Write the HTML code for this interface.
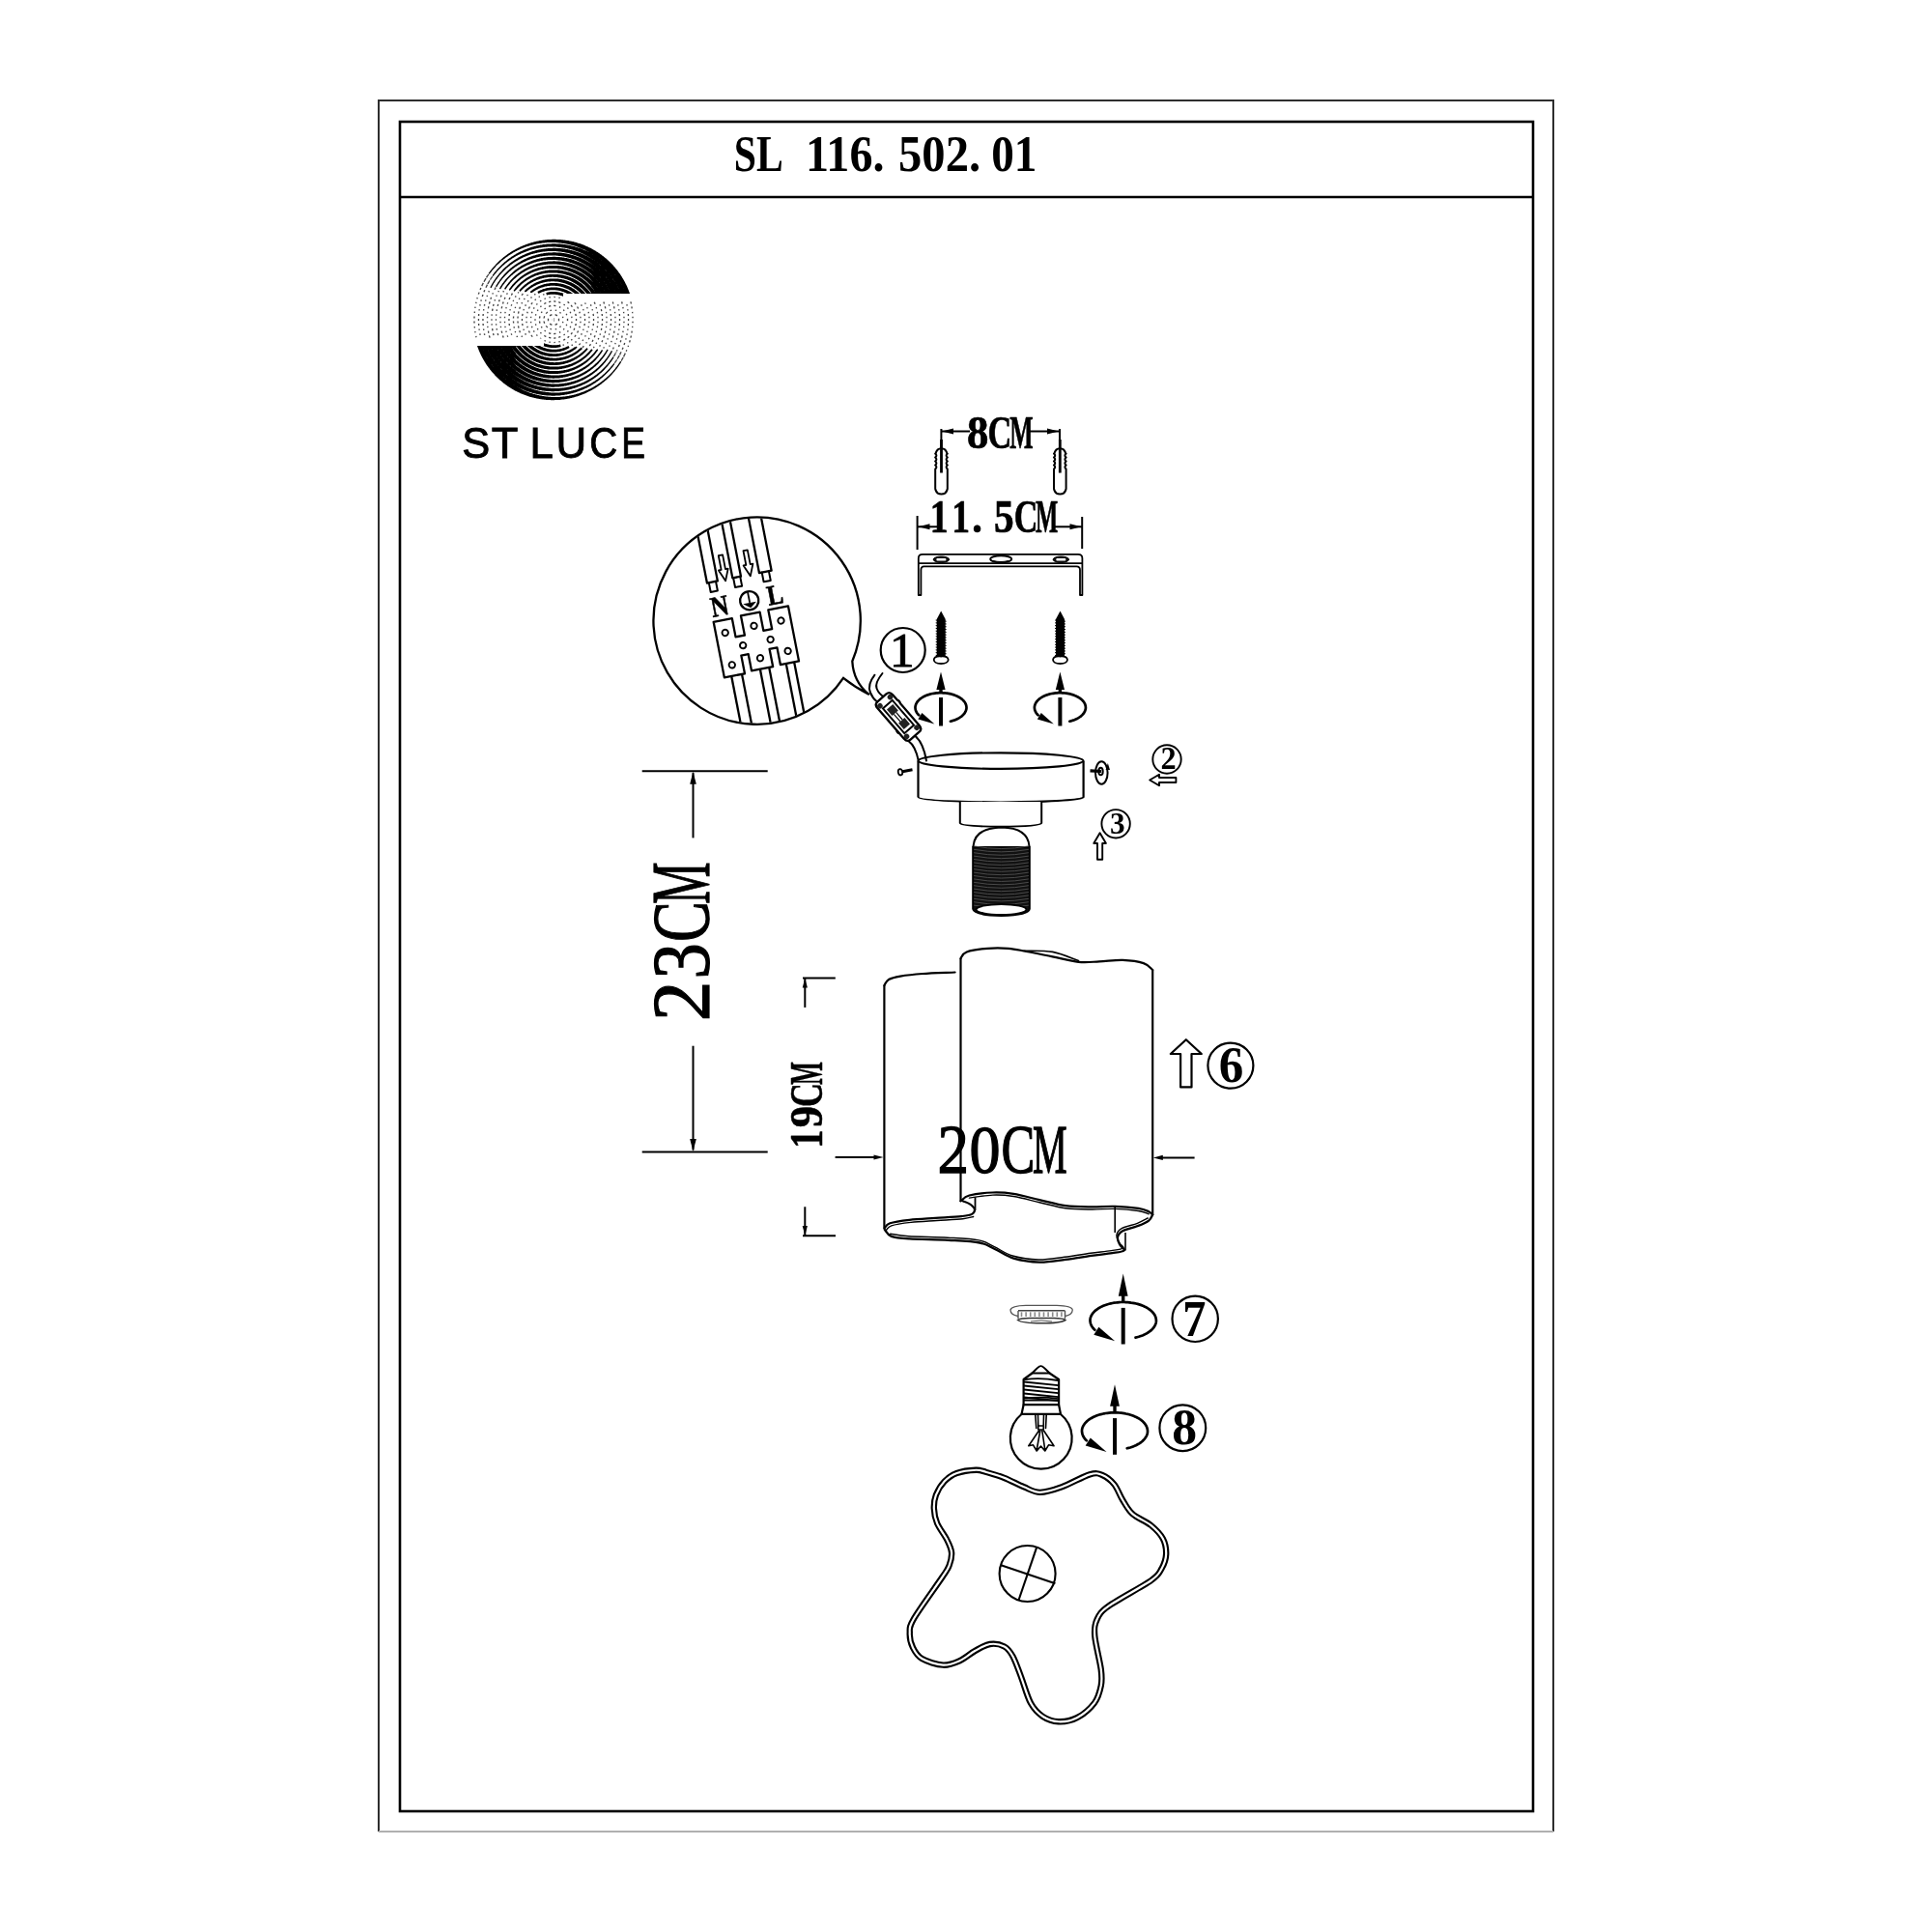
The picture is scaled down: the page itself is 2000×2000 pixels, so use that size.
<!DOCTYPE html>
<html><head><meta charset="utf-8"><title>SL 116.502.01</title><style>
html,body{margin:0;padding:0;background:#fff;}
body{width:2000px;height:2000px;overflow:hidden;position:relative}
svg{position:absolute;left:0;top:0;display:block;will-change:transform}
</style></head><body>
<svg width="2000" height="2000" viewBox="0 0 2000 2000">
<rect width="2000" height="2000" fill="#fff"/>
<path d="M392,1896 L392,104 L1608,104 L1608,1896" fill="none" stroke="#2e2e2e" stroke-width="2"/>
<line x1="392" y1="1896" x2="1608" y2="1896" stroke="#b0b0b0" stroke-width="1.8"/>
<rect x="414" y="126" width="1173" height="1749" fill="none" stroke="#000" stroke-width="2.6"/>
<line x1="414" y1="204" x2="1587" y2="204" stroke="#000" stroke-width="2.6"/>
<path fill="#000" d="M643.3,374.6L643.1,375.0L642.7,375.6L642.3,376.2L641.9,376.7L641.5,377.3L641.1,377.9L640.7,378.5L640.3,379.1L639.9,379.7L639.5,380.2L639.0,380.8L638.6,381.4L638.2,382.0L637.7,382.5L637.3,383.1L636.8,383.6L636.4,384.2L635.9,384.7L635.4,385.3L635.0,385.8L634.5,386.3L634.0,386.9L633.5,387.4L633.1,387.9L632.6,388.4L632.1,388.9L631.6,389.4L631.1,390.0L630.6,390.5L630.1,391.0L629.5,391.4L629.0,391.9L628.5,392.4L628.0,392.9L627.4,393.4L626.9,393.8L626.4,394.3L625.8,394.8L625.3,395.2L624.7,395.7L624.1,396.1L623.6,396.6L623.0,397.0L622.5,397.4L621.9,397.9L621.3,398.3L620.7,398.7L620.1,399.1L619.6,399.5L619.0,399.9L618.4,400.3L617.8,400.7L617.2,401.1L616.6,401.5L616.0,401.9L615.4,402.2L614.7,402.6L614.1,403.0L613.5,403.3L612.9,403.7L612.3,404.0L611.6,404.3L611.0,404.7L610.4,405.0L609.7,405.3L609.1,405.6L608.4,406.0L607.8,406.3L607.2,406.6L606.5,406.9L605.8,407.2L605.2,407.4L604.5,407.7L603.9,408.0L603.2,408.3L602.5,408.5L601.9,408.8L601.2,409.0L600.5,409.3L599.9,409.5L599.2,409.7L598.5,410.0L597.8,410.2L597.1,410.4L596.5,410.6L595.8,410.8L595.1,411.0L594.4,411.2L593.7,411.4L593.0,411.6L592.3,411.8L591.6,411.9L590.9,412.1L590.2,412.2L589.5,412.4L588.8,412.5L588.1,412.7L587.4,412.8L586.7,412.9L586.0,413.1L585.3,413.2L584.6,413.3L583.9,413.4L583.2,413.5L582.5,413.6L581.8,413.6L581.0,413.7L580.3,413.8L579.6,413.9L578.9,413.9L578.2,414.0L577.5,414.0L576.8,414.1L576.0,414.1L575.3,414.1L574.6,414.1L573.9,414.2L573.2,414.2L572.5,414.2L571.7,414.2L571.0,414.2L570.3,414.2L569.6,414.1L568.9,414.1L568.2,414.1L567.4,414.0L566.7,414.0L566.0,413.9L565.3,413.9L564.6,413.8L563.9,413.7L563.2,413.7L562.4,413.6L561.7,413.5L561.0,413.4L560.3,413.3L559.6,413.2L558.9,413.1L558.2,413.0L557.5,412.8L556.8,412.7L556.1,412.6L555.4,412.4L554.7,412.3L554.0,412.1L553.3,412.0L552.6,411.8L551.9,411.6L551.2,411.4L550.5,411.2L549.8,411.1L549.1,410.9L548.4,410.7L547.7,410.4L547.0,410.2L546.3,410.0L545.7,409.8L545.0,409.5L544.3,409.3L543.6,409.1L543.0,408.8L542.3,408.6L541.6,408.3L541.0,408.0L540.3,407.7L539.6,407.5L539.0,407.2L538.3,406.9L537.7,406.6L537.0,406.3L536.3,406.0L535.7,405.7L535.1,405.3L534.4,405.0L533.8,404.7L533.1,404.4L532.5,404.0L531.9,403.7L531.3,403.3L530.6,403.0L530.0,402.6L529.4,402.2L528.8,401.8L528.2,401.4L527.6,401.1L527.0,400.7L526.4,400.3L525.8,399.9L525.2,399.5L524.6,399.0L524.0,398.6L523.4,398.2L522.8,397.8L522.3,397.3L521.7,396.9L521.1,396.4L520.6,396.0L520.0,395.5L519.5,395.1L518.9,394.6L518.4,394.1L517.8,393.7L517.3,393.2L516.8,392.7L516.2,392.2L515.7,391.7L515.2,391.2L514.7,390.7L514.1,390.2L513.6,389.7L513.1,389.2L512.6,388.7L512.1,388.2L511.7,387.6L511.2,387.1L510.7,386.6L510.2,386.0L509.7,385.5L509.3,384.9L508.8,384.4L508.3,383.8L507.9,383.3L507.4,382.7L507.0,382.2L506.6,381.6L506.1,381.0L505.7,380.4L505.3,379.8L504.9,379.3L504.4,378.7L504.0,378.1L503.6,377.5L503.2,376.9L502.8,376.3L502.5,375.7L502.1,375.1L501.7,374.5L501.3,373.8L501.0,373.2L500.6,372.6L500.2,372.0L499.9,371.3L499.5,370.7L499.2,370.1L498.9,369.4L498.5,368.8L498.2,368.2L497.9,367.5L497.6,366.9L497.3,366.2L497.0,365.6L496.7,364.9L496.4,364.2L496.1,363.6L495.8,362.9L495.6,362.2L495.3,361.6L495.0,360.9L494.8,360.2L494.5,359.6L494.3,358.9L494.1,358.2L493.8,357.5L493.6,356.8L493.5,356.5L497.8,355.1L497.9,355.4L498.1,356.1L498.3,356.7L498.5,357.4L498.8,358.0L499.0,358.7L499.2,359.3L499.5,359.9L499.7,360.6L500.0,361.2L500.3,361.8L500.5,362.4L500.8,363.1L501.1,363.7L501.4,364.3L501.7,364.9L502.0,365.5L502.3,366.2L502.6,366.8L502.9,367.4L503.2,368.0L503.5,368.6L503.8,369.2L504.2,369.8L504.5,370.4L504.8,370.9L505.2,371.5L505.5,372.1L505.9,372.7L506.3,373.3L506.6,373.8L507.0,374.4L507.4,375.0L507.8,375.5L508.1,376.1L508.5,376.7L508.9,377.2L509.3,377.8L509.7,378.3L510.1,378.9L510.6,379.4L511.0,379.9L511.4,380.5L511.8,381.0L512.3,381.5L512.7,382.0L513.1,382.6L513.6,383.1L514.0,383.6L514.5,384.1L515.0,384.6L515.4,385.1L515.9,385.6L516.4,386.1L516.8,386.6L517.3,387.0L517.8,387.5L518.3,388.0L518.8,388.5L519.3,388.9L519.8,389.4L520.3,389.8L520.8,390.3L521.3,390.7L521.8,391.2L522.4,391.6L522.9,392.1L523.4,392.5L523.9,392.9L524.5,393.3L525.0,393.8L525.6,394.2L526.1,394.6L526.6,395.0L527.2,395.4L527.8,395.8L528.3,396.1L528.9,396.5L529.4,396.9L530.0,397.3L530.6,397.7L531.2,398.0L531.7,398.4L532.3,398.7L532.9,399.1L533.5,399.4L534.1,399.8L534.7,400.1L535.3,400.5L535.9,400.8L536.4,401.1L537.0,401.5L537.6,401.8L538.3,402.1L538.9,402.4L539.5,402.7L540.1,403.0L540.7,403.3L541.3,403.6L541.9,403.9L542.6,404.2L543.2,404.4L543.8,404.7L544.4,405.0L545.1,405.2L545.7,405.5L546.3,405.7L547.0,406.0L547.6,406.2L548.3,406.4L548.9,406.7L549.6,406.9L550.2,407.1L550.9,407.3L551.5,407.5L552.2,407.7L552.8,407.9L553.5,408.1L554.2,408.3L554.8,408.4L555.5,408.6L556.2,408.8L556.8,408.9L557.5,409.1L558.2,409.2L558.8,409.4L559.5,409.5L560.2,409.6L560.9,409.8L561.5,409.9L562.2,410.0L562.9,410.1L563.6,410.2L564.3,410.3L564.9,410.4L565.6,410.5L566.3,410.5L567.0,410.6L567.7,410.7L568.4,410.7L569.0,410.8L569.7,410.8L570.4,410.9L571.1,410.9L571.8,410.9L572.5,411.0L573.2,411.0L573.9,411.0L574.6,411.0L575.2,411.0L575.9,411.0L576.6,411.0L577.3,411.0L578.0,410.9L578.7,410.9L579.4,410.9L580.1,410.8L580.8,410.8L581.4,410.7L582.1,410.7L582.8,410.6L583.5,410.5L584.2,410.5L584.9,410.4L585.6,410.3L586.3,410.2L586.9,410.1L587.6,410.0L588.3,409.9L589.0,409.7L589.7,409.6L590.4,409.5L591.0,409.3L591.7,409.2L592.4,409.0L593.1,408.9L593.7,408.7L594.4,408.6L595.1,408.4L595.8,408.2L596.4,408.0L597.1,407.8L597.8,407.6L598.4,407.4L599.1,407.2L599.7,407.0L600.4,406.8L601.1,406.6L601.7,406.3L602.4,406.1L603.0,405.9L603.7,405.6L604.3,405.4L605.0,405.1L605.6,404.8L606.2,404.6L606.9,404.3L607.5,404.0L608.2,403.7L608.8,403.4L609.4,403.1L610.0,402.8L610.7,402.5L611.3,402.2L611.9,401.9L612.5,401.5L613.1,401.2L613.7,400.9L614.4,400.5L615.0,400.2L615.6,399.8L616.2,399.5L616.7,399.1L617.3,398.7L617.9,398.4L618.5,398.0L619.1,397.6L619.7,397.2L620.3,396.8L620.8,396.4L621.4,396.0L622.0,395.6L622.5,395.2L623.1,394.8L623.6,394.3L624.2,393.9L624.7,393.5L625.3,393.0L625.8,392.6L626.4,392.1L626.9,391.7L627.4,391.2L628.0,390.8L628.5,390.3L629.0,389.8L629.5,389.4L630.0,388.9L630.5,388.4L631.0,387.9L631.5,387.4L632.0,386.9L632.5,386.4L633.0,385.9L633.5,385.4L633.9,384.9L634.4,384.4L634.9,383.8L635.3,383.3L635.8,382.8L636.2,382.2L636.7,381.7L637.1,381.1L637.5,380.6L637.9,380.0L638.4,379.4L638.8,378.9L639.2,378.3L639.6,377.7L640.0,377.2L640.4,376.6L640.8,376.0L641.2,375.4L641.5,374.8L641.9,374.2L642.1,373.9ZM505.7,282.9L505.9,282.6L506.3,282.0L506.8,281.5L507.2,280.9L507.6,280.3L508.1,279.8L508.5,279.2L509.0,278.7L509.4,278.1L509.9,277.6L510.3,277.0L510.8,276.5L511.3,275.9L511.7,275.4L512.2,274.9L512.7,274.4L513.2,273.8L513.7,273.3L514.2,272.8L514.7,272.3L515.2,271.8L515.7,271.3L516.2,270.8L516.7,270.3L517.2,269.8L517.8,269.3L518.3,268.9L518.8,268.4L519.4,267.9L519.9,267.5L520.5,267.0L521.0,266.6L521.6,266.1L522.1,265.7L522.7,265.2L523.3,264.8L523.8,264.4L524.4,263.9L525.0,263.5L525.6,263.1L526.1,262.7L526.7,262.3L527.3,261.9L527.9,261.5L528.5,261.1L529.1,260.7L529.7,260.3L530.3,260.0L530.9,259.6L531.6,259.2L532.2,258.9L532.8,258.5L533.4,258.2L534.1,257.8L534.7,257.5L535.3,257.2L536.0,256.8L536.6,256.5L537.2,256.2L537.9,255.9L538.5,255.6L539.2,255.3L539.8,255.0L540.5,254.7L541.1,254.4L541.8,254.1L542.5,253.9L543.1,253.6L543.8,253.4L544.5,253.1L545.1,252.9L545.8,252.6L546.5,252.4L547.2,252.1L547.8,251.9L548.5,251.7L549.2,251.5L549.9,251.3L550.6,251.1L551.3,250.9L551.9,250.7L552.6,250.5L553.3,250.3L554.0,250.2L554.7,250.0L555.4,249.8L556.1,249.7L556.8,249.5L557.5,249.4L558.2,249.3L558.9,249.1L559.6,249.0L560.3,248.9L561.0,248.8L561.8,248.7L562.5,248.6L563.2,248.5L563.9,248.4L564.6,248.3L565.3,248.2L566.0,248.2L566.7,248.1L567.5,248.1L568.2,248.0L568.9,248.0L569.6,247.9L570.3,247.9L571.0,247.9L571.7,247.8L572.5,247.8L573.2,247.8L573.9,247.8L574.6,247.8L575.3,247.8L576.0,247.9L576.8,247.9L577.5,247.9L578.2,247.9L578.9,248.0L579.6,248.0L580.3,248.1L581.1,248.2L581.8,248.2L582.5,248.3L583.2,248.4L583.9,248.5L584.6,248.6L585.3,248.7L586.0,248.8L586.8,248.9L587.5,249.0L588.2,249.1L588.9,249.2L589.6,249.4L590.3,249.5L591.0,249.7L591.7,249.8L592.4,250.0L593.1,250.1L593.8,250.3L594.5,250.5L595.2,250.7L595.9,250.8L596.6,251.0L597.3,251.2L597.9,251.5L598.6,251.7L599.3,251.9L600.0,252.1L600.7,252.3L601.4,252.6L602.0,252.8L602.7,253.1L603.4,253.3L604.0,253.6L604.7,253.8L605.4,254.1L606.0,254.4L606.7,254.7L607.4,255.0L608.0,255.3L608.7,255.6L609.3,255.9L610.0,256.2L610.6,256.5L611.3,256.8L611.9,257.1L612.5,257.5L613.2,257.8L613.8,258.2L614.4,258.5L615.1,258.9L615.7,259.2L616.3,259.6L616.9,260.0L617.5,260.4L618.1,260.7L618.7,261.1L619.3,261.5L619.9,261.9L620.5,262.3L621.1,262.8L621.7,263.2L622.3,263.6L622.9,264.0L623.4,264.5L624.0,264.9L624.6,265.3L625.1,265.8L625.7,266.2L626.3,266.7L626.8,267.2L627.4,267.6L627.9,268.1L628.4,268.6L629.0,269.0L629.5,269.5L630.0,270.0L630.6,270.5L631.1,271.0L631.6,271.5L632.1,272.0L632.6,272.5L633.1,273.0L633.6,273.6L634.1,274.1L634.6,274.6L635.1,275.2L635.6,275.7L636.0,276.2L636.5,276.8L637.0,277.3L637.4,277.9L637.9,278.4L638.3,279.0L638.8,279.6L639.2,280.1L639.7,280.7L640.1,281.3L640.5,281.9L640.9,282.4L641.3,283.0L641.8,283.6L642.2,284.2L642.6,284.8L643.0,285.4L643.4,286.0L643.7,286.6L644.1,287.2L644.5,287.9L644.9,288.5L645.2,289.1L645.6,289.7L645.9,290.3L646.3,291.0L646.6,291.6L647.0,292.2L647.3,292.9L647.6,293.5L647.9,294.2L648.3,294.8L648.6,295.5L648.9,296.1L649.2,296.8L649.5,297.4L649.7,298.1L650.0,298.8L650.3,299.4L650.6,300.1L650.8,300.8L651.1,301.4L651.3,302.1L651.6,302.8L651.8,303.5L652.1,304.1L652.3,304.8L652.4,305.2L648.1,306.6L648.0,306.2L647.8,305.6L647.6,304.9L647.4,304.3L647.1,303.7L646.9,303.0L646.6,302.4L646.4,301.8L646.1,301.1L645.9,300.5L645.6,299.9L645.3,299.2L645.1,298.6L644.8,298.0L644.5,297.4L644.2,296.8L643.9,296.2L643.6,295.5L643.3,294.9L643.0,294.3L642.7,293.7L642.3,293.1L642.0,292.5L641.7,291.9L641.3,291.4L641.0,290.8L640.6,290.2L640.3,289.6L639.9,289.0L639.6,288.4L639.2,287.9L638.8,287.3L638.4,286.7L638.1,286.2L637.7,285.6L637.3,285.1L636.9,284.5L636.5,284.0L636.1,283.4L635.6,282.9L635.2,282.3L634.8,281.8L634.4,281.3L634.0,280.7L633.5,280.2L633.1,279.7L632.6,279.2L632.2,278.7L631.7,278.2L631.3,277.7L630.8,277.2L630.3,276.7L629.9,276.2L629.4,275.7L628.9,275.2L628.4,274.7L628.0,274.2L627.5,273.8L627.0,273.3L626.5,272.8L626.0,272.4L625.5,271.9L624.9,271.5L624.4,271.0L623.9,270.6L623.4,270.2L622.9,269.7L622.3,269.3L621.8,268.9L621.3,268.5L620.7,268.0L620.2,267.6L619.6,267.2L619.1,266.8L618.5,266.4L618.0,266.0L617.4,265.7L616.8,265.3L616.3,264.9L615.7,264.5L615.1,264.2L614.5,263.8L614.0,263.5L613.4,263.1L612.8,262.8L612.2,262.4L611.6,262.1L611.0,261.7L610.4,261.4L609.9,261.0L609.3,260.7L608.7,260.4L608.1,260.1L607.4,259.8L606.8,259.4L606.2,259.1L605.6,258.8L605.0,258.6L604.4,258.3L603.8,258.0L603.1,257.7L602.5,257.4L601.9,257.2L601.2,256.9L600.6,256.7L600.0,256.4L599.3,256.2L598.7,255.9L598.0,255.7L597.4,255.5L596.8,255.2L596.1,255.0L595.5,254.8L594.8,254.6L594.1,254.4L593.5,254.2L592.8,254.0L592.2,253.8L591.5,253.7L590.8,253.5L590.2,253.3L589.5,253.2L588.8,253.0L588.2,252.8L587.5,252.7L586.8,252.6L586.2,252.4L585.5,252.3L584.8,252.2L584.1,252.1L583.4,252.0L582.8,251.9L582.1,251.8L581.4,251.7L580.7,251.6L580.0,251.5L579.4,251.4L578.7,251.4L578.0,251.3L577.3,251.2L576.6,251.2L575.9,251.1L575.2,251.1L574.6,251.1L573.9,251.0L573.2,251.0L572.5,251.0L571.8,251.0L571.1,251.0L570.4,251.0L569.7,251.0L569.0,251.0L568.3,251.1L567.7,251.1L567.0,251.1L566.3,251.1L565.6,251.2L564.9,251.2L564.2,251.3L563.5,251.4L562.8,251.4L562.1,251.5L561.5,251.6L560.8,251.7L560.1,251.8L559.4,251.9L558.7,252.0L558.0,252.1L557.3,252.2L556.7,252.3L556.0,252.5L555.3,252.6L554.6,252.7L553.9,252.9L553.3,253.0L552.6,253.2L551.9,253.4L551.3,253.5L550.6,253.7L549.9,253.9L549.2,254.1L548.6,254.3L547.9,254.5L547.2,254.7L546.6,254.9L545.9,255.1L545.3,255.3L544.6,255.5L544.0,255.8L543.3,256.0L542.7,256.3L542.0,256.5L541.4,256.8L540.7,257.0L540.1,257.3L539.4,257.6L538.8,257.9L538.2,258.1L537.5,258.4L536.9,258.7L536.3,259.0L535.6,259.3L535.0,259.7L534.4,260.0L533.8,260.3L533.2,260.6L532.6,261.0L532.0,261.3L531.3,261.6L530.7,262.0L530.1,262.4L529.5,262.7L529.0,263.1L528.4,263.5L527.8,263.8L527.2,264.2L526.6,264.6L526.0,265.0L525.5,265.4L524.9,265.8L524.3,266.2L523.8,266.6L523.2,267.0L522.6,267.4L522.1,267.9L521.5,268.3L521.0,268.7L520.4,269.2L519.9,269.6L519.4,270.1L518.8,270.5L518.3,271.0L517.8,271.5L517.3,271.9L516.8,272.4L516.2,272.9L515.7,273.4L515.2,273.8L514.7,274.3L514.2,274.8L513.7,275.3L513.3,275.8L512.8,276.4L512.3,276.9L511.8,277.4L511.4,277.9L510.9,278.4L510.4,279.0L510.0,279.5L509.6,280.1L509.1,280.6L508.7,281.2L508.3,281.7L507.8,282.3L507.4,282.8L507.0,283.4L506.8,283.7ZM636.4,376.8L636.2,377.1L635.8,377.7L635.3,378.2L634.9,378.8L634.5,379.4L634.0,379.9L633.6,380.5L633.1,381.0L632.7,381.6L632.2,382.1L631.7,382.7L631.3,383.2L630.8,383.7L630.3,384.3L629.8,384.8L629.3,385.3L628.8,385.8L628.3,386.3L627.8,386.8L627.3,387.3L626.8,387.8L626.3,388.3L625.8,388.8L625.2,389.3L624.7,389.8L624.2,390.3L623.6,390.7L623.1,391.2L622.5,391.6L622.0,392.1L621.4,392.5L620.9,393.0L620.3,393.4L619.7,393.9L619.2,394.3L618.6,394.7L618.0,395.1L617.4,395.5L616.8,396.0L616.2,396.4L615.6,396.7L615.0,397.1L614.4,397.5L613.8,397.9L613.2,398.3L612.6,398.6L612.0,399.0L611.4,399.4L610.7,399.7L610.1,400.1L609.5,400.4L608.9,400.7L608.2,401.1L607.6,401.4L606.9,401.7L606.3,402.0L605.6,402.3L605.0,402.6L604.3,402.9L603.7,403.2L603.0,403.5L602.4,403.8L601.7,404.0L601.0,404.3L600.4,404.5L599.7,404.8L599.0,405.0L598.3,405.3L597.7,405.5L597.0,405.7L596.3,406.0L595.6,406.2L594.9,406.4L594.2,406.6L593.6,406.8L592.9,407.0L592.2,407.2L591.5,407.3L590.8,407.5L590.1,407.7L589.4,407.8L588.7,408.0L588.0,408.1L587.3,408.3L586.6,408.4L585.9,408.5L585.2,408.6L584.4,408.8L583.7,408.9L583.0,409.0L582.3,409.1L581.6,409.1L580.9,409.2L580.2,409.3L579.5,409.4L578.7,409.4L578.0,409.5L577.3,409.5L576.6,409.6L575.9,409.6L575.2,409.6L574.4,409.7L573.7,409.7L573.0,409.7L572.3,409.7L571.6,409.7L570.8,409.7L570.1,409.6L569.4,409.6L568.7,409.6L568.0,409.6L567.3,409.5L566.5,409.5L565.8,409.4L565.1,409.3L564.4,409.3L563.7,409.2L563.0,409.1L562.2,409.0L561.5,408.9L560.8,408.8L560.1,408.7L559.4,408.6L558.7,408.5L558.0,408.3L557.3,408.2L556.6,408.1L555.9,407.9L555.2,407.8L554.5,407.6L553.8,407.4L553.1,407.3L552.4,407.1L551.7,406.9L551.0,406.7L550.3,406.5L549.6,406.3L548.9,406.1L548.2,405.9L547.5,405.6L546.9,405.4L546.2,405.2L545.5,404.9L544.8,404.7L544.1,404.4L543.5,404.2L542.8,403.9L542.1,403.6L541.5,403.3L540.8,403.1L540.2,402.8L539.5,402.5L538.8,402.2L538.2,401.9L537.5,401.5L536.9,401.2L536.3,400.9L535.6,400.6L535.0,400.2L534.3,399.9L533.7,399.5L533.1,399.2L532.5,398.8L531.8,398.4L531.2,398.1L530.6,397.7L530.0,397.3L529.4,396.9L528.8,396.5L528.2,396.1L527.6,395.7L527.0,395.2L526.4,394.8L525.9,394.4L525.3,394.0L524.7,393.5L524.1,393.1L523.6,392.6L523.0,392.2L522.5,391.7L521.9,391.3L521.4,390.8L520.8,390.3L520.3,389.8L519.7,389.4L519.2,388.9L518.7,388.4L518.2,387.9L517.7,387.4L517.1,386.9L516.6,386.3L516.1,385.8L515.6,385.3L515.1,384.8L514.6,384.3L514.2,383.7L513.7,383.2L513.2,382.6L512.7,382.1L512.3,381.5L511.8,381.0L511.4,380.4L510.9,379.9L510.5,379.3L510.0,378.7L509.6,378.1L509.2,377.6L508.8,377.0L508.3,376.4L507.9,375.8L507.5,375.2L507.1,374.6L506.7,374.0L506.3,373.4L505.9,372.8L505.6,372.2L505.2,371.5L504.8,370.9L504.5,370.3L504.1,369.7L503.8,369.0L503.4,368.4L503.1,367.8L502.7,367.1L502.4,366.5L502.1,365.8L501.8,365.2L501.5,364.5L501.2,363.9L500.9,363.2L500.6,362.6L500.3,361.9L500.0,361.2L499.7,360.6L499.5,359.9L499.2,359.2L499.0,358.5L498.7,357.9L498.5,357.2L498.2,356.5L498.1,356.2L502.4,354.7L502.5,355.1L502.7,355.7L502.9,356.3L503.2,357.0L503.4,357.6L503.7,358.2L503.9,358.9L504.2,359.5L504.4,360.1L504.7,360.8L505.0,361.4L505.3,362.0L505.5,362.6L505.8,363.2L506.1,363.8L506.4,364.5L506.7,365.1L507.1,365.7L507.4,366.3L507.7,366.9L508.0,367.5L508.4,368.1L508.7,368.6L509.1,369.2L509.4,369.8L509.8,370.4L510.1,371.0L510.5,371.5L510.9,372.1L511.2,372.7L511.6,373.2L512.0,373.8L512.4,374.3L512.8,374.9L513.2,375.4L513.6,376.0L514.0,376.5L514.5,377.1L514.9,377.6L515.3,378.1L515.7,378.7L516.2,379.2L516.6,379.7L517.1,380.2L517.5,380.7L518.0,381.2L518.4,381.7L518.9,382.2L519.4,382.7L519.8,383.2L520.3,383.7L520.8,384.2L521.3,384.6L521.8,385.1L522.3,385.6L522.8,386.0L523.3,386.5L523.8,386.9L524.3,387.4L524.8,387.8L525.3,388.3L525.9,388.7L526.4,389.1L526.9,389.5L527.5,390.0L528.0,390.4L528.6,390.8L529.1,391.2L529.7,391.6L530.2,392.0L530.8,392.4L531.3,392.8L531.9,393.1L532.5,393.5L533.0,393.9L533.6,394.2L534.2,394.6L534.8,395.0L535.3,395.3L535.9,395.7L536.5,396.0L537.1,396.4L537.7,396.7L538.3,397.1L538.9,397.4L539.5,397.7L540.1,398.0L540.7,398.3L541.3,398.6L541.9,398.9L542.5,399.2L543.1,399.5L543.8,399.8L544.4,400.1L545.0,400.4L545.6,400.6L546.3,400.9L546.9,401.1L547.5,401.4L548.2,401.6L548.8,401.9L549.5,402.1L550.1,402.3L550.8,402.6L551.4,402.8L552.1,403.0L552.7,403.2L553.4,403.4L554.0,403.6L554.7,403.8L555.3,403.9L556.0,404.1L556.7,404.3L557.3,404.4L558.0,404.6L558.7,404.8L559.4,404.9L560.0,405.0L560.7,405.2L561.4,405.3L562.0,405.4L562.7,405.5L563.4,405.6L564.1,405.7L564.8,405.8L565.4,405.9L566.1,406.0L566.8,406.1L567.5,406.1L568.2,406.2L568.9,406.3L569.6,406.3L570.2,406.4L570.9,406.4L571.6,406.4L572.3,406.5L573.0,406.5L573.7,406.5L574.4,406.5L575.1,406.5L575.8,406.5L576.4,406.5L577.1,406.5L577.8,406.4L578.5,406.4L579.2,406.4L579.9,406.3L580.6,406.3L581.3,406.2L582.0,406.2L582.7,406.1L583.3,406.0L584.0,405.9L584.7,405.8L585.4,405.7L586.1,405.6L586.8,405.5L587.5,405.4L588.1,405.3L588.8,405.2L589.5,405.0L590.2,404.9L590.9,404.8L591.5,404.6L592.2,404.4L592.9,404.3L593.5,404.1L594.2,403.9L594.9,403.8L595.6,403.6L596.2,403.4L596.9,403.2L597.6,403.0L598.2,402.8L598.9,402.5L599.5,402.3L600.2,402.1L600.8,401.8L601.5,401.6L602.1,401.3L602.8,401.1L603.4,400.8L604.1,400.6L604.7,400.3L605.3,400.0L606.0,399.7L606.6,399.4L607.2,399.1L607.9,398.8L608.5,398.5L609.1,398.2L609.7,397.9L610.3,397.5L611.0,397.2L611.6,396.9L612.2,396.5L612.8,396.2L613.4,395.8L614.0,395.5L614.6,395.1L615.2,394.7L615.8,394.4L616.3,394.0L616.9,393.6L617.5,393.2L618.1,392.8L618.6,392.4L619.2,392.0L619.8,391.6L620.3,391.2L620.9,390.7L621.4,390.3L622.0,389.9L622.5,389.4L623.1,389.0L623.6,388.5L624.1,388.1L624.7,387.6L625.2,387.2L625.7,386.7L626.2,386.2L626.7,385.7L627.2,385.2L627.7,384.8L628.2,384.3L628.7,383.8L629.2,383.3L629.7,382.7L630.2,382.2L630.7,381.7L631.1,381.2L631.6,380.7L632.0,380.1L632.5,379.6L633.0,379.1L633.4,378.5L633.8,378.0L634.3,377.4L634.7,376.9L635.1,376.3L635.3,376.0ZM509.6,285.2L509.8,284.9L510.2,284.3L510.7,283.8L511.1,283.2L511.5,282.6L512.0,282.1L512.4,281.5L512.9,281.0L513.3,280.4L513.8,279.9L514.3,279.3L514.7,278.8L515.2,278.3L515.7,277.7L516.2,277.2L516.7,276.7L517.2,276.2L517.7,275.7L518.2,275.2L518.7,274.7L519.2,274.2L519.7,273.7L520.2,273.2L520.8,272.7L521.3,272.2L521.8,271.7L522.4,271.3L522.9,270.8L523.5,270.4L524.0,269.9L524.6,269.5L525.1,269.0L525.7,268.6L526.3,268.1L526.8,267.7L527.4,267.3L528.0,266.9L528.6,266.5L529.2,266.0L529.8,265.6L530.4,265.3L531.0,264.9L531.6,264.5L532.2,264.1L532.8,263.7L533.4,263.4L534.0,263.0L534.6,262.6L535.3,262.3L535.9,261.9L536.5,261.6L537.1,261.3L537.8,260.9L538.4,260.6L539.1,260.3L539.7,260.0L540.4,259.7L541.0,259.4L541.7,259.1L542.3,258.8L543.0,258.5L543.6,258.2L544.3,258.0L545.0,257.7L545.6,257.5L546.3,257.2L547.0,257.0L547.7,256.7L548.3,256.5L549.0,256.3L549.7,256.0L550.4,255.8L551.1,255.6L551.8,255.4L552.4,255.2L553.1,255.0L553.8,254.8L554.5,254.7L555.2,254.5L555.9,254.3L556.6,254.2L557.3,254.0L558.0,253.9L558.7,253.7L559.4,253.6L560.1,253.5L560.8,253.4L561.6,253.2L562.3,253.1L563.0,253.0L563.7,252.9L564.4,252.9L565.1,252.8L565.8,252.7L566.5,252.6L567.3,252.6L568.0,252.5L568.7,252.5L569.4,252.4L570.1,252.4L570.8,252.4L571.6,252.3L572.3,252.3L573.0,252.3L573.7,252.3L574.4,252.3L575.2,252.3L575.9,252.4L576.6,252.4L577.3,252.4L578.0,252.4L578.7,252.5L579.5,252.5L580.2,252.6L580.9,252.7L581.6,252.7L582.3,252.8L583.0,252.9L583.8,253.0L584.5,253.1L585.2,253.2L585.9,253.3L586.6,253.4L587.3,253.5L588.0,253.7L588.7,253.8L589.4,253.9L590.1,254.1L590.8,254.2L591.5,254.4L592.2,254.6L592.9,254.7L593.6,254.9L594.3,255.1L595.0,255.3L595.7,255.5L596.4,255.7L597.1,255.9L597.8,256.1L598.5,256.4L599.1,256.6L599.8,256.8L600.5,257.1L601.2,257.3L601.9,257.6L602.5,257.8L603.2,258.1L603.9,258.4L604.5,258.7L605.2,258.9L605.8,259.2L606.5,259.5L607.2,259.8L607.8,260.1L608.5,260.5L609.1,260.8L609.7,261.1L610.4,261.4L611.0,261.8L611.7,262.1L612.3,262.5L612.9,262.8L613.5,263.2L614.2,263.6L614.8,263.9L615.4,264.3L616.0,264.7L616.6,265.1L617.2,265.5L617.8,265.9L618.4,266.3L619.0,266.8L619.6,267.2L620.1,267.6L620.7,268.0L621.3,268.5L621.9,268.9L622.4,269.4L623.0,269.8L623.5,270.3L624.1,270.7L624.6,271.2L625.2,271.7L625.7,272.2L626.3,272.6L626.8,273.1L627.3,273.6L627.8,274.1L628.3,274.6L628.9,275.1L629.4,275.7L629.9,276.2L630.4,276.7L630.9,277.2L631.4,277.7L631.8,278.3L632.3,278.8L632.8,279.4L633.3,279.9L633.7,280.5L634.2,281.0L634.6,281.6L635.1,282.1L635.5,282.7L636.0,283.3L636.4,283.9L636.8,284.4L637.2,285.0L637.7,285.6L638.1,286.2L638.5,286.8L638.9,287.4L639.3,288.0L639.7,288.6L640.1,289.2L640.4,289.8L640.8,290.5L641.2,291.1L641.5,291.7L641.9,292.3L642.2,293.0L642.6,293.6L642.9,294.2L643.3,294.9L643.6,295.5L643.9,296.2L644.2,296.8L644.5,297.5L644.8,298.1L645.1,298.8L645.4,299.4L645.7,300.1L646.0,300.8L646.3,301.4L646.5,302.1L646.8,302.8L647.0,303.5L647.3,304.1L647.5,304.8L647.8,305.5L647.9,305.8L643.6,307.3L643.5,306.9L643.3,306.3L643.1,305.7L642.8,305.0L642.6,304.4L642.3,303.8L642.1,303.1L641.8,302.5L641.6,301.9L641.3,301.2L641.0,300.6L640.7,300.0L640.5,299.4L640.2,298.8L639.9,298.2L639.6,297.5L639.3,296.9L638.9,296.3L638.6,295.7L638.3,295.1L638.0,294.5L637.6,293.9L637.3,293.4L636.9,292.8L636.6,292.2L636.2,291.6L635.9,291.0L635.5,290.5L635.1,289.9L634.8,289.3L634.4,288.8L634.0,288.2L633.6,287.7L633.2,287.1L632.8,286.6L632.4,286.0L632.0,285.5L631.5,284.9L631.1,284.4L630.7,283.9L630.3,283.3L629.8,282.8L629.4,282.3L628.9,281.8L628.5,281.3L628.0,280.8L627.6,280.3L627.1,279.8L626.6,279.3L626.2,278.8L625.7,278.3L625.2,277.8L624.7,277.4L624.2,276.9L623.7,276.4L623.2,276.0L622.7,275.5L622.2,275.1L621.7,274.6L621.2,274.2L620.7,273.7L620.1,273.3L619.6,272.9L619.1,272.5L618.5,272.0L618.0,271.6L617.4,271.2L616.9,270.8L616.3,270.4L615.8,270.0L615.2,269.6L614.7,269.2L614.1,268.9L613.5,268.5L613.0,268.1L612.4,267.8L611.8,267.4L611.2,267.0L610.7,266.7L610.1,266.3L609.5,266.0L608.9,265.6L608.3,265.3L607.7,264.9L607.1,264.6L606.5,264.3L605.9,264.0L605.3,263.7L604.7,263.4L604.1,263.1L603.5,262.8L602.9,262.5L602.2,262.2L601.6,261.9L601.0,261.6L600.4,261.4L599.7,261.1L599.1,260.9L598.5,260.6L597.8,260.4L597.2,260.1L596.5,259.9L595.9,259.7L595.2,259.4L594.6,259.2L593.9,259.0L593.3,258.8L592.6,258.6L592.0,258.4L591.3,258.2L590.7,258.1L590.0,257.9L589.3,257.7L588.7,257.6L588.0,257.4L587.3,257.2L586.6,257.1L586.0,257.0L585.3,256.8L584.6,256.7L584.0,256.6L583.3,256.5L582.6,256.4L581.9,256.3L581.2,256.2L580.6,256.1L579.9,256.0L579.2,255.9L578.5,255.9L577.8,255.8L577.1,255.7L576.4,255.7L575.8,255.6L575.1,255.6L574.4,255.6L573.7,255.5L573.0,255.5L572.3,255.5L571.6,255.5L570.9,255.5L570.2,255.5L569.6,255.5L568.9,255.5L568.2,255.6L567.5,255.6L566.8,255.6L566.1,255.7L565.4,255.7L564.7,255.8L564.0,255.8L563.3,255.9L562.7,256.0L562.0,256.1L561.3,256.2L560.6,256.3L559.9,256.4L559.2,256.5L558.5,256.6L557.9,256.7L557.2,256.8L556.5,257.0L555.8,257.1L555.1,257.2L554.5,257.4L553.8,257.6L553.1,257.7L552.5,257.9L551.8,258.1L551.1,258.2L550.4,258.4L549.8,258.6L549.1,258.8L548.4,259.0L547.8,259.2L547.1,259.5L546.5,259.7L545.8,259.9L545.2,260.2L544.5,260.4L543.9,260.7L543.2,260.9L542.6,261.2L541.9,261.4L541.3,261.7L540.7,262.0L540.0,262.3L539.4,262.6L538.8,262.9L538.1,263.2L537.5,263.5L536.9,263.8L536.3,264.1L535.7,264.5L535.0,264.8L534.4,265.1L533.8,265.5L533.2,265.8L532.6,266.2L532.0,266.5L531.4,266.9L530.8,267.3L530.2,267.6L529.7,268.0L529.1,268.4L528.5,268.8L527.9,269.2L527.4,269.6L526.8,270.0L526.2,270.4L525.7,270.8L525.1,271.3L524.6,271.7L524.0,272.1L523.5,272.6L522.9,273.0L522.4,273.5L521.9,273.9L521.3,274.4L520.8,274.8L520.3,275.3L519.8,275.8L519.3,276.3L518.8,276.8L518.3,277.2L517.8,277.7L517.3,278.2L516.8,278.7L516.3,279.3L515.8,279.8L515.3,280.3L514.9,280.8L514.4,281.3L514.0,281.9L513.5,282.4L513.0,282.9L512.6,283.5L512.2,284.0L511.7,284.6L511.3,285.1L510.9,285.7L510.7,286.0ZM635.5,370.0L635.4,370.3L635.0,370.9L634.6,371.5L634.2,372.1L633.8,372.7L633.4,373.3L633.0,373.9L632.6,374.4L632.1,375.0L631.7,375.6L631.3,376.2L630.8,376.7L630.4,377.3L629.9,377.8L629.5,378.4L629.0,378.9L628.6,379.5L628.1,380.0L627.6,380.6L627.1,381.1L626.7,381.6L626.2,382.1L625.7,382.7L625.2,383.2L624.7,383.7L624.2,384.2L623.6,384.7L623.1,385.2L622.6,385.7L622.1,386.1L621.5,386.6L621.0,387.1L620.4,387.5L619.9,388.0L619.3,388.5L618.8,388.9L618.2,389.4L617.7,389.8L617.1,390.2L616.5,390.7L615.9,391.1L615.4,391.5L614.8,391.9L614.2,392.3L613.6,392.7L613.0,393.1L612.4,393.5L611.8,393.9L611.2,394.3L610.6,394.6L610.0,395.0L609.3,395.4L608.7,395.7L608.1,396.1L607.5,396.4L606.8,396.7L606.2,397.1L605.5,397.4L604.9,397.7L604.3,398.0L603.6,398.3L602.9,398.6L602.3,398.9L601.6,399.2L601.0,399.5L600.3,399.7L599.6,400.0L599.0,400.3L598.3,400.5L597.6,400.8L597.0,401.0L596.3,401.2L595.6,401.5L594.9,401.7L594.2,401.9L593.5,402.1L592.9,402.3L592.2,402.5L591.5,402.7L590.8,402.9L590.1,403.1L589.4,403.2L588.7,403.4L588.0,403.5L587.3,403.7L586.6,403.8L585.9,404.0L585.2,404.1L584.4,404.2L583.7,404.3L583.0,404.4L582.3,404.5L581.6,404.6L580.9,404.7L580.2,404.8L579.5,404.8L578.7,404.9L578.0,405.0L577.3,405.0L576.6,405.1L575.9,405.1L575.2,405.1L574.4,405.1L573.7,405.2L573.0,405.2L572.3,405.2L571.6,405.2L570.8,405.2L570.1,405.1L569.4,405.1L568.7,405.1L568.0,405.0L567.2,405.0L566.5,404.9L565.8,404.9L565.1,404.8L564.4,404.7L563.7,404.7L563.0,404.6L562.2,404.5L561.5,404.4L560.8,404.3L560.1,404.1L559.4,404.0L558.7,403.9L558.0,403.8L557.3,403.6L556.6,403.5L555.9,403.3L555.2,403.1L554.5,403.0L553.8,402.8L553.1,402.6L552.4,402.4L551.7,402.2L551.0,402.0L550.3,401.8L549.6,401.6L548.9,401.4L548.2,401.1L547.6,400.9L546.9,400.6L546.2,400.4L545.5,400.1L544.9,399.9L544.2,399.6L543.5,399.3L542.9,399.0L542.2,398.7L541.6,398.4L540.9,398.1L540.2,397.8L539.6,397.5L539.0,397.2L538.3,396.9L537.7,396.5L537.0,396.2L536.4,395.8L535.8,395.5L535.1,395.1L534.5,394.7L533.9,394.4L533.3,394.0L532.7,393.6L532.1,393.2L531.5,392.8L530.9,392.4L530.3,392.0L529.7,391.6L529.1,391.2L528.5,390.8L527.9,390.3L527.4,389.9L526.8,389.4L526.2,389.0L525.7,388.5L525.1,388.1L524.6,387.6L524.0,387.1L523.5,386.7L522.9,386.2L522.4,385.7L521.9,385.2L521.4,384.7L520.8,384.2L520.3,383.7L519.8,383.2L519.3,382.6L518.8,382.1L518.3,381.6L517.8,381.1L517.3,380.5L516.9,380.0L516.4,379.4L515.9,378.9L515.5,378.3L515.0,377.8L514.6,377.2L514.1,376.6L513.7,376.1L513.2,375.5L512.8,374.9L512.4,374.3L512.0,373.7L511.6,373.1L511.2,372.5L510.8,371.9L510.4,371.3L510.0,370.7L509.6,370.1L509.2,369.5L508.8,368.9L508.5,368.2L508.1,367.6L507.8,367.0L507.4,366.4L507.1,365.7L506.8,365.1L506.4,364.4L506.1,363.8L505.8,363.1L505.5,362.5L505.2,361.8L504.9,361.2L504.6,360.5L504.3,359.8L504.0,359.2L503.8,358.5L503.5,357.8L503.2,357.2L503.1,356.8L507.3,355.3L507.5,355.6L507.7,356.2L507.9,356.8L508.2,357.5L508.5,358.1L508.7,358.7L509.0,359.3L509.3,360.0L509.6,360.6L509.8,361.2L510.1,361.8L510.4,362.4L510.8,363.0L511.1,363.6L511.4,364.2L511.7,364.8L512.0,365.4L512.4,366.0L512.7,366.6L513.1,367.2L513.4,367.7L513.8,368.3L514.1,368.9L514.5,369.5L514.9,370.0L515.3,370.6L515.7,371.2L516.1,371.7L516.4,372.3L516.9,372.8L517.3,373.3L517.7,373.9L518.1,374.4L518.5,374.9L518.9,375.5L519.4,376.0L519.8,376.5L520.3,377.0L520.7,377.5L521.2,378.0L521.6,378.5L522.1,379.0L522.6,379.5L523.0,380.0L523.5,380.5L524.0,381.0L524.5,381.4L525.0,381.9L525.5,382.4L526.0,382.8L526.5,383.3L527.0,383.7L527.5,384.2L528.0,384.6L528.5,385.1L529.1,385.5L529.6,385.9L530.1,386.3L530.7,386.7L531.2,387.1L531.7,387.6L532.3,387.9L532.8,388.3L533.4,388.7L533.9,389.2L534.5,389.6L535.1,389.9L535.6,390.3L536.2,390.7L536.8,391.0L537.3,391.4L537.9,391.7L538.5,392.1L539.1,392.4L539.7,392.8L540.3,393.1L540.9,393.4L541.5,393.7L542.1,394.1L542.7,394.4L543.3,394.7L543.9,395.0L544.5,395.3L545.2,395.5L545.8,395.8L546.4,396.1L547.0,396.4L547.7,396.6L548.3,396.9L548.9,397.1L549.6,397.4L550.2,397.6L550.8,397.9L551.5,398.1L552.1,398.3L552.8,398.5L553.4,398.7L554.1,398.9L554.7,399.1L555.4,399.3L556.1,399.5L556.7,399.7L557.4,399.9L558.1,400.0L558.7,400.2L559.4,400.3L560.1,400.5L560.7,400.6L561.4,400.7L562.1,400.9L562.7,401.0L563.4,401.1L564.1,401.2L564.8,401.3L565.5,401.4L566.1,401.5L566.8,401.6L567.5,401.6L568.2,401.7L568.9,401.8L569.6,401.8L570.3,401.9L570.9,401.9L571.6,401.9L572.3,402.0L573.0,402.0L573.7,402.0L574.4,402.0L575.1,402.0L575.8,402.0L576.4,402.0L577.1,402.0L577.8,401.9L578.5,401.9L579.2,401.9L579.9,401.8L580.6,401.7L581.3,401.7L581.9,401.6L582.6,401.5L583.3,401.5L584.0,401.4L584.7,401.3L585.4,401.2L586.1,401.1L586.7,401.0L587.4,400.8L588.1,400.7L588.8,400.6L589.5,400.4L590.1,400.3L590.8,400.1L591.5,400.0L592.2,399.8L592.8,399.6L593.5,399.4L594.2,399.3L594.8,399.1L595.5,398.9L596.1,398.7L596.8,398.4L597.5,398.2L598.1,398.0L598.8,397.8L599.4,397.5L600.1,397.3L600.7,397.0L601.4,396.8L602.0,396.5L602.6,396.2L603.3,395.9L603.9,395.7L604.6,395.4L605.2,395.1L605.8,394.8L606.4,394.5L607.1,394.2L607.7,393.8L608.3,393.5L608.9,393.2L609.5,392.8L610.1,392.5L610.7,392.1L611.3,391.8L611.9,391.4L612.5,391.1L613.1,390.7L613.7,390.3L614.3,389.9L614.8,389.5L615.4,389.1L616.0,388.7L616.5,388.3L617.1,387.9L617.7,387.5L618.2,387.1L618.8,386.6L619.3,386.2L619.9,385.8L620.4,385.3L620.9,384.9L621.5,384.4L622.0,383.9L622.5,383.5L623.0,383.0L623.5,382.5L624.0,382.0L624.5,381.5L625.0,381.0L625.5,380.5L626.0,380.0L626.5,379.5L627.0,379.0L627.4,378.5L627.9,378.0L628.4,377.5L628.8,376.9L629.3,376.4L629.7,375.8L630.2,375.3L630.6,374.7L631.0,374.2L631.4,373.6L631.9,373.1L632.3,372.5L632.7,371.9L633.1,371.3L633.5,370.8L633.8,370.2L634.2,369.6L634.4,369.3ZM507.3,297.6L507.5,297.3L507.8,296.6L508.1,296.0L508.5,295.4L508.8,294.8L509.2,294.1L509.5,293.5L509.9,292.9L510.3,292.3L510.6,291.7L511.0,291.1L511.4,290.5L511.8,289.9L512.2,289.3L512.6,288.7L513.0,288.1L513.4,287.6L513.9,287.0L514.3,286.4L514.7,285.8L515.2,285.3L515.6,284.7L516.1,284.2L516.5,283.6L517.0,283.1L517.4,282.5L517.9,282.0L518.4,281.4L518.9,280.9L519.3,280.4L519.8,279.9L520.3,279.3L520.8,278.8L521.3,278.3L521.8,277.8L522.4,277.3L522.9,276.8L523.4,276.3L523.9,275.9L524.5,275.4L525.0,274.9L525.6,274.5L526.1,274.0L526.7,273.5L527.2,273.1L527.8,272.6L528.3,272.2L528.9,271.8L529.5,271.3L530.1,270.9L530.6,270.5L531.2,270.1L531.8,269.7L532.4,269.3L533.0,268.9L533.6,268.5L534.2,268.1L534.8,267.7L535.4,267.4L536.0,267.0L536.7,266.6L537.3,266.3L537.9,265.9L538.5,265.6L539.2,265.3L539.8,264.9L540.5,264.6L541.1,264.3L541.7,264.0L542.4,263.7L543.1,263.4L543.7,263.1L544.4,262.8L545.0,262.5L545.7,262.3L546.4,262.0L547.0,261.7L547.7,261.5L548.4,261.2L549.0,261.0L549.7,260.8L550.4,260.5L551.1,260.3L551.8,260.1L552.5,259.9L553.1,259.7L553.8,259.5L554.5,259.3L555.2,259.1L555.9,258.9L556.6,258.8L557.3,258.6L558.0,258.5L558.7,258.3L559.4,258.2L560.1,258.0L560.8,257.9L561.6,257.8L562.3,257.7L563.0,257.6L563.7,257.5L564.4,257.4L565.1,257.3L565.8,257.2L566.5,257.2L567.3,257.1L568.0,257.0L568.7,257.0L569.4,256.9L570.1,256.9L570.8,256.9L571.6,256.9L572.3,256.8L573.0,256.8L573.7,256.8L574.4,256.8L575.2,256.8L575.9,256.9L576.6,256.9L577.3,256.9L578.0,257.0L578.8,257.0L579.5,257.1L580.2,257.1L580.9,257.2L581.6,257.3L582.3,257.3L583.0,257.4L583.8,257.5L584.5,257.6L585.2,257.7L585.9,257.9L586.6,258.0L587.3,258.1L588.0,258.2L588.7,258.4L589.4,258.5L590.1,258.7L590.8,258.9L591.5,259.0L592.2,259.2L592.9,259.4L593.6,259.6L594.3,259.8L595.0,260.0L595.7,260.2L596.4,260.4L597.1,260.6L597.8,260.9L598.4,261.1L599.1,261.4L599.8,261.6L600.5,261.9L601.1,262.1L601.8,262.4L602.5,262.7L603.1,263.0L603.8,263.3L604.4,263.6L605.1,263.9L605.8,264.2L606.4,264.5L607.0,264.8L607.7,265.1L608.3,265.5L609.0,265.8L609.6,266.2L610.2,266.5L610.9,266.9L611.5,267.3L612.1,267.6L612.7,268.0L613.3,268.4L613.9,268.8L614.5,269.2L615.1,269.6L615.7,270.0L616.3,270.4L616.9,270.8L617.5,271.2L618.1,271.7L618.6,272.1L619.2,272.6L619.8,273.0L620.3,273.5L620.9,273.9L621.4,274.4L622.0,274.9L622.5,275.3L623.1,275.8L623.6,276.3L624.1,276.8L624.6,277.3L625.2,277.8L625.7,278.3L626.2,278.8L626.7,279.4L627.2,279.9L627.7,280.4L628.2,280.9L628.7,281.5L629.1,282.0L629.6,282.6L630.1,283.1L630.5,283.7L631.0,284.2L631.4,284.8L631.9,285.4L632.3,285.9L632.8,286.5L633.2,287.1L633.6,287.7L634.0,288.3L634.4,288.9L634.8,289.5L635.2,290.1L635.6,290.7L636.0,291.3L636.4,291.9L636.8,292.5L637.2,293.1L637.5,293.7L637.9,294.4L638.2,295.0L638.6,295.6L638.9,296.3L639.2,296.9L639.6,297.6L639.9,298.2L640.2,298.9L640.5,299.5L640.8,300.2L641.1,300.8L641.4,301.5L641.7,302.2L642.0,302.8L642.2,303.5L642.5,304.2L642.8,304.8L642.9,305.2L638.7,306.7L638.5,306.4L638.3,305.8L638.1,305.2L637.8,304.5L637.5,303.9L637.3,303.3L637.0,302.7L636.7,302.0L636.4,301.4L636.2,300.8L635.9,300.2L635.6,299.6L635.2,299.0L634.9,298.4L634.6,297.8L634.3,297.2L634.0,296.6L633.6,296.0L633.3,295.4L632.9,294.8L632.6,294.3L632.2,293.7L631.9,293.1L631.5,292.5L631.1,292.0L630.7,291.4L630.3,290.8L629.9,290.3L629.6,289.7L629.1,289.2L628.7,288.7L628.3,288.1L627.9,287.6L627.5,287.1L627.1,286.5L626.6,286.0L626.2,285.5L625.7,285.0L625.3,284.5L624.8,284.0L624.4,283.5L623.9,283.0L623.4,282.5L623.0,282.0L622.5,281.5L622.0,281.0L621.5,280.6L621.0,280.1L620.5,279.6L620.0,279.2L619.5,278.7L619.0,278.3L618.5,277.8L618.0,277.4L617.5,276.9L616.9,276.5L616.4,276.1L615.9,275.7L615.3,275.3L614.8,274.9L614.3,274.4L613.7,274.1L613.2,273.7L612.6,273.3L612.1,272.8L611.5,272.4L610.9,272.1L610.4,271.7L609.8,271.3L609.2,271.0L608.7,270.6L608.1,270.3L607.5,269.9L606.9,269.6L606.3,269.2L605.7,268.9L605.1,268.6L604.5,268.3L603.9,267.9L603.3,267.6L602.7,267.3L602.1,267.0L601.5,266.7L600.8,266.5L600.2,266.2L599.6,265.9L599.0,265.6L598.3,265.4L597.7,265.1L597.1,264.9L596.4,264.6L595.8,264.4L595.2,264.1L594.5,263.9L593.9,263.7L593.2,263.5L592.6,263.3L591.9,263.1L591.3,262.9L590.6,262.7L589.9,262.5L589.3,262.3L588.6,262.1L587.9,262.0L587.3,261.8L586.6,261.7L585.9,261.5L585.3,261.4L584.6,261.3L583.9,261.1L583.3,261.0L582.6,260.9L581.9,260.8L581.2,260.7L580.5,260.6L579.9,260.5L579.2,260.4L578.5,260.4L577.8,260.3L577.1,260.2L576.4,260.2L575.7,260.1L575.1,260.1L574.4,260.1L573.7,260.0L573.0,260.0L572.3,260.0L571.6,260.0L570.9,260.0L570.2,260.0L569.6,260.0L568.9,260.0L568.2,260.1L567.5,260.1L566.8,260.1L566.1,260.2L565.4,260.3L564.7,260.3L564.1,260.4L563.4,260.5L562.7,260.5L562.0,260.6L561.3,260.7L560.6,260.8L559.9,260.9L559.3,261.0L558.6,261.2L557.9,261.3L557.2,261.4L556.5,261.6L555.9,261.7L555.2,261.9L554.5,262.0L553.8,262.2L553.2,262.4L552.5,262.6L551.8,262.7L551.2,262.9L550.5,263.1L549.9,263.3L549.2,263.6L548.5,263.8L547.9,264.0L547.2,264.2L546.6,264.5L545.9,264.7L545.3,265.0L544.6,265.2L544.0,265.5L543.4,265.8L542.7,266.1L542.1,266.3L541.4,266.6L540.8,266.9L540.2,267.2L539.6,267.5L538.9,267.8L538.3,268.2L537.7,268.5L537.1,268.8L536.5,269.2L535.9,269.5L535.3,269.9L534.7,270.2L534.1,270.6L533.5,270.9L532.9,271.3L532.3,271.7L531.7,272.1L531.2,272.5L530.6,272.9L530.0,273.3L529.5,273.7L528.9,274.1L528.3,274.5L527.8,274.9L527.2,275.4L526.7,275.8L526.1,276.2L525.6,276.7L525.1,277.1L524.5,277.6L524.0,278.1L523.5,278.5L523.0,279.0L522.5,279.5L522.0,280.0L521.5,280.5L521.0,281.0L520.5,281.5L520.0,282.0L519.5,282.5L519.0,283.0L518.6,283.5L518.1,284.0L517.6,284.5L517.2,285.1L516.7,285.6L516.3,286.2L515.8,286.7L515.4,287.3L515.0,287.8L514.6,288.4L514.1,288.9L513.7,289.5L513.3,290.1L512.9,290.7L512.5,291.2L512.2,291.8L511.8,292.4L511.4,293.0L511.0,293.6L510.7,294.2L510.3,294.8L510.0,295.4L509.6,296.0L509.3,296.7L509.0,297.3L508.7,297.9L508.5,298.2ZM634.0,363.6L633.9,363.9L633.5,364.6L633.2,365.2L632.8,365.8L632.5,366.4L632.1,367.0L631.7,367.7L631.3,368.3L630.9,368.9L630.6,369.5L630.2,370.1L629.8,370.6L629.3,371.2L628.9,371.8L628.5,372.4L628.1,373.0L627.6,373.5L627.2,374.1L626.8,374.7L626.3,375.2L625.9,375.8L625.4,376.3L624.9,376.9L624.4,377.4L624.0,377.9L623.5,378.4L623.0,379.0L622.5,379.5L622.0,380.0L621.5,380.5L621.0,381.0L620.5,381.5L619.9,382.0L619.4,382.5L618.9,383.0L618.3,383.4L617.8,383.9L617.3,384.4L616.7,384.8L616.2,385.3L615.6,385.7L615.0,386.2L614.5,386.6L613.9,387.0L613.3,387.5L612.7,387.9L612.1,388.3L611.5,388.7L610.9,389.1L610.3,389.5L609.7,389.9L609.1,390.2L608.5,390.6L607.9,391.0L607.3,391.3L606.7,391.7L606.0,392.1L605.4,392.4L604.8,392.7L604.1,393.1L603.5,393.4L602.9,393.7L602.2,394.0L601.6,394.3L600.9,394.6L600.2,394.9L599.6,395.2L598.9,395.5L598.3,395.7L597.6,396.0L596.9,396.2L596.2,396.5L595.6,396.7L594.9,397.0L594.2,397.2L593.5,397.4L592.8,397.6L592.2,397.8L591.5,398.0L590.8,398.2L590.1,398.4L589.4,398.6L588.7,398.8L588.0,398.9L587.3,399.1L586.6,399.2L585.9,399.4L585.2,399.5L584.5,399.6L583.7,399.8L583.0,399.9L582.3,400.0L581.6,400.1L580.9,400.2L580.2,400.2L579.5,400.3L578.8,400.4L578.0,400.5L577.3,400.5L576.6,400.6L575.9,400.6L575.2,400.6L574.4,400.6L573.7,400.7L573.0,400.7L572.3,400.7L571.6,400.7L570.8,400.7L570.1,400.6L569.4,400.6L568.7,400.6L568.0,400.5L567.2,400.5L566.5,400.4L565.8,400.4L565.1,400.3L564.4,400.2L563.7,400.1L562.9,400.0L562.2,399.9L561.5,399.8L560.8,399.7L560.1,399.6L559.4,399.4L558.7,399.3L558.0,399.2L557.3,399.0L556.6,398.8L555.9,398.7L555.2,398.5L554.5,398.3L553.8,398.1L553.1,397.9L552.4,397.7L551.7,397.5L551.0,397.3L550.3,397.1L549.6,396.8L549.0,396.6L548.3,396.3L547.6,396.1L546.9,395.8L546.3,395.6L545.6,395.3L544.9,395.0L544.3,394.7L543.6,394.4L543.0,394.1L542.3,393.8L541.7,393.5L541.0,393.2L540.4,392.8L539.7,392.5L539.1,392.1L538.5,391.8L537.8,391.4L537.2,391.1L536.6,390.7L536.0,390.3L535.4,389.9L534.7,389.5L534.1,389.2L533.5,388.7L532.9,388.3L532.4,387.9L531.8,387.5L531.2,387.1L530.6,386.7L530.0,386.2L529.4,385.8L528.9,385.3L528.3,384.9L527.8,384.4L527.2,383.9L526.7,383.5L526.1,383.0L525.6,382.5L525.1,382.0L524.5,381.5L524.0,381.0L523.5,380.5L523.0,380.0L522.5,379.5L522.0,378.9L521.5,378.4L521.0,377.9L520.5,377.3L520.1,376.8L519.6,376.2L519.1,375.7L518.7,375.1L518.2,374.6L517.8,374.0L517.3,373.4L516.9,372.8L516.5,372.3L516.0,371.7L515.6,371.1L515.2,370.5L514.8,369.9L514.4,369.3L514.0,368.7L513.6,368.1L513.2,367.5L512.9,366.8L512.5,366.2L512.1,365.6L511.8,365.0L511.4,364.3L511.1,363.7L510.8,363.0L510.4,362.4L510.1,361.7L509.8,361.1L509.5,360.4L509.2,359.8L508.9,359.1L508.6,358.5L508.3,357.8L508.1,357.1L507.9,356.8L512.1,355.1L512.2,355.4L512.5,356.1L512.7,356.7L513.0,357.3L513.3,357.9L513.6,358.5L513.9,359.2L514.2,359.8L514.5,360.4L514.8,361.0L515.1,361.6L515.4,362.2L515.7,362.8L516.1,363.4L516.4,363.9L516.7,364.5L517.1,365.1L517.4,365.7L517.8,366.3L518.2,366.8L518.5,367.4L518.9,368.0L519.3,368.5L519.7,369.1L520.1,369.6L520.5,370.2L520.9,370.7L521.3,371.2L521.7,371.8L522.2,372.3L522.6,372.8L523.0,373.3L523.5,373.8L523.9,374.4L524.4,374.9L524.8,375.4L525.3,375.9L525.7,376.3L526.2,376.8L526.7,377.3L527.2,377.8L527.7,378.3L528.1,378.7L528.6,379.2L529.1,379.6L529.6,380.1L530.2,380.5L530.7,381.0L531.2,381.4L531.7,381.8L532.2,382.3L532.8,382.7L533.3,383.1L533.8,383.6L534.3,384.0L534.8,384.4L535.4,384.8L536.0,385.2L536.5,385.6L537.1,386.0L537.6,386.4L538.2,386.7L538.8,387.1L539.4,387.5L539.9,387.8L540.5,388.2L541.1,388.5L541.7,388.8L542.3,389.2L542.9,389.5L543.5,389.8L544.1,390.1L544.7,390.4L545.3,390.7L545.9,391.0L546.5,391.3L547.2,391.6L547.8,391.9L548.4,392.1L549.0,392.4L549.7,392.7L550.3,392.9L550.9,393.2L551.6,393.4L552.2,393.6L552.9,393.8L553.5,394.1L554.2,394.3L554.8,394.5L555.5,394.7L556.1,394.9L556.8,395.1L557.4,395.2L558.1,395.4L558.8,395.6L559.4,395.7L560.1,395.9L560.8,396.0L561.4,396.2L562.1,396.3L562.8,396.4L563.4,396.6L564.1,396.7L564.8,396.8L565.5,396.9L566.2,397.0L566.8,397.0L567.5,397.1L568.2,397.2L568.9,397.3L569.6,397.3L570.3,397.4L570.9,397.4L571.6,397.4L572.3,397.5L573.0,397.5L573.7,397.5L574.4,397.5L575.1,397.5L575.7,397.5L576.4,397.5L577.1,397.4L577.8,397.4L578.5,397.4L579.2,397.3L579.9,397.3L580.6,397.2L581.2,397.2L581.9,397.1L582.6,397.0L583.3,396.9L584.0,396.8L584.7,396.7L585.3,396.6L586.0,396.5L586.7,396.4L587.4,396.2L588.1,396.1L588.7,396.0L589.4,395.8L590.1,395.7L590.8,395.5L591.4,395.3L592.1,395.1L592.8,395.0L593.4,394.8L594.1,394.6L594.7,394.4L595.4,394.1L596.1,393.9L596.7,393.7L597.4,393.5L598.0,393.2L598.7,393.0L599.3,392.7L600.0,392.5L600.6,392.2L601.2,391.9L601.9,391.6L602.5,391.3L603.1,391.1L603.8,390.8L604.4,390.4L605.0,390.1L605.6,389.8L606.2,389.5L606.8,389.2L607.4,388.8L608.1,388.5L608.7,388.1L609.2,387.8L609.8,387.4L610.4,387.0L611.0,386.6L611.6,386.3L612.2,385.9L612.7,385.5L613.3,385.1L613.9,384.7L614.4,384.2L615.0,383.8L615.5,383.4L616.1,383.0L616.6,382.5L617.2,382.1L617.7,381.6L618.2,381.2L618.8,380.7L619.3,380.2L619.8,379.8L620.3,379.3L620.8,378.8L621.3,378.3L621.8,377.8L622.3,377.3L622.8,376.8L623.3,376.3L623.7,375.8L624.2,375.3L624.7,374.8L625.1,374.2L625.6,373.7L626.0,373.2L626.5,372.6L626.9,372.1L627.3,371.5L627.8,371.0L628.2,370.4L628.6,369.8L629.0,369.3L629.4,368.7L629.8,368.1L630.2,367.5L630.6,366.9L630.9,366.3L631.3,365.7L631.7,365.1L632.0,364.5L632.3,363.9L632.7,363.3L632.8,363.0ZM513.0,296.5L513.2,296.2L513.5,295.6L513.9,295.0L514.3,294.3L514.7,293.7L515.1,293.1L515.4,292.5L515.8,291.9L516.2,291.4L516.7,290.8L517.1,290.2L517.5,289.6L517.9,289.0L518.4,288.5L518.8,287.9L519.2,287.3L519.7,286.8L520.1,286.2L520.6,285.7L521.1,285.1L521.6,284.6L522.0,284.1L522.5,283.6L523.0,283.0L523.5,282.5L524.0,282.0L524.5,281.5L525.0,281.0L525.5,280.5L526.1,280.0L526.6,279.5L527.1,279.0L527.7,278.6L528.2,278.1L528.7,277.6L529.3,277.2L529.8,276.7L530.4,276.3L531.0,275.8L531.5,275.4L532.1,275.0L532.7,274.5L533.3,274.1L533.9,273.7L534.5,273.3L535.1,272.9L535.7,272.5L536.3,272.1L536.9,271.8L537.5,271.4L538.1,271.0L538.7,270.7L539.3,270.3L540.0,269.9L540.6,269.6L541.2,269.3L541.9,268.9L542.5,268.6L543.1,268.3L543.8,268.0L544.4,267.7L545.1,267.4L545.8,267.1L546.4,266.8L547.1,266.5L547.7,266.3L548.4,266.0L549.1,265.8L549.8,265.5L550.4,265.3L551.1,265.0L551.8,264.8L552.5,264.6L553.2,264.4L553.8,264.2L554.5,264.0L555.2,263.8L555.9,263.6L556.6,263.4L557.3,263.2L558.0,263.1L558.7,262.9L559.4,262.8L560.1,262.6L560.8,262.5L561.5,262.4L562.3,262.2L563.0,262.1L563.7,262.0L564.4,261.9L565.1,261.8L565.8,261.8L566.5,261.7L567.2,261.6L568.0,261.5L568.7,261.5L569.4,261.4L570.1,261.4L570.8,261.4L571.6,261.4L572.3,261.3L573.0,261.3L573.7,261.3L574.4,261.3L575.2,261.3L575.9,261.4L576.6,261.4L577.3,261.4L578.0,261.5L578.8,261.5L579.5,261.6L580.2,261.6L580.9,261.7L581.6,261.8L582.3,261.9L583.1,262.0L583.8,262.1L584.5,262.2L585.2,262.3L585.9,262.4L586.6,262.6L587.3,262.7L588.0,262.8L588.7,263.0L589.4,263.2L590.1,263.3L590.8,263.5L591.5,263.7L592.2,263.9L592.9,264.1L593.6,264.3L594.3,264.5L595.0,264.7L595.7,264.9L596.4,265.2L597.0,265.4L597.7,265.7L598.4,265.9L599.1,266.2L599.7,266.4L600.4,266.7L601.1,267.0L601.7,267.3L602.4,267.6L603.0,267.9L603.7,268.2L604.3,268.5L605.0,268.8L605.6,269.2L606.3,269.5L606.9,269.9L607.5,270.2L608.2,270.6L608.8,270.9L609.4,271.3L610.0,271.7L610.6,272.1L611.3,272.5L611.9,272.8L612.5,273.3L613.1,273.7L613.6,274.1L614.2,274.5L614.8,274.9L615.4,275.3L616.0,275.8L616.6,276.2L617.1,276.7L617.7,277.1L618.2,277.6L618.8,278.1L619.3,278.5L619.9,279.0L620.4,279.5L620.9,280.0L621.5,280.5L622.0,281.0L622.5,281.5L623.0,282.0L623.5,282.5L624.0,283.1L624.5,283.6L625.0,284.1L625.5,284.7L625.9,285.2L626.4,285.8L626.9,286.3L627.3,286.9L627.8,287.4L628.2,288.0L628.7,288.6L629.1,289.2L629.5,289.7L630.0,290.3L630.4,290.9L630.8,291.5L631.2,292.1L631.6,292.7L632.0,293.3L632.4,293.9L632.8,294.5L633.1,295.2L633.5,295.8L633.9,296.4L634.2,297.0L634.6,297.7L634.9,298.3L635.2,299.0L635.6,299.6L635.9,300.3L636.2,300.9L636.5,301.6L636.8,302.2L637.1,302.9L637.4,303.5L637.7,304.2L637.9,304.9L638.1,305.2L633.9,306.9L633.8,306.6L633.5,305.9L633.3,305.3L633.0,304.7L632.7,304.1L632.4,303.5L632.1,302.8L631.8,302.2L631.5,301.6L631.2,301.0L630.9,300.4L630.6,299.8L630.3,299.2L629.9,298.6L629.6,298.1L629.3,297.5L628.9,296.9L628.6,296.3L628.2,295.7L627.8,295.2L627.5,294.6L627.1,294.0L626.7,293.5L626.3,292.9L625.9,292.4L625.5,291.8L625.1,291.3L624.7,290.8L624.3,290.2L623.8,289.7L623.4,289.2L623.0,288.7L622.5,288.2L622.1,287.6L621.6,287.1L621.2,286.6L620.7,286.1L620.3,285.7L619.8,285.2L619.3,284.7L618.8,284.2L618.3,283.7L617.9,283.3L617.4,282.8L616.9,282.4L616.4,281.9L615.8,281.5L615.3,281.0L614.8,280.6L614.3,280.2L613.8,279.7L613.2,279.3L612.7,278.9L612.2,278.4L611.7,278.0L611.2,277.6L610.6,277.2L610.0,276.8L609.5,276.4L608.9,276.0L608.4,275.6L607.8,275.3L607.2,274.9L606.6,274.5L606.1,274.2L605.5,273.8L604.9,273.5L604.3,273.2L603.7,272.8L603.1,272.5L602.5,272.2L601.9,271.9L601.3,271.6L600.7,271.3L600.1,271.0L599.5,270.7L598.8,270.4L598.2,270.1L597.6,269.9L597.0,269.6L596.3,269.3L595.7,269.1L595.1,268.8L594.4,268.6L593.8,268.4L593.1,268.2L592.5,267.9L591.8,267.7L591.2,267.5L590.5,267.3L589.9,267.1L589.2,266.9L588.6,266.8L587.9,266.6L587.2,266.4L586.6,266.3L585.9,266.1L585.2,266.0L584.6,265.8L583.9,265.7L583.2,265.6L582.6,265.4L581.9,265.3L581.2,265.2L580.5,265.1L579.8,265.0L579.2,265.0L578.5,264.9L577.8,264.8L577.1,264.7L576.4,264.7L575.7,264.6L575.1,264.6L574.4,264.6L573.7,264.5L573.0,264.5L572.3,264.5L571.6,264.5L570.9,264.5L570.3,264.5L569.6,264.5L568.9,264.6L568.2,264.6L567.5,264.6L566.8,264.7L566.1,264.7L565.4,264.8L564.8,264.8L564.1,264.9L563.4,265.0L562.7,265.1L562.0,265.2L561.3,265.3L560.7,265.4L560.0,265.5L559.3,265.6L558.6,265.8L557.9,265.9L557.3,266.0L556.6,266.2L555.9,266.3L555.2,266.5L554.6,266.7L553.9,266.9L553.2,267.0L552.6,267.2L551.9,267.4L551.3,267.6L550.6,267.9L549.9,268.1L549.3,268.3L548.6,268.5L548.0,268.8L547.3,269.0L546.7,269.3L546.0,269.5L545.4,269.8L544.8,270.1L544.1,270.4L543.5,270.7L542.9,270.9L542.2,271.2L541.6,271.6L541.0,271.9L540.4,272.2L539.8,272.5L539.2,272.8L538.6,273.2L537.9,273.5L537.3,273.9L536.8,274.2L536.2,274.6L535.6,275.0L535.0,275.4L534.4,275.7L533.8,276.1L533.3,276.5L532.7,276.9L532.1,277.3L531.6,277.8L531.0,278.2L530.5,278.6L529.9,279.0L529.4,279.5L528.8,279.9L528.3,280.4L527.8,280.8L527.2,281.3L526.7,281.8L526.2,282.2L525.7,282.7L525.2,283.2L524.7,283.7L524.2,284.2L523.7,284.7L523.2,285.2L522.7,285.7L522.3,286.2L521.8,286.7L521.3,287.2L520.9,287.8L520.4,288.3L520.0,288.8L519.5,289.4L519.1,289.9L518.7,290.5L518.2,291.0L517.8,291.6L517.4,292.2L517.0,292.7L516.6,293.3L516.2,293.9L515.8,294.5L515.4,295.1L515.1,295.7L514.7,296.3L514.3,296.9L514.2,297.2ZM629.7,362.3L629.5,362.6L629.1,363.2L628.8,363.8L628.4,364.4L628.0,365.1L627.7,365.7L627.3,366.3L626.9,366.9L626.5,367.5L626.1,368.1L625.7,368.7L625.3,369.2L624.8,369.8L624.4,370.4L624.0,371.0L623.5,371.5L623.1,372.1L622.6,372.6L622.2,373.2L621.7,373.7L621.2,374.3L620.7,374.8L620.3,375.3L619.8,375.9L619.3,376.4L618.8,376.9L618.3,377.4L617.7,377.9L617.2,378.4L616.7,378.9L616.2,379.4L615.6,379.8L615.1,380.3L614.5,380.8L614.0,381.2L613.4,381.7L612.9,382.2L612.3,382.6L611.7,383.0L611.2,383.5L610.6,383.9L610.0,384.3L609.4,384.7L608.8,385.1L608.2,385.5L607.6,385.9L607.0,386.3L606.4,386.7L605.8,387.0L605.1,387.4L604.5,387.8L603.9,388.1L603.3,388.4L602.6,388.8L602.0,389.1L601.3,389.4L600.7,389.8L600.0,390.1L599.4,390.4L598.7,390.7L598.1,390.9L597.4,391.2L596.7,391.5L596.1,391.8L595.4,392.0L594.7,392.3L594.0,392.5L593.4,392.7L592.7,393.0L592.0,393.2L591.3,393.4L590.6,393.6L589.9,393.8L589.2,394.0L588.5,394.2L587.8,394.3L587.1,394.5L586.4,394.7L585.7,394.8L585.0,395.0L584.3,395.1L583.6,395.2L582.9,395.3L582.2,395.5L581.5,395.6L580.7,395.6L580.0,395.7L579.3,395.8L578.6,395.9L577.9,396.0L577.1,396.0L576.4,396.1L575.7,396.1L575.0,396.1L574.3,396.1L573.5,396.2L572.8,396.2L572.1,396.2L571.4,396.2L570.7,396.1L569.9,396.1L569.2,396.1L568.5,396.0L567.8,396.0L567.0,395.9L566.3,395.9L565.6,395.8L564.9,395.7L564.2,395.6L563.5,395.5L562.7,395.4L562.0,395.3L561.3,395.2L560.6,395.1L559.9,394.9L559.2,394.8L558.5,394.6L557.8,394.5L557.1,394.3L556.4,394.1L555.7,394.0L555.0,393.8L554.3,393.6L553.6,393.4L552.9,393.1L552.2,392.9L551.5,392.7L550.8,392.4L550.1,392.2L549.5,391.9L548.8,391.7L548.1,391.4L547.5,391.1L546.8,390.9L546.1,390.6L545.5,390.3L544.8,390.0L544.2,389.7L543.5,389.3L542.9,389.0L542.2,388.7L541.6,388.3L540.9,388.0L540.3,387.6L539.7,387.3L539.1,386.9L538.4,386.5L537.8,386.1L537.2,385.7L536.6,385.3L536.0,384.9L535.4,384.5L534.8,384.1L534.2,383.7L533.6,383.3L533.1,382.8L532.5,382.4L531.9,381.9L531.4,381.5L530.8,381.1L530.2,380.6L529.7,380.1L529.1,379.6L528.6,379.1L528.1,378.6L527.5,378.1L527.0,377.6L526.5,377.1L526.0,376.6L525.5,376.1L525.0,375.6L524.5,375.0L524.0,374.5L523.5,373.9L523.1,373.4L522.6,372.8L522.1,372.3L521.7,371.7L521.2,371.1L520.8,370.5L520.4,370.0L519.9,369.4L519.5,368.8L519.1,368.2L518.7,367.6L518.3,367.0L517.9,366.4L517.5,365.8L517.1,365.2L516.7,364.5L516.4,363.9L516.0,363.3L515.7,362.6L515.3,362.0L515.0,361.4L514.6,360.7L514.3,360.1L514.0,359.4L513.7,358.8L513.4,358.1L513.1,357.4L512.8,356.8L512.6,356.4L516.8,354.7L516.9,355.0L517.2,355.6L517.5,356.2L517.8,356.9L518.0,357.5L518.3,358.1L518.6,358.7L519.0,359.3L519.3,359.9L519.6,360.5L519.9,361.1L520.3,361.6L520.6,362.2L520.9,362.8L521.3,363.4L521.7,364.0L522.0,364.5L522.4,365.1L522.8,365.6L523.2,366.2L523.6,366.7L524.0,367.3L524.4,367.8L524.8,368.4L525.2,368.9L525.6,369.4L526.1,370.0L526.5,370.5L526.9,371.0L527.4,371.5L527.8,372.0L528.3,372.5L528.7,373.0L529.2,373.5L529.7,374.0L530.2,374.4L530.7,374.9L531.1,375.4L531.6,375.8L532.1,376.3L532.6,376.7L533.1,377.2L533.7,377.6L534.0,378.2L534.6,378.7L535.1,379.1L535.6,379.5L536.2,379.9L536.7,380.3L537.2,380.7L537.8,381.1L538.3,381.5L538.9,381.9L539.5,382.3L540.0,382.7L540.6,383.0L541.2,383.4L541.7,383.8L542.3,384.1L542.9,384.5L543.5,384.8L544.1,385.1L544.7,385.5L545.3,385.8L545.9,386.1L546.5,386.4L547.1,386.7L547.7,387.0L548.3,387.3L549.0,387.6L549.6,387.8L550.2,388.1L550.8,388.4L551.5,388.6L552.1,388.9L552.8,389.1L553.4,389.3L554.0,389.6L554.7,389.8L555.3,390.0L556.0,390.2L556.6,390.4L557.3,390.6L558.0,390.8L558.6,391.0L559.3,391.1L559.9,391.3L560.6,391.4L561.3,391.6L561.9,391.7L562.6,391.9L563.3,392.0L564.0,392.1L564.6,392.2L565.3,392.3L566.0,392.4L566.7,392.5L567.4,392.6L568.0,392.7L568.7,392.7L569.4,392.8L570.1,392.9L570.8,392.9L571.5,392.9L572.1,393.0L572.8,393.0L573.5,393.0L574.2,393.0L574.9,393.0L575.6,393.0L576.3,393.0L577.0,393.0L577.6,392.9L578.3,392.9L579.0,392.8L579.7,392.8L580.4,392.7L581.1,392.7L581.8,392.6L582.4,392.5L583.1,392.4L583.8,392.3L584.5,392.2L585.2,392.1L585.9,392.0L586.5,391.8L587.2,391.7L587.9,391.5L588.6,391.4L589.2,391.2L589.9,391.1L590.6,390.9L591.2,390.7L591.9,390.5L592.6,390.3L593.2,390.1L593.9,389.9L594.5,389.7L595.2,389.5L595.9,389.2L596.5,389.0L597.1,388.7L597.8,388.5L598.4,388.2L599.1,387.9L599.7,387.7L600.3,387.4L601.0,387.1L601.6,386.8L602.2,386.5L602.8,386.2L603.5,385.8L604.1,385.5L604.7,385.2L605.3,384.8L605.9,384.5L606.5,384.1L607.1,383.8L607.7,383.4L608.3,383.0L608.8,382.6L609.4,382.3L610.0,381.9L610.6,381.5L611.1,381.1L611.7,380.6L612.2,380.2L612.8,379.8L613.3,379.4L613.9,378.9L614.4,378.5L615.0,378.0L615.5,377.6L616.0,377.1L616.5,376.6L617.0,376.1L617.5,375.7L618.0,375.2L618.5,374.7L619.0,374.2L619.5,373.7L620.0,373.2L620.5,372.7L620.9,372.1L621.4,371.6L621.8,371.1L622.3,370.5L622.7,370.0L623.2,369.4L623.6,368.9L624.0,368.3L624.5,367.8L624.9,367.2L625.3,366.6L625.7,366.1L626.1,365.5L626.5,364.9L626.8,364.3L627.2,363.7L627.6,363.1L628.0,362.5L628.3,361.9L628.5,361.6ZM516.9,298.8L517.0,298.5L517.4,297.9L517.8,297.2L518.1,296.6L518.5,296.0L518.9,295.4L519.3,294.8L519.7,294.2L520.1,293.6L520.5,293.1L521.0,292.5L521.4,291.9L521.8,291.3L522.3,290.8L522.7,290.2L523.1,289.6L523.6,289.1L524.1,288.5L524.5,288.0L525.0,287.5L525.5,286.9L526.0,286.4L526.5,285.9L527.0,285.4L527.5,284.9L528.0,284.4L528.5,283.9L529.0,283.4L529.6,282.9L530.1,282.4L530.6,281.9L531.2,281.4L531.7,281.0L532.3,280.5L532.8,280.1L533.4,279.6L534.0,279.2L534.6,278.8L535.1,278.3L535.7,277.9L536.3,277.5L536.9,277.1L537.5,276.7L538.1,276.3L538.7,275.9L539.3,275.5L539.9,275.1L540.5,274.8L541.2,274.4L541.8,274.1L542.4,273.7L543.1,273.4L543.7,273.0L544.3,272.7L545.0,272.4L545.6,272.1L546.3,271.8L546.9,271.5L547.6,271.2L548.3,270.9L548.9,270.6L549.6,270.4L550.3,270.1L550.9,269.9L551.6,269.6L552.3,269.4L553.0,269.1L553.7,268.9L554.4,268.7L555.0,268.5L555.7,268.3L556.4,268.1L557.1,267.9L557.8,267.7L558.5,267.6L559.2,267.4L559.9,267.3L560.6,267.1L561.3,267.0L562.1,266.8L562.8,266.7L563.5,266.6L564.2,266.5L564.9,266.4L565.6,266.3L566.3,266.2L567.1,266.1L567.8,266.1L568.5,266.0L569.2,266.0L569.9,265.9L570.7,265.9L571.4,265.9L572.1,265.8L572.8,265.8L573.5,265.8L574.3,265.8L575.0,265.8L575.7,265.9L576.4,265.9L577.2,265.9L577.9,266.0L578.6,266.0L579.3,266.1L580.0,266.2L580.8,266.2L581.5,266.3L582.2,266.4L582.9,266.5L583.6,266.6L584.3,266.7L585.0,266.9L585.8,267.0L586.5,267.1L587.2,267.3L587.9,267.4L588.6,267.6L589.3,267.8L590.0,268.0L590.7,268.1L591.4,268.3L592.1,268.5L592.8,268.8L593.5,269.0L594.1,269.2L594.8,269.4L595.5,269.7L596.2,269.9L596.9,270.2L597.5,270.4L598.2,270.7L598.9,271.0L599.5,271.3L600.2,271.6L600.9,271.9L601.5,272.2L602.2,272.5L602.8,272.8L603.5,273.2L604.1,273.5L604.7,273.8L605.4,274.2L606.0,274.6L606.6,274.9L607.3,275.3L607.9,275.7L608.5,276.1L609.1,276.5L609.7,276.9L610.3,277.3L610.9,277.7L611.5,278.1L612.1,278.5L612.6,279.0L613.2,279.4L613.8,279.8L614.4,280.3L614.9,280.8L615.5,281.2L616.1,281.6L616.6,282.1L617.2,282.6L617.7,283.1L618.2,283.6L618.7,284.1L619.3,284.6L619.8,285.1L620.3,285.7L620.8,286.2L621.3,286.7L621.7,287.3L622.2,287.8L622.7,288.3L623.2,288.9L623.6,289.5L624.1,290.0L624.5,290.6L625.0,291.2L625.4,291.7L625.9,292.3L626.3,292.9L626.7,293.5L627.1,294.1L627.5,294.7L627.9,295.3L628.3,295.9L628.7,296.5L629.1,297.2L629.5,297.8L629.8,298.4L630.2,299.0L630.5,299.7L630.9,300.3L631.2,301.0L631.5,301.6L631.9,302.3L632.2,302.9L632.5,303.6L632.8,304.2L633.1,304.9L633.2,305.2L629.1,307.0L628.9,306.7L628.7,306.1L628.4,305.5L628.1,304.8L627.8,304.2L627.5,303.6L627.2,303.0L626.9,302.4L626.6,301.8L626.2,301.2L625.9,300.6L625.6,300.1L625.2,299.5L624.9,298.9L624.5,298.3L624.1,297.8L623.8,297.2L623.4,296.6L623.0,296.1L622.6,295.5L622.2,295.0L621.8,294.4L621.4,293.9L621.0,293.4L620.6,292.8L620.2,292.3L619.7,291.8L619.3,291.3L618.8,290.8L618.4,290.3L617.9,289.8L617.5,289.3L617.0,288.8L616.5,288.3L616.1,287.8L615.6,287.3L615.1,286.9L614.6,286.4L614.1,285.9L613.6,285.5L613.1,285.0L612.6,284.6L612.2,284.0L611.7,283.6L611.2,283.1L610.6,282.7L610.1,282.3L609.6,281.9L609.0,281.5L608.5,281.1L607.9,280.7L607.4,280.3L606.8,279.9L606.3,279.5L605.7,279.1L605.1,278.8L604.5,278.4L604.0,278.1L603.4,277.7L602.8,277.4L602.2,277.0L601.6,276.7L601.0,276.4L600.4,276.1L599.8,275.7L599.2,275.4L598.6,275.1L598.0,274.9L597.3,274.6L596.7,274.3L596.1,274.0L595.5,273.8L594.8,273.5L594.2,273.2L593.6,273.0L592.9,272.8L592.3,272.5L591.6,272.3L591.0,272.1L590.3,271.9L589.7,271.7L589.0,271.5L588.4,271.3L587.7,271.1L587.1,271.0L586.4,270.8L585.7,270.6L585.1,270.5L584.4,270.3L583.7,270.2L583.0,270.1L582.4,269.9L581.7,269.8L581.0,269.7L580.3,269.6L579.7,269.5L579.0,269.4L578.3,269.4L577.6,269.3L576.9,269.2L576.3,269.2L575.6,269.1L574.9,269.1L574.2,269.1L573.5,269.0L572.8,269.0L572.1,269.0L571.5,269.0L570.8,269.0L570.1,269.0L569.4,269.0L568.7,269.1L568.0,269.1L567.3,269.1L566.6,269.2L566.0,269.2L565.3,269.3L564.6,269.4L563.9,269.5L563.2,269.5L562.5,269.6L561.8,269.7L561.2,269.9L560.5,270.0L559.8,270.1L559.1,270.2L558.5,270.4L557.8,270.5L557.1,270.7L556.4,270.8L555.8,271.0L555.1,271.2L554.4,271.4L553.8,271.6L553.1,271.8L552.4,272.0L551.8,272.2L551.1,272.4L550.5,272.7L549.8,272.9L549.2,273.1L548.5,273.4L547.9,273.7L547.2,273.9L546.6,274.2L546.0,274.5L545.3,274.8L544.7,275.1L544.1,275.4L543.5,275.7L542.8,276.0L542.2,276.3L541.6,276.7L541.0,277.0L540.4,277.3L539.8,277.7L539.2,278.0L538.6,278.4L538.0,278.8L537.4,279.2L536.9,279.5L536.3,279.9L535.7,280.3L535.2,280.7L534.6,281.2L534.0,281.6L533.5,282.0L532.9,282.4L532.4,282.9L531.8,283.3L531.3,283.8L530.8,284.2L530.3,284.7L529.7,285.1L529.2,285.6L528.7,286.1L528.2,286.6L527.7,287.1L527.2,287.6L526.7,288.1L526.2,288.6L525.8,289.1L525.3,289.6L524.8,290.1L524.4,290.7L523.9,291.2L523.5,291.7L523.0,292.3L522.6,292.8L522.2,293.4L521.8,293.9L521.3,294.5L520.9,295.1L520.5,295.6L520.1,296.2L519.7,296.8L519.4,297.4L519.0,298.0L518.6,298.6L518.2,299.2L518.1,299.5ZM624.2,362.7L624.0,363.0L623.7,363.6L623.3,364.2L622.9,364.8L622.5,365.4L622.1,366.0L621.6,366.6L621.2,367.2L620.8,367.8L620.3,368.3L619.9,368.9L619.4,369.4L619.0,370.0L618.5,370.5L618.0,371.1L617.6,371.6L617.1,372.2L616.6,372.7L616.1,373.2L615.6,373.7L615.1,374.2L614.6,374.7L614.0,375.2L613.5,375.7L613.0,376.2L612.4,376.7L611.9,377.1L611.4,377.6L610.8,378.1L610.2,378.5L609.7,379.0L609.1,379.4L608.5,379.8L607.9,380.3L607.3,380.7L606.8,381.1L606.2,381.5L605.6,381.9L605.0,382.3L604.3,382.6L603.7,383.0L603.1,383.4L602.5,383.7L601.9,384.1L601.2,384.4L600.6,384.8L599.9,385.1L599.3,385.4L598.7,385.7L598.0,386.1L597.3,386.4L596.7,386.6L596.0,386.9L595.4,387.2L594.7,387.5L594.0,387.7L593.3,388.0L592.7,388.2L592.0,388.5L591.3,388.7L590.6,388.9L589.9,389.1L589.2,389.3L588.5,389.5L587.8,389.7L587.1,389.9L586.4,390.0L585.7,390.2L585.0,390.4L584.3,390.5L583.6,390.6L582.9,390.8L582.2,390.9L581.5,391.0L580.7,391.1L580.0,391.2L579.3,391.3L578.6,391.4L577.9,391.4L577.2,391.5L576.4,391.5L575.7,391.6L575.0,391.6L574.3,391.6L573.5,391.7L572.8,391.7L572.1,391.7L571.4,391.6L570.6,391.6L569.9,391.6L569.2,391.6L568.5,391.5L567.8,391.5L567.0,391.4L566.3,391.3L565.6,391.3L564.9,391.2L564.2,391.1L563.4,391.0L562.7,390.9L562.0,390.7L561.3,390.6L560.6,390.5L559.9,390.3L559.2,390.2L558.5,390.0L557.8,389.8L557.1,389.6L556.4,389.5L555.7,389.3L555.0,389.0L554.3,388.8L553.6,388.6L552.9,388.4L552.2,388.1L551.5,387.9L550.9,387.6L550.2,387.4L549.5,387.1L548.8,386.8L548.2,386.5L547.5,386.2L546.9,385.9L546.2,385.6L545.6,385.3L544.9,385.0L544.3,384.6L543.6,384.3L543.0,383.9L542.4,383.6L541.7,383.2L541.1,382.8L540.5,382.5L539.9,382.1L539.3,381.7L538.7,381.3L538.1,380.9L537.5,380.4L536.9,380.0L536.3,379.6L535.7,379.1L535.2,378.7L534.6,378.2L534.0,377.8L533.5,377.3L532.9,376.8L532.4,376.4L531.8,375.9L531.3,375.4L530.7,375.0L530.2,374.5L529.7,373.9L529.2,373.4L528.7,372.9L528.2,372.4L527.7,371.8L527.2,371.3L526.7,370.7L526.2,370.2L525.8,369.6L525.3,369.1L524.9,368.5L524.4,367.9L524.0,367.3L523.6,366.7L523.1,366.1L522.7,365.5L522.3,364.9L521.9,364.3L521.5,363.7L521.1,363.1L520.8,362.5L520.4,361.9L520.0,361.2L519.7,360.6L519.3,360.0L519.0,359.3L518.6,358.7L518.3,358.0L518.0,357.4L517.7,356.7L517.5,356.4L521.6,354.5L521.8,354.8L522.1,355.4L522.3,356.0L522.7,356.6L523.0,357.2L523.3,357.8L523.6,358.4L523.9,359.0L524.3,359.6L524.6,360.2L525.0,360.7L525.3,361.3L525.7,361.9L526.1,362.4L526.4,363.0L526.8,363.6L527.2,364.1L527.6,364.6L528.0,365.2L528.4,365.7L528.8,366.2L529.3,366.8L529.7,367.3L530.1,367.8L530.6,368.3L531.0,368.8L531.5,369.3L531.9,369.8L532.4,370.3L532.9,370.8L533.3,371.2L533.8,371.7L534.1,372.4L534.6,372.9L535.1,373.3L535.6,373.8L536.1,374.2L536.6,374.7L537.2,375.1L537.7,375.5L538.2,375.9L538.7,376.4L539.3,376.8L539.8,377.2L540.4,377.6L540.9,378.0L541.5,378.4L542.0,378.7L542.6,379.1L543.2,379.5L543.8,379.8L544.3,380.2L544.9,380.5L545.5,380.9L546.1,381.2L546.7,381.5L547.3,381.9L547.9,382.2L548.5,382.5L549.1,382.8L549.7,383.1L550.3,383.4L551.0,383.6L551.6,383.9L552.2,384.2L552.9,384.4L553.5,384.7L554.1,384.9L554.8,385.1L555.4,385.4L556.1,385.6L556.7,385.8L557.4,386.0L558.0,386.2L558.7,386.4L559.3,386.6L560.0,386.7L560.6,386.9L561.3,387.1L562.0,387.2L562.6,387.4L563.3,387.5L564.0,387.6L564.7,387.7L565.3,387.8L566.0,387.9L566.7,388.0L567.4,388.1L568.0,388.2L568.7,388.3L569.4,388.3L570.1,388.4L570.8,388.4L571.5,388.5L572.1,388.5L572.8,388.5L573.5,388.5L574.2,388.5L574.9,388.5L575.6,388.5L576.3,388.5L576.9,388.5L577.6,388.5L578.3,388.4L579.0,388.4L579.7,388.3L580.4,388.2L581.1,388.2L581.7,388.1L582.4,388.0L583.1,387.9L583.8,387.8L584.5,387.7L585.1,387.5L585.8,387.4L586.5,387.3L587.2,387.1L587.8,387.0L588.5,386.8L589.2,386.6L589.8,386.4L590.5,386.2L591.2,386.0L591.8,385.8L592.5,385.6L593.1,385.4L593.8,385.2L594.5,384.9L595.1,384.7L595.7,384.4L596.4,384.2L597.0,383.9L597.7,383.6L598.3,383.4L598.9,383.1L599.5,382.8L600.2,382.5L600.8,382.1L601.4,381.8L602.0,381.5L602.6,381.2L603.2,380.8L603.8,380.5L604.4,380.1L605.0,379.7L605.6,379.4L606.2,379.0L606.8,378.6L607.3,378.2L607.9,377.8L608.5,377.4L609.0,377.0L609.6,376.5L610.1,376.1L610.7,375.7L611.2,375.2L611.7,374.8L612.3,374.3L612.8,373.9L613.3,373.4L613.8,372.9L614.3,372.5L614.8,372.0L615.3,371.5L615.8,371.0L616.3,370.5L616.8,370.0L617.2,369.4L617.7,368.9L618.2,368.4L618.6,367.9L619.1,367.3L619.5,366.8L619.9,366.2L620.4,365.7L620.8,365.1L621.2,364.5L621.6,364.0L622.0,363.4L622.4,362.8L622.8,362.2L622.9,361.9ZM522.0,299.0L522.2,298.7L522.5,298.1L522.9,297.5L523.3,296.9L523.7,296.3L524.2,295.7L524.6,295.1L525.0,294.5L525.4,294.0L525.9,293.4L526.3,292.8L526.8,292.3L527.3,291.7L527.7,291.2L528.2,290.6L528.7,290.1L529.2,289.6L529.7,289.1L530.2,288.5L530.7,288.0L531.2,287.5L531.7,287.0L532.2,286.5L532.7,286.0L533.3,285.6L533.8,285.1L534.4,284.6L534.9,284.2L535.5,283.7L536.0,283.3L536.6,282.8L537.2,282.4L537.8,282.0L538.4,281.5L538.9,281.1L539.5,280.7L540.1,280.3L540.7,279.9L541.4,279.5L542.0,279.2L542.6,278.8L543.2,278.4L543.8,278.1L544.5,277.7L545.1,277.4L545.7,277.1L546.4,276.7L547.0,276.4L547.7,276.1L548.3,275.8L549.0,275.5L549.6,275.2L550.3,274.9L551.0,274.7L551.7,274.4L552.3,274.1L553.0,273.9L553.7,273.7L554.4,273.4L555.1,273.2L555.7,273.0L556.4,272.8L557.1,272.6L557.8,272.4L558.5,272.2L559.2,272.0L559.9,271.9L560.6,271.7L561.3,271.6L562.0,271.4L562.8,271.3L563.5,271.2L564.2,271.1L564.9,270.9L565.6,270.9L566.3,270.8L567.0,270.7L567.8,270.6L568.5,270.5L569.2,270.5L569.9,270.4L570.7,270.4L571.4,270.4L572.1,270.4L572.8,270.3L573.5,270.3L574.3,270.3L575.0,270.4L575.7,270.4L576.4,270.4L577.2,270.5L577.9,270.5L578.6,270.6L579.3,270.6L580.0,270.7L580.8,270.8L581.5,270.9L582.2,271.0L582.9,271.1L583.6,271.2L584.3,271.3L585.0,271.5L585.8,271.6L586.5,271.8L587.2,271.9L587.9,272.1L588.6,272.3L589.3,272.5L590.0,272.6L590.7,272.8L591.4,273.1L592.1,273.3L592.7,273.5L593.4,273.7L594.1,274.0L594.8,274.2L595.5,274.5L596.1,274.8L596.8,275.0L597.5,275.3L598.1,275.6L598.8,275.9L599.5,276.2L600.1,276.5L600.8,276.9L601.4,277.2L602.1,277.5L602.7,277.9L603.3,278.2L604.0,278.6L604.6,279.0L605.2,279.3L605.8,279.7L606.4,280.1L607.0,280.5L607.6,280.9L608.2,281.3L608.8,281.8L609.4,282.2L610.0,282.6L610.6,283.1L611.1,283.5L611.7,284.0L612.3,284.4L612.8,284.9L613.4,285.4L613.9,285.9L614.4,286.4L615.0,286.8L615.6,287.3L616.1,287.8L616.6,288.3L617.1,288.8L617.6,289.4L618.1,289.9L618.6,290.4L619.0,291.0L619.5,291.5L620.0,292.1L620.4,292.7L620.9,293.2L621.3,293.8L621.8,294.4L622.2,295.0L622.6,295.6L623.1,296.2L623.5,296.8L623.9,297.4L624.3,298.0L624.7,298.6L625.1,299.2L625.4,299.8L625.8,300.4L626.2,301.1L626.5,301.7L626.9,302.4L627.2,303.0L627.5,303.6L627.8,304.3L628.2,305.0L628.3,305.3L624.2,307.2L624.1,306.9L623.8,306.3L623.5,305.7L623.2,305.1L622.9,304.5L622.6,303.9L622.2,303.3L621.9,302.7L621.6,302.1L621.2,301.5L620.9,301.0L620.5,300.4L620.1,299.8L619.8,299.3L619.4,298.7L619.0,298.2L618.6,297.6L618.2,297.1L617.8,296.5L617.4,296.0L616.9,295.5L616.5,295.0L616.1,294.5L615.6,293.9L615.2,293.4L614.8,292.9L614.3,292.4L613.8,292.0L613.4,291.5L612.9,291.0L612.4,290.5L611.9,290.0L611.6,289.4L611.1,288.9L610.6,288.5L610.1,288.0L609.6,287.6L609.1,287.1L608.6,286.7L608.1,286.3L607.5,285.8L607.0,285.4L606.4,285.0L605.9,284.6L605.4,284.2L604.8,283.8L604.2,283.4L603.7,283.1L603.1,282.7L602.5,282.3L602.0,282.0L601.4,281.6L600.8,281.3L600.2,281.0L599.6,280.6L599.0,280.3L598.4,280.0L597.8,279.7L597.2,279.4L596.6,279.1L596.0,278.8L595.3,278.5L594.7,278.2L594.1,278.0L593.5,277.7L592.8,277.5L592.2,277.2L591.6,277.0L590.9,276.7L590.3,276.5L589.6,276.3L589.0,276.1L588.3,275.9L587.7,275.7L587.0,275.5L586.4,275.3L585.7,275.2L585.0,275.0L584.4,274.9L583.7,274.7L583.0,274.6L582.4,274.5L581.7,274.3L581.0,274.2L580.3,274.1L579.7,274.0L579.0,273.9L578.3,273.8L577.6,273.8L576.9,273.7L576.3,273.6L575.6,273.6L574.9,273.5L574.2,273.5L573.5,273.5L572.8,273.5L572.1,273.5L571.5,273.5L570.8,273.5L570.1,273.5L569.4,273.5L568.7,273.5L568.0,273.6L567.3,273.6L566.7,273.7L566.0,273.7L565.3,273.8L564.6,273.9L563.9,274.0L563.2,274.1L562.6,274.2L561.9,274.3L561.2,274.4L560.5,274.5L559.8,274.7L559.2,274.8L558.5,275.0L557.8,275.1L557.2,275.3L556.5,275.5L555.8,275.7L555.2,275.9L554.5,276.1L553.8,276.3L553.2,276.5L552.5,276.7L551.9,276.9L551.2,277.2L550.6,277.4L549.9,277.7L549.3,278.0L548.7,278.2L548.0,278.5L547.4,278.8L546.8,279.1L546.1,279.4L545.5,279.7L544.9,280.0L544.3,280.3L543.7,280.7L543.1,281.0L542.5,281.4L541.9,281.7L541.3,282.1L540.7,282.5L540.1,282.8L539.5,283.2L539.0,283.6L538.4,284.0L537.8,284.4L537.3,284.8L536.7,285.2L536.1,285.7L535.6,286.1L535.1,286.5L534.5,287.0L534.0,287.4L533.5,287.9L532.9,288.4L532.4,288.8L531.9,289.3L531.4,289.8L530.9,290.3L530.4,290.8L529.9,291.3L529.5,291.8L529.0,292.3L528.5,292.8L528.1,293.3L527.6,293.9L527.2,294.4L526.7,295.0L526.3,295.5L525.9,296.1L525.4,296.6L525.0,297.2L524.6,297.7L524.2,298.3L523.8,298.9L523.4,299.5L523.2,299.8ZM619.3,361.9L619.1,362.2L618.8,362.8L618.4,363.4L618.0,364.0L617.5,364.6L617.1,365.2L616.7,365.8L616.2,366.3L615.8,366.9L615.3,367.4L614.8,368.0L614.3,368.5L613.9,369.0L613.4,369.6L612.9,370.1L612.4,370.6L611.8,371.1L611.3,371.6L610.8,372.1L610.3,372.6L609.7,373.1L609.2,373.6L608.6,374.0L608.1,374.5L607.5,374.9L606.9,375.4L606.4,375.8L605.8,376.3L605.2,376.7L604.6,377.1L604.0,377.5L603.4,377.9L602.8,378.3L602.2,378.7L601.6,379.1L601.0,379.4L600.3,379.8L599.7,380.2L599.1,380.5L598.4,380.8L597.8,381.2L597.1,381.5L596.5,381.8L595.8,382.1L595.2,382.4L594.5,382.7L593.8,383.0L593.2,383.2L592.5,383.5L591.8,383.7L591.1,384.0L590.4,384.2L589.8,384.5L589.1,384.7L588.4,384.9L587.7,385.1L587.0,385.3L586.3,385.4L585.6,385.6L584.9,385.8L584.2,385.9L583.4,386.1L582.7,386.2L582.0,386.3L581.3,386.5L580.6,386.6L579.9,386.7L579.2,386.8L578.4,386.8L577.7,386.9L577.0,387.0L576.3,387.0L575.5,387.1L574.8,387.1L574.1,387.1L573.4,387.1L572.6,387.1L571.9,387.1L571.2,387.1L570.5,387.1L569.7,387.1L569.0,387.0L568.3,387.0L567.6,386.9L566.8,386.8L566.1,386.8L565.4,386.7L564.7,386.6L564.0,386.5L563.2,386.4L562.5,386.2L561.8,386.1L561.1,386.0L560.4,385.8L559.7,385.6L559.0,385.5L558.3,385.3L557.6,385.1L556.9,384.9L556.2,384.7L555.5,384.5L554.8,384.2L554.1,384.0L553.4,383.8L552.7,383.5L552.1,383.2L551.4,383.0L550.7,382.7L550.0,382.4L549.4,382.1L548.7,381.8L548.1,381.5L547.4,381.2L546.8,380.8L546.1,380.5L545.5,380.1L544.8,379.8L544.2,379.4L543.6,379.0L543.0,378.7L542.3,378.3L541.7,377.9L541.1,377.5L540.5,377.0L539.9,376.6L539.4,376.2L538.8,375.8L538.2,375.3L537.6,374.9L537.1,374.4L536.5,373.9L535.9,373.5L535.4,373.0L534.9,372.5L534.3,372.0L533.8,371.5L533.3,371.0L532.8,370.5L532.2,370.0L531.7,369.4L531.3,368.9L530.7,368.4L530.2,367.9L529.7,367.3L529.3,366.8L528.8,366.2L528.3,365.6L527.9,365.0L527.5,364.4L527.0,363.9L526.6,363.3L526.2,362.7L525.8,362.0L525.4,361.4L525.0,360.8L524.6,360.2L524.3,359.6L523.9,358.9L523.5,358.3L523.2,357.7L522.8,357.0L522.7,356.7L526.7,354.6L526.8,354.9L527.2,355.5L527.5,356.1L527.8,356.7L528.1,357.3L528.5,357.9L528.8,358.4L529.2,359.0L529.6,359.6L529.9,360.1L530.3,360.7L530.7,361.2L531.1,361.8L531.5,362.3L531.9,362.9L532.3,363.4L532.7,363.9L533.2,364.4L533.6,364.9L534.0,365.4L534.2,366.2L534.7,366.7L535.1,367.2L535.6,367.7L536.1,368.2L536.6,368.6L537.0,369.1L537.5,369.6L538.0,370.0L538.5,370.5L539.0,370.9L539.6,371.4L540.1,371.8L540.6,372.2L541.1,372.7L541.7,373.1L542.2,373.5L542.8,373.9L543.3,374.3L543.9,374.7L544.4,375.0L545.0,375.4L545.6,375.8L546.2,376.1L546.7,376.5L547.3,376.8L547.9,377.2L548.5,377.5L549.1,377.8L549.7,378.1L550.3,378.4L550.9,378.7L551.5,379.0L552.2,379.3L552.8,379.6L553.4,379.9L554.0,380.1L554.7,380.4L555.3,380.6L555.9,380.9L556.6,381.1L557.2,381.3L557.9,381.5L558.5,381.7L559.2,381.9L559.8,382.1L560.5,382.3L561.2,382.5L561.8,382.6L562.5,382.8L563.2,382.9L563.8,383.1L564.5,383.2L565.2,383.3L565.8,383.4L566.5,383.5L567.2,383.6L567.9,383.7L568.6,383.8L569.2,383.9L569.9,383.9L570.6,384.0L571.3,384.0L572.0,384.0L572.7,384.1L573.3,384.1L574.0,384.1L574.7,384.1L575.4,384.1L576.1,384.1L576.8,384.0L577.5,384.0L578.1,383.9L578.8,383.9L579.5,383.8L580.2,383.7L580.9,383.7L581.6,383.6L582.3,383.5L582.9,383.4L583.6,383.3L584.3,383.1L585.0,383.0L585.6,382.9L586.3,382.7L587.0,382.5L587.7,382.4L588.3,382.2L589.0,382.0L589.7,381.8L590.3,381.6L591.0,381.4L591.6,381.2L592.3,380.9L592.9,380.7L593.6,380.5L594.2,380.2L594.9,379.9L595.5,379.7L596.1,379.4L596.8,379.1L597.4,378.8L598.0,378.5L598.6,378.2L599.2,377.8L599.9,377.5L600.5,377.2L601.1,376.8L601.7,376.5L602.3,376.1L602.8,375.7L603.4,375.4L604.0,375.0L604.6,374.6L605.2,374.2L605.7,373.8L606.3,373.4L606.8,372.9L607.4,372.5L607.9,372.1L608.5,371.6L609.0,371.2L609.5,370.7L610.0,370.3L610.5,369.8L611.1,369.3L611.6,368.8L612.1,368.3L612.5,367.8L613.0,367.3L613.5,366.8L614.0,366.3L614.4,365.8L614.9,365.2L615.3,364.7L615.8,364.1L616.2,363.6L616.6,363.0L617.0,362.5L617.5,361.9L618.0,361.5L618.2,361.2ZM526.7,300.1L526.9,299.8L527.2,299.2L527.6,298.6L528.0,298.0L528.5,297.4L528.9,296.8L529.3,296.2L529.8,295.7L530.2,295.1L530.7,294.6L531.2,294.0L531.7,293.5L532.1,293.0L532.6,292.4L533.1,291.9L533.6,291.4L534.2,290.9L534.7,290.4L535.2,289.9L535.7,289.4L536.3,288.9L536.8,288.4L537.4,288.0L537.9,287.5L538.5,287.1L539.1,286.6L539.6,286.2L540.2,285.7L540.8,285.3L541.4,284.9L542.0,284.5L542.6,284.1L543.2,283.7L543.8,283.3L544.4,282.9L545.0,282.6L545.7,282.2L546.3,281.8L546.9,281.5L547.6,281.2L548.2,280.8L548.9,280.5L549.5,280.2L550.2,279.9L550.8,279.6L551.5,279.3L552.2,279.0L552.8,278.8L553.5,278.5L554.2,278.3L554.9,278.0L555.6,277.8L556.2,277.5L556.9,277.3L557.6,277.1L558.3,276.9L559.0,276.7L559.7,276.6L560.4,276.4L561.1,276.2L561.8,276.1L562.6,275.9L563.3,275.8L564.0,275.7L564.7,275.5L565.4,275.4L566.1,275.3L566.8,275.2L567.6,275.2L568.3,275.1L569.0,275.0L569.7,275.0L570.5,274.9L571.2,274.9L571.9,274.9L572.6,274.9L573.4,274.9L574.1,274.9L574.8,274.9L575.5,274.9L576.3,274.9L577.0,275.0L577.7,275.0L578.4,275.1L579.2,275.2L579.9,275.2L580.6,275.3L581.3,275.4L582.0,275.5L582.8,275.6L583.5,275.8L584.2,275.9L584.9,276.0L585.6,276.2L586.3,276.4L587.0,276.5L587.7,276.7L588.4,276.9L589.1,277.1L589.8,277.3L590.5,277.5L591.2,277.8L591.9,278.0L592.6,278.2L593.3,278.5L593.9,278.8L594.6,279.0L595.3,279.3L596.0,279.6L596.6,279.9L597.3,280.2L597.9,280.5L598.6,280.8L599.2,281.2L599.9,281.5L600.5,281.9L601.2,282.2L601.8,282.6L602.4,283.0L603.0,283.3L603.7,283.7L604.3,284.1L604.9,284.5L605.5,285.0L606.1,285.4L606.6,285.8L607.2,286.2L607.8,286.7L608.4,287.1L608.9,287.6L609.5,288.1L610.1,288.5L610.6,289.0L611.1,289.5L611.7,290.0L612.2,290.5L612.7,291.0L613.2,291.5L613.8,292.0L614.3,292.6L614.7,293.1L615.3,293.6L615.8,294.1L616.3,294.7L616.7,295.2L617.2,295.8L617.7,296.4L618.1,297.0L618.5,297.6L619.0,298.1L619.4,298.7L619.8,299.3L620.2,300.0L620.6,300.6L621.0,301.2L621.4,301.8L621.7,302.4L622.1,303.1L622.5,303.7L622.8,304.3L623.2,305.0L623.3,305.3L619.3,307.4L619.2,307.1L618.8,306.5L618.5,305.9L618.2,305.3L617.9,304.7L617.5,304.1L617.2,303.6L616.8,303.0L616.4,302.4L616.1,301.9L615.7,301.3L615.3,300.8L614.9,300.2L614.5,299.7L614.1,299.1L613.7,298.6L613.3,298.1L612.8,297.6L612.4,297.1L612.0,296.6L611.8,295.8L611.3,295.3L610.9,294.8L610.4,294.3L609.9,293.8L609.4,293.4L609.0,292.9L608.5,292.4L608.0,292.0L607.5,291.5L607.0,291.1L606.4,290.6L605.9,290.2L605.4,289.8L604.9,289.3L604.3,288.9L603.8,288.5L603.2,288.1L602.7,287.7L602.1,287.3L601.6,287.0L601.0,286.6L600.4,286.2L599.8,285.9L599.3,285.5L598.7,285.2L598.1,284.8L597.5,284.5L596.9,284.2L596.3,283.9L595.7,283.6L595.1,283.3L594.5,283.0L593.8,282.7L593.2,282.4L592.6,282.1L592.0,281.9L591.3,281.6L590.7,281.4L590.1,281.1L589.4,280.9L588.8,280.7L588.1,280.5L587.5,280.3L586.8,280.1L586.2,279.9L585.5,279.7L584.8,279.5L584.2,279.4L583.5,279.2L582.8,279.1L582.2,278.9L581.5,278.8L580.8,278.7L580.2,278.6L579.5,278.5L578.8,278.4L578.1,278.3L577.4,278.2L576.8,278.1L576.1,278.1L575.4,278.0L574.7,278.0L574.0,278.0L573.3,277.9L572.7,277.9L572.0,277.9L571.3,277.9L570.6,277.9L569.9,277.9L569.2,278.0L568.5,278.0L567.9,278.1L567.2,278.1L566.5,278.2L565.8,278.3L565.1,278.3L564.4,278.4L563.7,278.5L563.1,278.6L562.4,278.7L561.7,278.9L561.0,279.0L560.4,279.1L559.7,279.3L559.0,279.5L558.3,279.6L557.7,279.8L557.0,280.0L556.3,280.2L555.7,280.4L555.0,280.6L554.4,280.8L553.7,281.1L553.1,281.3L552.4,281.5L551.8,281.8L551.1,282.1L550.5,282.3L549.9,282.6L549.2,282.9L548.6,283.2L548.0,283.5L547.4,283.8L546.8,284.2L546.1,284.5L545.5,284.8L544.9,285.2L544.3,285.5L543.7,285.9L543.2,286.3L542.6,286.6L542.0,287.0L541.4,287.4L540.8,287.8L540.3,288.2L539.7,288.6L539.2,289.1L538.6,289.5L538.1,289.9L537.5,290.4L537.0,290.8L536.5,291.3L536.0,291.7L535.5,292.2L534.9,292.7L534.4,293.2L533.9,293.7L533.5,294.2L533.0,294.7L532.5,295.2L532.0,295.7L531.6,296.2L531.1,296.8L530.7,297.3L530.2,297.9L529.8,298.4L529.4,299.0L529.0,299.5L528.5,300.1L528.0,300.5L527.8,300.8ZM613.7,362.3L613.5,362.5L613.0,363.1L612.6,363.7L612.1,364.2L611.6,364.8L611.2,365.3L610.7,365.9L610.2,366.4L609.7,366.9L609.2,367.4L608.7,367.9L608.1,368.4L607.6,368.9L607.1,369.4L606.5,369.9L606.0,370.4L605.4,370.8L604.9,371.3L604.3,371.8L603.7,372.2L603.2,372.6L602.6,373.0L602.0,373.5L601.4,373.9L600.8,374.3L600.2,374.7L599.5,375.0L598.9,375.4L598.3,375.8L597.7,376.1L597.0,376.5L596.4,376.8L595.7,377.2L595.1,377.5L594.4,377.8L593.8,378.1L593.1,378.4L592.5,378.7L591.8,378.9L591.1,379.2L590.4,379.5L589.7,379.7L589.1,379.9L588.4,380.2L587.7,380.4L587.0,380.6L586.3,380.8L585.6,381.0L584.9,381.2L584.2,381.3L583.5,381.5L582.7,381.6L582.0,381.8L581.3,381.9L580.6,382.0L579.9,382.1L579.2,382.2L578.4,382.3L577.7,382.4L577.0,382.4L576.3,382.5L575.5,382.5L574.8,382.6L574.1,382.6L573.4,382.6L572.6,382.6L571.9,382.6L571.2,382.6L570.5,382.6L569.7,382.5L569.0,382.5L568.3,382.4L567.6,382.4L566.8,382.3L566.1,382.2L565.4,382.1L564.7,382.0L563.9,381.9L563.2,381.8L562.5,381.6L561.8,381.5L561.1,381.3L560.4,381.2L559.7,381.0L559.0,380.8L558.3,380.6L557.6,380.4L556.9,380.2L556.2,379.9L555.5,379.7L554.8,379.4L554.1,379.2L553.4,378.9L552.8,378.6L552.1,378.4L551.4,378.1L550.8,377.8L550.1,377.4L549.5,377.1L548.8,376.8L548.2,376.4L547.5,376.1L546.9,375.7L546.3,375.4L545.6,375.0L545.0,374.6L544.4,374.2L543.8,373.8L543.2,373.4L542.6,373.0L542.0,372.5L541.4,372.1L540.9,371.6L540.3,371.2L539.7,370.7L539.2,370.3L538.6,369.8L538.1,369.3L537.5,368.8L537.0,368.3L536.5,367.8L536.0,367.3L535.5,366.7L535.0,366.2L534.5,365.7L534.0,365.1L533.5,364.6L533.0,364.0L532.6,363.4L532.1,362.9L531.7,362.3L531.2,361.7L530.7,361.2L530.3,360.6L529.8,360.0L529.4,359.4L529.0,358.8L528.7,358.2L528.3,357.5L527.9,356.9L527.7,356.6L531.6,354.4L531.8,354.7L532.1,355.2L532.5,355.8L532.8,356.4L533.2,356.9L533.6,357.5L534.0,358.0L534.3,358.6L534.4,359.4L534.8,360.0L535.2,360.5L535.6,361.0L536.0,361.5L536.4,362.1L536.9,362.6L537.3,363.1L537.8,363.6L538.2,364.1L538.7,364.6L539.2,365.1L539.7,365.5L540.1,366.0L540.6,366.5L541.1,366.9L541.6,367.4L542.2,367.8L542.7,368.3L543.2,368.7L543.7,369.1L544.3,369.5L544.8,369.9L545.4,370.3L545.9,370.7L546.5,371.1L547.0,371.5L547.6,371.8L548.2,372.2L548.7,372.6L549.3,372.9L549.9,373.2L550.5,373.6L551.1,373.9L551.7,374.2L552.3,374.5L552.9,374.8L553.5,375.1L554.2,375.4L554.8,375.7L555.4,375.9L556.0,376.2L556.7,376.4L557.3,376.7L557.9,376.9L558.6,377.1L559.2,377.3L559.9,377.5L560.5,377.7L561.2,377.9L561.9,378.1L562.5,378.2L563.2,378.4L563.8,378.5L564.5,378.7L565.2,378.8L565.9,378.9L566.5,379.0L567.2,379.1L567.9,379.2L568.6,379.3L569.2,379.4L569.9,379.4L570.6,379.5L571.3,379.5L572.0,379.6L572.7,379.6L573.3,379.6L574.0,379.6L574.7,379.6L575.4,379.6L576.1,379.6L576.8,379.6L577.5,379.5L578.1,379.5L578.8,379.4L579.5,379.3L580.2,379.2L580.9,379.2L581.6,379.1L582.2,378.9L582.9,378.8L583.6,378.7L584.3,378.6L584.9,378.4L585.6,378.3L586.3,378.1L586.9,377.9L587.6,377.7L588.3,377.5L588.9,377.3L589.6,377.1L590.2,376.9L590.9,376.7L591.5,376.4L592.2,376.2L592.8,375.9L593.5,375.6L594.1,375.4L594.7,375.1L595.3,374.8L596.0,374.5L596.6,374.2L597.2,373.8L597.8,373.5L598.4,373.2L599.0,372.8L599.6,372.4L600.2,372.1L600.8,371.7L601.4,371.3L601.9,370.9L602.5,370.5L603.1,370.1L603.6,369.7L604.2,369.3L604.7,368.8L605.2,368.4L605.8,368.0L606.3,367.5L606.8,367.0L607.3,366.6L607.8,366.1L608.3,365.6L608.8,365.1L609.3,364.6L609.8,364.1L610.3,363.6L610.7,363.1L611.2,362.5L611.6,362.0L612.1,361.5L612.3,361.2ZM531.5,301.0L531.7,300.7L532.2,300.1L532.5,299.5L533.0,298.9L533.4,298.3L533.9,297.8L534.4,297.2L534.8,296.7L535.3,296.1L535.8,295.6L536.3,295.1L536.8,294.6L537.3,294.1L537.9,293.6L538.4,293.1L538.9,292.6L539.5,292.1L540.0,291.6L540.6,291.2L541.1,290.7L541.7,290.2L542.3,289.8L542.8,289.4L543.4,289.0L544.0,288.5L544.6,288.1L545.2,287.7L545.8,287.3L546.5,287.0L547.1,286.6L547.7,286.2L548.3,285.9L549.0,285.5L549.6,285.2L550.3,284.8L550.9,284.5L551.6,284.2L552.2,283.9L552.9,283.6L553.5,283.3L554.2,283.1L554.9,282.8L555.6,282.5L556.3,282.3L556.9,282.1L557.6,281.8L558.3,281.6L559.0,281.4L559.7,281.2L560.4,281.0L561.1,280.8L561.8,280.7L562.5,280.5L563.3,280.4L564.0,280.2L564.7,280.1L565.4,280.0L566.1,279.9L566.8,279.8L567.6,279.7L568.3,279.6L569.0,279.6L569.7,279.5L570.5,279.5L571.2,279.4L571.9,279.4L572.6,279.4L573.4,279.4L574.1,279.4L574.8,279.4L575.5,279.4L576.3,279.5L577.0,279.5L577.7,279.6L578.4,279.6L579.2,279.7L579.9,279.8L580.6,279.9L581.3,280.0L582.1,280.1L582.8,280.2L583.5,280.4L584.2,280.5L584.9,280.7L585.6,280.8L586.3,281.0L587.0,281.2L587.7,281.4L588.4,281.6L589.1,281.8L589.8,282.1L590.5,282.3L591.2,282.6L591.9,282.8L592.6,283.1L593.2,283.4L593.9,283.6L594.6,283.9L595.2,284.2L595.9,284.6L596.5,284.9L597.2,285.2L597.8,285.6L598.5,285.9L599.1,286.3L599.7,286.6L600.4,287.0L601.0,287.4L601.6,287.8L602.2,288.2L602.8,288.6L603.4,289.0L604.0,289.5L604.6,289.9L605.1,290.4L605.7,290.8L606.3,291.3L606.8,291.7L607.4,292.2L607.9,292.7L608.5,293.2L609.0,293.7L609.5,294.2L610.0,294.7L610.5,295.3L611.0,295.8L611.5,296.3L612.0,296.9L612.5,297.4L613.0,298.0L613.4,298.6L613.9,299.1L614.3,299.7L614.8,300.3L615.3,300.8L615.7,301.4L616.2,302.0L616.6,302.6L617.0,303.2L617.3,303.8L617.7,304.5L618.1,305.1L618.3,305.4L614.4,307.6L614.2,307.3L613.9,306.8L613.5,306.2L613.2,305.6L612.8,305.1L612.4,304.5L612.0,304.0L611.7,303.4L611.6,302.6L611.2,302.0L610.8,301.5L610.4,301.0L610.0,300.5L609.6,299.9L609.1,299.4L608.7,298.9L608.2,298.4L607.8,297.9L607.3,297.4L606.8,296.9L606.3,296.5L605.9,296.0L605.4,295.5L604.9,295.1L604.4,294.6L603.8,294.2L603.3,293.7L602.8,293.3L602.3,292.9L601.7,292.5L601.2,292.1L600.6,291.7L600.1,291.3L599.5,290.9L599.0,290.5L598.4,290.2L597.8,289.8L597.3,289.4L596.7,289.1L596.1,288.8L595.5,288.4L594.9,288.1L594.3,287.8L593.7,287.5L593.1,287.2L592.5,286.9L591.8,286.6L591.2,286.3L590.6,286.1L590.0,285.8L589.3,285.6L588.7,285.3L588.1,285.1L587.4,284.9L586.8,284.7L586.1,284.5L585.5,284.3L584.8,284.1L584.1,283.9L583.5,283.8L582.8,283.6L582.2,283.5L581.5,283.3L580.8,283.2L580.1,283.1L579.5,283.0L578.8,282.9L578.1,282.8L577.4,282.7L576.8,282.6L576.1,282.6L575.4,282.5L574.7,282.5L574.0,282.4L573.3,282.4L572.7,282.4L572.0,282.4L571.3,282.4L570.6,282.4L569.9,282.4L569.2,282.4L568.5,282.5L567.9,282.5L567.2,282.6L566.5,282.7L565.8,282.8L565.1,282.8L564.4,282.9L563.8,283.1L563.1,283.2L562.4,283.3L561.7,283.4L561.1,283.6L560.4,283.7L559.7,283.9L559.1,284.1L558.4,284.3L557.7,284.5L557.1,284.7L556.4,284.9L555.8,285.1L555.1,285.3L554.5,285.6L553.8,285.8L553.2,286.1L552.5,286.4L551.9,286.6L551.3,286.9L550.7,287.2L550.0,287.5L549.4,287.8L548.8,288.2L548.2,288.5L547.6,288.8L547.0,289.2L546.4,289.6L545.8,289.9L545.2,290.3L544.6,290.7L544.1,291.1L543.5,291.5L542.9,291.9L542.4,292.3L541.8,292.7L541.3,293.2L540.8,293.6L540.2,294.0L539.7,294.5L539.2,295.0L538.7,295.4L538.2,295.9L537.7,296.4L537.2,296.9L536.7,297.4L536.2,297.9L535.7,298.4L535.3,298.9L534.8,299.5L534.4,300.0L533.9,300.5L533.2,300.9L532.8,301.5L532.6,301.7ZM608.7,361.3L608.5,361.6L608.0,362.1L607.5,362.7L607.0,363.2L606.5,363.7L606.0,364.3L605.5,364.8L605.0,365.3L604.4,365.8L603.9,366.3L603.4,366.7L602.8,367.2L602.2,367.7L601.7,368.1L601.1,368.6L600.5,369.0L599.9,369.4L599.3,369.8L598.7,370.2L598.1,370.6L597.5,371.0L596.9,371.4L596.3,371.8L595.6,372.1L595.0,372.5L594.4,372.8L593.7,373.2L593.0,373.5L592.4,373.8L591.7,374.1L591.1,374.4L590.4,374.7L589.7,374.9L589.0,375.2L588.4,375.4L587.7,375.7L587.0,375.9L586.3,376.1L585.6,376.3L584.9,376.5L584.2,376.7L583.5,376.9L582.8,377.0L582.0,377.2L581.3,377.3L580.6,377.4L579.9,377.6L579.2,377.7L578.5,377.8L577.7,377.8L577.0,377.9L576.3,378.0L575.5,378.0L574.8,378.1L574.1,378.1L573.4,378.1L572.6,378.1L571.9,378.1L571.2,378.1L570.4,378.1L569.7,378.0L569.0,378.0L568.3,377.9L567.5,377.8L566.8,377.8L566.1,377.7L565.4,377.5L564.6,377.4L563.9,377.3L563.2,377.2L562.5,377.0L561.8,376.8L561.1,376.7L560.4,376.5L559.7,376.3L559.0,376.1L558.3,375.9L557.6,375.6L556.9,375.4L556.2,375.1L555.5,374.9L554.8,374.6L554.2,374.3L553.5,374.0L552.8,373.7L552.2,373.4L551.5,373.1L550.9,372.7L550.2,372.4L549.6,372.0L548.9,371.7L548.3,371.3L547.7,370.9L547.1,370.5L546.5,370.1L545.9,369.7L545.3,369.3L544.7,368.9L544.1,368.4L543.5,368.0L542.9,367.5L542.4,367.0L541.8,366.6L541.3,366.1L540.7,365.6L540.2,365.1L539.7,364.6L539.2,364.1L538.7,363.5L538.2,363.0L537.7,362.5L537.2,361.9L536.7,361.3L536.2,360.8L535.8,360.2L535.3,359.6L534.9,359.0L534.5,358.5L534.0,357.9L533.6,357.2L533.2,356.6L533.0,356.3L536.2,354.3L536.4,354.6L536.8,355.2L537.1,355.7L537.5,356.3L537.9,356.8L538.3,357.4L538.7,357.9L539.1,358.4L539.6,359.0L540.0,359.5L540.4,360.0L540.9,360.5L541.4,361.0L541.8,361.5L542.3,361.9L542.8,362.4L543.3,362.9L543.7,363.4L544.2,363.8L544.8,364.2L545.3,364.7L545.8,365.1L546.3,365.5L546.9,366.0L547.4,366.4L547.9,366.8L548.5,367.1L549.0,367.5L549.6,367.9L550.2,368.3L550.8,368.6L551.3,369.0L551.9,369.3L552.5,369.6L553.1,370.0L553.7,370.3L554.3,370.6L554.9,370.9L555.5,371.2L556.2,371.4L556.8,371.7L557.4,372.0L558.0,372.2L558.7,372.4L559.3,372.7L560.0,372.9L560.6,373.1L561.3,373.3L561.9,373.5L562.6,373.7L563.2,373.8L563.9,374.0L564.5,374.1L565.2,374.3L565.9,374.4L566.6,374.5L567.2,374.6L567.9,374.7L568.6,374.8L569.3,374.9L569.9,375.0L570.6,375.0L571.3,375.1L572.0,375.1L572.7,375.1L573.3,375.2L574.0,375.2L574.7,375.2L575.4,375.1L576.1,375.1L576.8,375.1L577.4,375.0L578.1,375.0L578.8,374.9L579.5,374.8L580.2,374.7L580.8,374.6L581.5,374.5L582.2,374.4L582.9,374.3L583.5,374.1L584.2,374.0L584.9,373.8L585.6,373.6L586.2,373.5L586.9,373.3L587.5,373.1L588.2,372.8L588.8,372.6L589.5,372.4L590.1,372.1L590.8,371.9L591.4,371.6L592.0,371.3L592.7,371.0L593.3,370.8L593.9,370.4L594.5,370.1L595.1,369.8L595.7,369.5L596.3,369.1L596.9,368.8L597.5,368.4L598.1,368.0L598.7,367.7L599.3,367.3L599.8,366.9L600.4,366.5L600.9,366.0L601.5,365.6L602.0,365.2L602.6,364.7L603.1,364.3L603.6,363.8L604.1,363.4L604.6,362.9L605.1,362.4L605.6,361.9L606.1,361.4L606.6,360.9L607.1,360.4L607.3,360.1ZM537.3,300.7L537.5,300.4L538.0,299.9L538.5,299.3L539.0,298.8L539.5,298.3L540.0,297.7L540.5,297.2L541.0,296.7L541.6,296.2L542.1,295.7L542.6,295.3L543.2,294.8L543.8,294.3L544.3,293.9L544.9,293.4L545.5,293.0L546.1,292.6L546.7,292.2L547.3,291.8L547.9,291.4L548.5,291.0L549.1,290.6L549.7,290.2L550.4,289.9L551.0,289.5L551.6,289.2L552.3,288.8L553.0,288.5L553.6,288.2L554.3,287.9L554.9,287.6L555.6,287.3L556.3,287.1L557.0,286.8L557.6,286.6L558.3,286.3L559.0,286.1L559.7,285.9L560.4,285.7L561.1,285.5L561.8,285.3L562.5,285.1L563.2,285.0L564.0,284.8L564.7,284.7L565.4,284.6L566.1,284.4L566.8,284.3L567.5,284.2L568.3,284.2L569.0,284.1L569.7,284.0L570.5,284.0L571.2,283.9L571.9,283.9L572.6,283.9L573.4,283.9L574.1,283.9L574.8,283.9L575.6,283.9L576.3,284.0L577.0,284.0L577.7,284.1L578.5,284.2L579.2,284.2L579.9,284.3L580.6,284.5L581.4,284.6L582.1,284.7L582.8,284.8L583.5,285.0L584.2,285.2L584.9,285.3L585.6,285.5L586.3,285.7L587.0,285.9L587.7,286.1L588.4,286.4L589.1,286.6L589.8,286.9L590.5,287.1L591.2,287.4L591.8,287.7L592.5,288.0L593.2,288.3L593.8,288.6L594.5,288.9L595.1,289.3L595.8,289.6L596.4,290.0L597.1,290.3L597.7,290.7L598.3,291.1L598.9,291.5L599.5,291.9L600.1,292.3L600.7,292.7L601.3,293.1L601.9,293.6L602.5,294.0L603.1,294.5L603.6,295.0L604.2,295.4L604.7,295.9L605.3,296.4L605.8,296.9L606.3,297.4L606.8,297.9L607.3,298.5L607.8,299.0L608.3,299.5L608.8,300.1L609.3,300.7L609.8,301.2L610.2,301.8L610.7,302.4L611.1,303.0L611.5,303.5L612.0,304.1L612.4,304.8L612.8,305.4L613.0,305.7L609.8,307.7L609.6,307.4L609.2,306.8L608.9,306.3L608.5,305.7L608.1,305.2L607.7,304.6L607.3,304.1L606.9,303.6L606.4,303.0L606.0,302.5L605.6,302.0L605.1,301.5L604.6,301.0L604.2,300.5L603.7,300.1L603.2,299.6L602.7,299.1L602.3,298.6L601.8,298.2L601.2,297.8L600.7,297.3L600.2,296.9L599.7,296.5L599.1,296.0L598.6,295.6L598.1,295.2L597.5,294.9L597.0,294.5L596.4,294.1L595.8,293.7L595.2,293.4L594.7,293.0L594.1,292.7L593.5,292.4L592.9,292.0L592.3,291.7L591.7,291.4L591.1,291.1L590.5,290.8L589.8,290.6L589.2,290.3L588.6,290.0L588.0,289.8L587.3,289.6L586.7,289.3L586.0,289.1L585.4,288.9L584.7,288.7L584.1,288.5L583.4,288.3L582.8,288.2L582.1,288.0L581.5,287.9L580.8,287.7L580.1,287.6L579.4,287.5L578.8,287.4L578.1,287.3L577.4,287.2L576.7,287.1L576.1,287.0L575.4,287.0L574.7,286.9L574.0,286.9L573.3,286.9L572.7,286.8L572.0,286.8L571.3,286.8L570.6,286.9L569.9,286.9L569.2,286.9L568.6,287.0L567.9,287.0L567.2,287.1L566.5,287.2L565.8,287.3L565.2,287.4L564.5,287.5L563.8,287.6L563.1,287.7L562.5,287.9L561.8,288.0L561.1,288.2L560.4,288.4L559.8,288.5L559.1,288.7L558.5,288.9L557.8,289.2L557.2,289.4L556.5,289.6L555.9,289.9L555.2,290.1L554.6,290.4L554.0,290.7L553.3,291.0L552.7,291.2L552.1,291.6L551.5,291.9L550.9,292.2L550.3,292.5L549.7,292.9L549.1,293.2L548.5,293.6L547.9,294.0L547.3,294.3L546.7,294.7L546.2,295.1L545.6,295.5L545.1,296.0L544.5,296.4L544.0,296.8L543.4,297.3L542.9,297.7L542.4,298.2L541.9,298.6L541.4,299.1L540.9,299.6L540.4,300.1L539.9,300.6L539.4,301.1L538.9,301.6L538.7,301.9ZM603.0,360.9L602.8,361.2L602.2,361.7L601.7,362.2L601.2,362.7L600.6,363.1L600.1,363.6L599.5,364.1L598.9,364.5L598.4,365.0L597.8,365.4L597.2,365.8L596.6,366.3L596.0,366.7L595.4,367.1L594.7,367.4L594.1,367.8L593.5,368.2L592.8,368.5L592.2,368.9L591.5,369.2L590.9,369.5L590.2,369.8L589.6,370.1L588.9,370.4L588.2,370.7L587.5,370.9L586.8,371.2L586.1,371.4L585.4,371.7L584.7,371.9L584.0,372.1L583.3,372.3L582.6,372.4L581.9,372.6L581.2,372.7L580.5,372.9L579.7,373.0L579.0,373.1L578.3,373.2L577.6,373.3L576.8,373.4L576.1,373.5L575.4,373.5L574.6,373.6L573.9,373.6L573.2,373.6L572.4,373.6L571.7,373.6L571.0,373.6L570.3,373.5L569.5,373.5L568.8,373.4L568.1,373.3L567.3,373.3L566.6,373.2L565.9,373.1L565.2,372.9L564.4,372.8L563.7,372.6L563.0,372.5L562.3,372.3L561.6,372.1L560.9,371.9L560.2,371.7L559.5,371.5L558.8,371.2L558.1,371.0L557.4,370.7L556.7,370.5L556.0,370.2L555.3,369.9L554.7,369.6L554.0,369.3L553.4,368.9L552.7,368.6L552.1,368.2L551.4,367.9L550.8,367.5L550.2,367.1L549.5,366.7L548.9,366.3L548.3,365.9L547.7,365.5L547.1,365.0L546.5,364.6L546.0,364.1L545.4,363.7L544.8,363.2L544.3,362.7L543.8,362.2L543.2,361.7L542.7,361.2L542.2,360.7L541.7,360.1L541.2,359.6L540.7,359.0L540.2,358.5L539.7,357.9L539.3,357.3L538.8,356.7L538.6,356.4L541.5,354.3L541.7,354.6L542.1,355.1L542.5,355.6L543.0,356.2L543.4,356.7L543.8,357.2L544.3,357.7L544.8,358.2L545.2,358.7L545.7,359.1L546.2,359.6L546.7,360.1L547.2,360.5L547.7,361.0L548.2,361.4L548.7,361.8L549.3,362.2L549.8,362.7L550.3,363.1L550.9,363.5L551.4,363.8L552.0,364.2L552.6,364.6L553.2,364.9L553.7,365.3L554.3,365.6L554.9,365.9L555.5,366.2L556.1,366.5L556.7,366.8L557.3,367.1L558.0,367.4L558.6,367.7L559.2,367.9L559.9,368.2L560.5,368.4L561.1,368.6L561.8,368.8L562.4,369.0L563.1,369.2L563.7,369.4L564.4,369.6L565.1,369.7L565.7,369.9L566.4,370.0L567.1,370.1L567.7,370.2L568.4,370.3L569.1,370.4L569.8,370.5L570.4,370.6L571.1,370.6L571.8,370.6L572.5,370.7L573.2,370.7L573.9,370.7L574.5,370.7L575.2,370.7L575.9,370.7L576.6,370.6L577.3,370.6L578.0,370.5L578.6,370.4L579.3,370.3L580.0,370.2L580.7,370.1L581.3,370.0L582.0,369.9L582.7,369.7L583.4,369.6L584.0,369.4L584.7,369.2L585.4,369.0L586.0,368.8L586.7,368.6L587.3,368.4L588.0,368.1L588.6,367.9L589.2,367.6L589.9,367.4L590.5,367.1L591.1,366.8L591.8,366.5L592.4,366.2L593.0,365.8L593.6,365.5L594.2,365.2L594.8,364.8L595.4,364.4L595.9,364.1L596.5,363.7L597.1,363.3L597.6,362.9L598.2,362.4L598.7,362.0L599.3,361.6L599.8,361.1L600.3,360.7L600.9,360.2L601.4,359.7L601.6,359.5ZM542.8,301.5L543.1,301.2L543.5,300.6L544.0,300.1L544.5,299.6L545.1,299.1L545.6,298.6L546.2,298.1L546.8,297.7L547.3,297.2L547.9,296.8L548.5,296.4L549.1,295.9L549.7,295.5L550.3,295.1L550.9,294.7L551.6,294.4L552.2,294.0L552.8,293.6L553.5,293.3L554.1,293.0L554.8,292.6L555.4,292.3L556.1,292.0L556.8,291.7L557.5,291.5L558.1,291.2L558.8,290.9L559.5,290.7L560.2,290.5L560.9,290.2L561.6,290.0L562.3,289.8L563.0,289.7L563.7,289.5L564.5,289.3L565.2,289.2L565.9,289.0L566.6,288.9L567.3,288.8L568.1,288.7L568.8,288.6L569.5,288.6L570.3,288.5L571.0,288.5L571.7,288.4L572.5,288.4L573.2,288.4L573.9,288.4L574.7,288.4L575.4,288.4L576.1,288.5L576.8,288.5L577.6,288.6L578.3,288.7L579.0,288.8L579.8,288.9L580.5,289.0L581.2,289.1L581.9,289.3L582.6,289.4L583.4,289.6L584.1,289.8L584.8,290.0L585.5,290.2L586.2,290.4L586.9,290.6L587.6,290.9L588.3,291.1L589.0,291.4L589.6,291.7L590.3,292.0L591.0,292.3L591.7,292.6L592.3,292.9L593.0,293.2L593.6,293.6L594.3,293.9L594.9,294.3L595.5,294.7L596.1,295.1L596.8,295.5L597.4,295.9L598.0,296.3L598.6,296.7L599.2,297.2L599.7,297.6L600.3,298.1L600.9,298.6L601.4,299.1L602.0,299.6L602.5,300.1L603.0,300.6L603.6,301.1L604.1,301.6L604.6,302.2L605.1,302.7L605.6,303.3L606.0,303.8L606.5,304.4L606.9,305.0L607.4,305.6L607.6,305.9L604.7,308.0L604.5,307.7L604.1,307.2L603.7,306.6L603.3,306.1L602.8,305.6L602.4,305.1L601.9,304.6L601.5,304.1L601.0,303.6L600.5,303.1L600.1,302.6L599.6,302.2L599.1,301.7L598.6,301.3L598.1,300.8L597.5,300.4L597.0,300.0L596.5,299.5L595.9,299.1L595.4,298.7L594.8,298.4L594.3,298.0L593.7,297.6L593.1,297.3L592.6,296.9L592.0,296.6L591.4,296.2L590.8,295.9L590.2,295.6L589.6,295.3L589.0,295.0L588.3,294.7L587.7,294.5L587.1,294.2L586.5,294.0L585.8,293.7L585.2,293.5L584.5,293.3L583.9,293.1L583.2,292.9L582.6,292.7L581.9,292.5L581.3,292.4L580.6,292.2L579.9,292.1L579.3,291.9L578.6,291.8L577.9,291.7L577.3,291.6L576.6,291.5L575.9,291.5L575.2,291.4L574.5,291.4L573.9,291.3L573.2,291.3L572.5,291.3L571.8,291.3L571.1,291.3L570.4,291.3L569.8,291.4L569.1,291.4L568.4,291.5L567.7,291.5L567.0,291.6L566.3,291.7L565.7,291.8L565.0,291.9L564.3,292.1L563.6,292.2L563.0,292.4L562.3,292.5L561.6,292.7L561.0,292.9L560.3,293.1L559.7,293.3L559.0,293.5L558.4,293.7L557.7,294.0L557.1,294.2L556.4,294.5L555.8,294.8L555.2,295.1L554.6,295.4L553.9,295.7L553.3,296.0L552.7,296.3L552.1,296.7L551.5,297.0L550.9,297.4L550.3,297.8L549.8,298.1L549.2,298.5L548.6,298.9L548.1,299.3L547.5,299.8L547.0,300.2L546.4,300.6L545.9,301.1L545.4,301.6L544.9,302.0L544.0,302.2L543.8,302.4ZM597.6,359.6L597.3,359.8L596.8,360.3L596.3,360.9L595.7,361.4L595.1,361.8L594.5,362.2L593.9,362.6L593.3,363.0L592.7,363.4L592.1,363.8L591.4,364.2L590.8,364.5L590.2,364.9L589.5,365.2L588.8,365.5L588.2,365.8L587.5,366.1L586.8,366.4L586.1,366.7L585.4,366.9L584.7,367.1L584.0,367.4L583.3,367.6L582.6,367.8L581.9,368.0L581.2,368.1L580.5,368.3L579.8,368.4L579.0,368.6L578.3,368.7L577.6,368.8L576.9,368.9L576.1,368.9L575.4,369.0L574.7,369.0L573.9,369.1L573.2,369.1L572.4,369.1L571.7,369.1L571.0,369.0L570.2,369.0L569.5,369.0L568.8,368.9L568.0,368.8L567.3,368.7L566.6,368.6L565.9,368.5L565.1,368.3L564.4,368.2L563.7,368.0L563.0,367.8L562.3,367.6L561.6,367.4L560.9,367.2L560.2,366.9L559.5,366.7L558.8,366.4L558.1,366.1L557.4,365.9L556.7,365.6L556.1,365.2L555.4,364.9L554.8,364.6L554.1,364.2L553.5,363.8L552.8,363.5L552.2,363.1L551.6,362.7L551.0,362.2L550.4,361.8L549.8,361.4L549.2,360.9L548.6,360.5L548.1,360.0L547.5,359.5L547.0,359.0L546.4,358.5L545.9,358.0L545.4,357.4L544.9,356.9L544.4,356.4L544.1,356.1L546.8,353.8L547.0,354.1L547.4,354.6L547.9,355.1L548.3,355.5L548.8,356.0L549.3,356.5L549.8,356.9L550.3,357.4L550.8,357.8L551.3,358.3L551.8,358.7L552.4,359.1L552.9,359.5L553.5,359.9L554.0,360.3L554.6,360.6L555.2,361.0L555.7,361.3L556.3,361.7L556.9,362.0L557.5,362.3L558.1,362.6L558.7,362.9L559.3,363.2L560.0,363.5L560.6,363.7L561.2,364.0L561.9,364.2L562.5,364.4L563.1,364.6L563.8,364.8L564.4,365.0L565.1,365.2L565.8,365.3L566.4,365.5L567.1,365.6L567.8,365.7L568.4,365.8L569.1,365.9L569.8,366.0L570.5,366.1L571.1,366.1L571.8,366.2L572.5,366.2L573.2,366.2L573.9,366.2L574.5,366.2L575.2,366.2L575.9,366.2L576.6,366.1L577.3,366.1L577.9,366.0L578.6,365.9L579.3,365.8L580.0,365.7L580.6,365.6L581.3,365.4L582.0,365.3L582.6,365.1L583.3,364.9L584.0,364.7L584.6,364.5L585.3,364.3L585.9,364.1L586.6,363.9L587.2,363.6L587.8,363.3L588.5,363.1L589.1,362.8L589.7,362.5L590.3,362.1L590.9,361.8L591.5,361.5L592.1,361.1L592.7,360.8L593.3,360.4L593.9,360.0L594.4,359.6L595.0,359.2L595.9,359.2L596.4,358.8L596.7,358.6ZM548.7,302.2L549.0,301.9L549.4,301.3L550.0,300.9L550.6,300.4L551.2,300.0L551.8,299.6L552.4,299.2L553.0,298.8L553.6,298.4L554.2,298.0L554.9,297.7L555.5,297.3L556.2,297.0L556.8,296.6L557.5,296.3L558.2,296.0L558.8,295.7L559.5,295.5L560.2,295.2L560.9,295.0L561.6,294.7L562.3,294.5L563.0,294.3L563.7,294.1L564.4,293.9L565.2,293.8L565.9,293.6L566.6,293.5L567.3,293.4L568.0,293.3L568.8,293.2L569.5,293.1L570.2,293.0L571.0,293.0L571.7,292.9L572.4,292.9L573.2,292.9L573.9,292.9L574.7,292.9L575.4,293.0L576.1,293.0L576.9,293.1L577.6,293.2L578.3,293.2L579.1,293.4L579.8,293.5L580.5,293.6L581.2,293.8L581.9,293.9L582.7,294.1L583.4,294.3L584.1,294.5L584.8,294.7L585.5,294.9L586.2,295.2L586.9,295.4L587.6,295.7L588.2,296.0L588.9,296.3L589.6,296.6L590.3,296.9L590.9,297.3L591.6,297.6L592.2,298.0L592.8,298.4L593.5,298.7L594.1,299.1L594.7,299.6L595.3,300.0L595.9,300.4L596.5,300.9L597.1,301.3L597.6,301.8L598.2,302.3L598.8,302.8L599.3,303.3L599.8,303.8L600.4,304.3L600.9,304.8L601.4,305.4L601.6,305.6L599.0,307.9L598.8,307.7L598.4,307.2L597.9,306.7L597.4,306.2L596.9,305.7L596.5,305.3L596.0,304.8L595.5,304.4L594.9,303.9L594.4,303.5L593.9,303.1L593.3,302.7L592.8,302.3L592.2,301.9L591.7,301.6L591.1,301.2L590.5,300.8L590.0,300.5L589.4,300.2L588.8,299.8L588.2,299.5L587.6,299.2L587.0,299.0L586.3,298.7L585.7,298.4L585.1,298.2L584.5,297.9L583.8,297.7L583.2,297.5L582.5,297.3L581.9,297.1L581.2,296.9L580.6,296.8L579.9,296.6L579.2,296.5L578.6,296.3L577.9,296.2L577.2,296.1L576.6,296.0L575.9,295.9L575.2,295.9L574.5,295.8L573.9,295.8L573.2,295.8L572.5,295.8L571.8,295.8L571.1,295.8L570.4,295.8L569.8,295.8L569.1,295.9L568.4,296.0L567.7,296.0L567.0,296.1L566.4,296.2L565.7,296.4L565.0,296.5L564.4,296.6L563.7,296.8L563.0,297.0L562.4,297.2L561.7,297.4L561.1,297.6L560.4,297.8L559.8,298.0L559.1,298.3L558.5,298.5L557.8,298.8L557.2,299.1L556.6,299.4L556.0,299.7L555.4,300.0L554.8,300.3L554.2,300.7L553.6,301.1L553.0,301.4L552.4,301.8L551.9,302.2L551.3,302.6L550.7,303.0L549.8,303.0L549.6,303.2ZM589.6,360.0L589.3,360.2L588.7,360.6L588.0,360.9L587.3,361.2L586.7,361.6L586.0,361.9L585.3,362.1L584.6,362.4L583.9,362.7L583.2,362.9L582.5,363.1L581.8,363.3L581.1,363.5L580.4,363.7L579.6,363.9L578.9,364.0L578.2,364.1L577.4,364.3L576.7,364.3L576.0,364.4L575.2,364.5L574.5,364.5L573.7,364.6L573.0,364.6L572.3,364.6L571.5,364.6L570.8,364.5L570.0,364.5L569.3,364.4L568.6,364.3L567.8,364.2L567.1,364.1L566.4,364.0L565.6,363.8L564.9,363.6L564.2,363.5L563.5,363.3L562.7,363.0L562.0,362.8L561.3,362.6L560.6,362.3L559.9,362.0L559.3,361.7L558.6,361.4L557.9,361.1L557.3,360.8L556.6,360.4L555.9,360.0L555.3,359.7L554.7,359.3L554.1,358.8L553.4,358.4L552.8,358.0L552.2,357.5L551.7,357.1L551.1,356.6L550.8,356.4L553.0,353.9L553.2,354.1L553.7,354.5L554.3,355.0L554.8,355.4L555.3,355.8L555.9,356.2L556.4,356.6L557.0,356.9L557.6,357.3L558.1,357.6L558.7,358.0L559.3,358.3L559.9,358.6L560.5,358.9L561.2,359.1L561.8,359.4L562.4,359.7L563.0,359.9L563.7,360.1L564.3,360.3L565.0,360.5L565.6,360.7L566.3,360.9L566.9,361.0L567.6,361.2L568.3,361.3L568.9,361.4L569.6,361.5L570.3,361.6L571.0,361.7L571.6,361.7L572.3,361.8L573.0,361.8L573.7,361.8L574.4,361.8L575.0,361.8L575.7,361.7L576.4,361.7L577.1,361.6L577.8,361.5L578.4,361.4L579.1,361.3L579.8,361.2L580.5,361.0L581.1,360.9L581.8,360.7L582.4,360.5L583.1,360.3L583.8,360.1L584.4,359.9L585.0,359.6L585.7,359.4L586.3,359.1L586.9,358.8L587.6,358.5L588.2,358.2L588.5,358.0ZM556.4,302.0L556.7,301.8L557.3,301.4L558.0,301.1L558.7,300.8L559.3,300.4L560.0,300.1L560.7,299.9L561.4,299.6L562.1,299.3L562.8,299.1L563.5,298.9L564.2,298.7L564.9,298.5L565.6,298.3L566.4,298.1L567.1,298.0L567.8,297.9L568.6,297.7L569.3,297.7L570.0,297.6L570.8,297.5L571.5,297.5L572.3,297.4L573.0,297.4L573.7,297.4L574.5,297.4L575.2,297.5L576.0,297.5L576.7,297.6L577.4,297.7L578.2,297.8L578.9,297.9L579.6,298.0L580.4,298.2L581.1,298.4L581.8,298.5L582.5,298.7L583.3,299.0L584.0,299.2L584.7,299.4L585.4,299.7L586.1,300.0L586.7,300.3L587.4,300.6L588.1,300.9L588.7,301.2L589.4,301.6L590.1,302.0L590.7,302.3L591.3,302.7L591.9,303.2L592.6,303.6L593.2,304.0L593.8,304.5L594.3,304.9L594.9,305.4L595.2,305.6L593.0,308.1L592.8,307.9L592.3,307.5L591.7,307.0L591.2,306.6L590.7,306.2L590.1,305.8L589.6,305.4L589.0,305.1L588.4,304.7L587.9,304.4L587.3,304.0L586.7,303.7L586.1,303.4L585.5,303.1L584.8,302.9L584.2,302.6L583.6,302.3L583.0,302.1L582.3,301.9L581.7,301.7L581.0,301.5L580.4,301.3L579.7,301.1L579.1,301.0L578.4,300.8L577.7,300.7L577.1,300.6L576.4,300.5L575.7,300.4L575.0,300.3L574.4,300.3L573.7,300.2L573.0,300.2L572.3,300.2L571.6,300.2L571.0,300.2L570.3,300.3L569.6,300.3L568.9,300.4L568.2,300.5L567.6,300.6L566.9,300.7L566.2,300.8L565.5,301.0L564.9,301.1L564.2,301.3L563.6,301.5L562.9,301.7L562.2,301.9L561.6,302.1L561.0,302.4L560.3,302.6L559.7,302.9L559.1,303.2L558.4,303.5L557.8,303.8L557.5,304.0ZM580.7,359.0L580.4,359.1L579.7,359.2L578.9,359.4L578.2,359.6L577.5,359.7L576.7,359.8L576.0,359.9L575.2,360.0L574.5,360.0L573.7,360.0L573.0,360.1L572.3,360.1L571.5,360.0L570.8,360.0L570.0,359.9L569.3,359.8L568.5,359.7L567.8,359.6L567.0,359.5L566.3,359.3L565.6,359.1L564.9,359.0L564.1,358.7L563.4,358.5L562.7,358.3L562.0,358.0L561.3,357.7L560.6,357.4L560.0,357.1L559.3,356.7L558.6,356.4L558.3,356.2L559.9,353.5L560.2,353.7L560.7,354.0L561.3,354.3L561.9,354.6L562.5,354.9L563.2,355.2L563.8,355.4L564.4,355.7L565.0,355.9L565.7,356.1L566.3,356.3L567.0,356.5L567.6,356.6L568.3,356.8L569.0,356.9L569.6,357.0L570.3,357.1L571.0,357.2L571.6,357.2L572.3,357.3L573.0,357.3L573.7,357.3L574.4,357.3L575.0,357.3L575.7,357.2L576.4,357.2L577.1,357.1L577.7,357.0L578.4,356.9L579.1,356.7L579.7,356.6L580.1,356.5ZM565.3,303.0L565.6,302.9L566.3,302.8L567.1,302.6L567.8,302.4L568.5,302.3L569.3,302.2L570.0,302.1L570.8,302.0L571.5,302.0L572.3,302.0L573.0,301.9L573.7,301.9L574.5,302.0L575.2,302.0L576.0,302.1L576.7,302.2L577.5,302.3L578.2,302.4L579.0,302.5L579.7,302.7L580.4,302.9L581.1,303.0L581.9,303.3L582.6,303.5L583.3,303.7L584.0,304.0L584.7,304.3L585.4,304.6L586.0,304.9L586.7,305.3L587.4,305.6L587.7,305.8L586.1,308.5L585.8,308.3L585.3,308.0L584.7,307.7L584.1,307.4L583.5,307.1L582.8,306.8L582.2,306.6L581.6,306.3L581.0,306.1L580.3,305.9L579.7,305.7L579.0,305.5L578.4,305.4L577.7,305.2L577.0,305.1L576.4,305.0L575.7,304.9L575.0,304.8L574.4,304.8L573.7,304.7L573.0,304.7L572.3,304.7L571.6,304.7L571.0,304.7L570.3,304.8L569.6,304.8L568.9,304.9L568.3,305.0L567.6,305.1L566.9,305.3L566.3,305.4L565.9,305.5Z"/><path fill="#444" d="M655.7,332.8L655.7,334.2L654.3,334.2L654.3,332.8ZM655.4,337.8L655.3,339.2L654.0,339.1L654.1,337.7ZM654.9,342.7L654.8,343.1L654.7,343.8L654.6,344.5L654.5,344.8L653.2,344.6L653.3,344.3L653.4,343.6L653.5,342.9L653.5,342.5ZM654.0,347.6L653.9,348.0L653.8,348.7L653.6,349.4L653.6,349.7L652.2,349.4L652.3,349.1L652.5,348.4L652.6,347.7L652.7,347.4ZM652.9,352.5L652.8,352.8L652.6,353.5L652.4,354.2L652.3,354.6L651.0,354.2L651.1,353.8L651.3,353.2L651.5,352.5L651.6,352.1ZM651.2,357.9L650.7,359.3L649.5,358.8L649.9,357.5ZM649.4,362.6L648.9,363.9L647.6,363.4L648.2,362.1ZM648.0,365.9L647.8,366.2L647.5,366.8L647.2,367.5L646.9,368.1L646.6,368.8L646.3,369.4L646.1,369.7L644.9,369.1L645.1,368.8L645.4,368.1L645.7,367.5L646.0,366.9L646.3,366.3L646.6,365.6L646.8,365.3ZM645.8,370.3L645.6,370.6L645.2,371.3L644.9,371.9L644.5,372.5L644.2,373.1L643.8,373.7L643.6,374.0L642.5,373.3L642.7,373.0L643.0,372.4L643.4,371.8L643.7,371.2L644.1,370.6L644.4,370.0L644.6,369.7ZM492.4,349.4L492.1,348.0L493.4,347.7L493.7,349.1ZM491.4,344.5L491.2,343.1L492.5,342.9L492.7,344.3ZM490.7,339.5L490.6,338.1L491.9,338.0L492.1,339.4ZM490.4,334.6L490.3,334.2L490.3,333.5L490.3,332.8L490.3,332.4L491.6,332.4L491.7,332.8L491.7,333.5L491.7,334.2L491.7,334.5ZM490.3,329.6L490.3,329.2L490.3,328.5L490.3,327.8L490.4,327.4L491.7,327.5L491.7,327.8L491.7,328.5L491.7,329.2L491.6,329.6ZM490.6,323.9L490.7,322.5L492.1,322.6L491.9,324.0ZM491.2,318.9L491.4,317.5L492.7,317.7L492.5,319.1ZM492.1,314.0L492.4,312.6L493.7,312.9L493.4,314.3ZM493.2,309.2L493.6,307.8L494.9,308.2L494.5,309.5ZM494.7,304.4L494.8,304.1L495.0,303.4L495.3,302.7L495.4,302.4L496.7,302.8L496.5,303.2L496.3,303.8L496.1,304.5L496.0,304.8ZM496.4,299.7L496.6,299.4L496.8,298.7L497.1,298.1L497.3,297.7L498.5,298.3L498.4,298.6L498.1,299.3L497.8,299.9L497.7,300.2ZM498.2,295.8L498.3,295.5L498.6,294.8L498.9,294.2L499.2,293.6L499.6,292.9L499.7,292.6L500.9,293.2L500.8,293.5L500.4,294.2L500.1,294.8L499.8,295.4L499.5,296.1L499.4,296.4ZM500.4,291.4L500.6,291.0L500.9,290.4L501.3,289.8L501.6,289.2L502.0,288.6L502.4,288.0L502.6,287.7L503.7,288.4L503.5,288.7L503.2,289.3L502.8,289.9L502.5,290.5L502.1,291.1L501.8,291.7L501.6,292.0ZM502.9,287.0L503.1,286.7L503.5,286.1L503.9,285.5L504.3,285.0L504.7,284.4L505.1,283.8L505.3,283.5L506.4,284.3L506.2,284.5L505.8,285.1L505.4,285.7L505.0,286.3L504.6,286.9L504.3,287.5L504.1,287.8ZM653.6,312.3L653.6,312.6L653.8,313.3L653.9,314.0L654.0,314.4L652.7,314.6L652.6,314.3L652.5,313.6L652.3,312.9L652.2,312.6ZM654.5,317.2L654.6,317.5L654.7,318.2L654.8,318.9L654.9,319.3L653.5,319.5L653.5,319.1L653.4,318.4L653.3,317.7L653.2,317.4ZM655.3,322.8L655.4,324.2L654.1,324.3L654.0,322.9ZM655.7,327.8L655.7,329.2L654.3,329.2L654.3,327.8ZM651.2,329.9L651.2,330.3L651.2,331.0L651.2,331.7L651.2,332.1L649.9,332.1L649.9,331.7L649.9,331.0L649.9,330.3L649.9,329.9ZM651.1,334.9L651.1,335.3L651.1,336.0L651.0,336.7L651.0,337.1L649.6,337.0L649.7,336.6L649.7,335.9L649.7,335.2L649.8,334.9ZM650.6,340.6L650.4,342.0L649.1,341.8L649.3,340.5ZM649.8,345.6L649.6,347.0L648.2,346.7L648.5,345.3ZM648.8,350.4L648.4,351.8L647.1,351.5L647.5,350.1ZM647.4,355.2L647.3,355.6L647.0,356.3L646.8,356.9L646.7,357.3L645.4,356.8L645.5,356.5L645.7,355.8L646.0,355.2L646.1,354.8ZM645.7,359.9L645.5,360.3L645.3,360.9L645.0,361.6L644.8,361.9L643.6,361.4L643.7,361.1L644.0,360.4L644.3,359.8L644.4,359.4ZM643.7,364.5L643.5,364.8L643.2,365.5L642.9,366.1L642.6,366.8L642.2,367.4L642.1,367.7L640.9,367.1L641.0,366.8L641.4,366.1L641.7,365.5L642.0,364.9L642.3,364.3L642.4,363.9ZM641.7,368.3L641.6,368.7L641.2,369.3L640.9,369.9L640.5,370.5L640.1,371.1L639.8,371.7L639.6,372.0L638.4,371.3L638.6,371.0L639.0,370.4L639.3,369.8L639.7,369.2L640.0,368.6L640.4,368.0L640.5,367.7ZM639.2,372.7L639.0,373.0L638.6,373.6L638.2,374.2L637.8,374.7L637.4,375.3L637.0,375.9L636.8,376.2L635.7,375.4L635.9,375.2L636.3,374.6L636.7,374.0L637.1,373.4L637.5,372.8L637.9,372.2L638.1,371.9ZM496.4,347.0L496.2,345.6L497.5,345.3L497.8,346.7ZM495.6,342.0L495.4,340.6L496.7,340.5L496.9,341.8ZM495.0,337.1L495.0,336.7L494.9,336.0L494.9,335.3L494.9,334.9L496.2,334.9L496.3,335.2L496.3,335.9L496.3,336.6L496.4,337.0ZM494.8,332.1L494.8,331.7L494.8,331.0L494.8,330.3L494.8,329.9L496.1,329.9L496.1,330.3L496.1,331.0L496.1,331.7L496.1,332.1ZM494.9,327.1L494.9,326.7L494.9,326.0L495.0,325.3L495.0,324.9L496.4,325.0L496.3,325.4L496.3,326.1L496.3,326.8L496.2,327.1ZM495.4,321.4L495.6,320.0L496.9,320.2L496.7,321.5ZM496.2,316.4L496.4,315.0L497.8,315.3L497.5,316.7ZM497.2,311.6L497.6,310.2L498.9,310.5L498.5,311.9ZM498.6,306.8L498.7,306.4L499.0,305.7L499.2,305.1L499.3,304.7L500.6,305.2L500.5,305.5L500.3,306.2L500.0,306.8L499.9,307.2ZM500.3,302.1L500.5,301.7L500.7,301.1L501.0,300.4L501.2,300.1L502.4,300.6L502.3,300.9L502.0,301.6L501.7,302.2L501.6,302.6ZM502.3,297.5L502.5,297.2L502.8,296.5L503.1,295.9L503.4,295.2L503.8,294.6L503.9,294.3L505.1,294.9L505.0,295.2L504.6,295.9L504.3,296.5L504.0,297.1L503.7,297.7L503.6,298.1ZM504.3,293.7L504.4,293.3L504.8,292.7L505.1,292.1L505.5,291.5L505.9,290.9L506.2,290.3L506.4,290.0L507.6,290.7L507.4,291.0L507.0,291.6L506.7,292.2L506.3,292.8L506.0,293.4L505.6,294.0L505.5,294.3ZM506.8,289.3L507.0,289.0L507.4,288.4L507.8,287.8L508.2,287.3L508.6,286.7L509.0,286.1L509.2,285.8L510.3,286.6L510.1,286.8L509.7,287.4L509.3,288.0L508.9,288.6L508.5,289.2L508.1,289.8L507.9,290.1ZM649.6,315.0L649.8,316.4L648.5,316.7L648.2,315.3ZM650.4,320.0L650.6,321.4L649.3,321.5L649.1,320.2ZM651.0,324.9L651.0,325.3L651.1,326.0L651.1,326.7L651.1,327.1L649.8,327.1L649.7,326.8L649.7,326.1L649.7,325.4L649.6,325.0ZM646.7,332.8L646.6,334.2L645.3,334.2L645.3,332.8ZM646.4,337.8L646.3,339.2L644.9,339.1L645.1,337.7ZM645.8,342.7L645.5,344.2L644.2,343.9L644.4,342.5ZM644.8,347.7L644.7,348.0L644.6,348.7L644.4,349.4L644.3,349.7L643.0,349.4L643.1,349.1L643.2,348.4L643.4,347.7L643.5,347.3ZM643.5,352.5L643.4,352.8L643.2,353.5L643.0,354.2L642.9,354.5L641.6,354.1L641.7,353.8L641.9,353.1L642.1,352.4L642.2,352.1ZM641.9,357.2L641.8,357.5L641.5,358.2L641.2,358.9L641.1,359.2L639.9,358.7L640.0,358.4L640.2,357.7L640.5,357.1L640.6,356.7ZM639.7,362.5L639.0,363.8L637.8,363.2L638.4,361.9ZM638.7,364.4L638.4,365.0L637.2,364.4L637.5,363.8ZM638.1,365.7L637.9,366.0L637.5,366.6L637.2,367.2L636.8,367.9L636.5,368.5L636.1,369.1L635.9,369.4L634.8,368.7L635.0,368.4L635.3,367.8L635.7,367.2L636.0,366.6L636.4,366.0L636.7,365.3L636.9,365.0ZM501.0,347.0L500.7,345.6L502.1,345.3L502.4,346.7ZM500.1,342.0L499.9,340.6L501.3,340.4L501.5,341.8ZM499.5,337.1L499.5,336.7L499.5,336.0L499.4,335.3L499.4,334.9L500.7,334.9L500.8,335.2L500.8,335.9L500.9,336.6L500.9,337.0ZM499.3,332.1L499.3,331.7L499.3,331.0L499.3,330.3L499.3,329.9L500.6,329.9L500.6,330.3L500.6,331.0L500.6,331.7L500.6,332.1ZM499.4,327.1L499.4,326.7L499.5,326.0L499.5,325.3L499.5,324.9L500.9,325.0L500.9,325.4L500.8,326.1L500.8,326.8L500.7,327.1ZM499.9,321.4L500.1,320.0L501.5,320.2L501.3,321.6ZM500.7,316.4L501.0,315.0L502.4,315.3L502.1,316.7ZM501.9,311.6L502.3,310.2L503.6,310.6L503.2,311.9ZM503.4,306.8L503.9,305.5L505.1,305.9L504.6,307.2ZM505.2,302.1L505.7,300.8L507.0,301.4L506.4,302.7ZM644.3,312.3L644.4,312.6L644.6,313.3L644.7,314.0L644.8,314.3L643.5,314.7L643.4,314.3L643.2,313.6L643.1,312.9L643.0,312.6ZM645.5,317.8L645.8,319.3L644.4,319.5L644.2,318.1ZM646.3,322.8L646.4,324.2L645.1,324.3L644.9,322.9ZM646.6,327.8L646.7,329.2L645.3,329.2L645.3,327.8ZM642.2,329.9L642.2,330.3L642.2,331.0L642.2,331.7L642.2,332.1L640.9,332.1L640.9,331.7L640.9,331.0L640.9,330.3L640.9,329.9ZM642.1,334.9L642.1,335.3L642.0,336.0L642.0,336.7L641.9,337.1L640.6,337.0L640.6,336.6L640.7,335.9L640.7,335.2L640.8,334.9ZM641.5,340.6L641.3,342.0L640.0,341.8L640.2,340.4ZM640.7,345.6L640.3,346.9L639.0,346.6L639.3,345.3ZM639.4,350.4L639.0,351.8L637.7,351.4L638.1,350.0ZM637.9,355.2L637.3,356.5L636.1,356.0L636.6,354.7ZM635.9,359.8L635.8,360.1L635.5,360.8L635.2,361.4L635.0,361.7L633.8,361.1L634.0,360.8L634.3,360.2L634.6,359.5L634.7,359.2ZM506.4,349.7L506.3,349.4L506.1,348.7L505.9,348.0L505.8,347.6L507.1,347.3L507.2,347.7L507.4,348.3L507.6,349.0L507.7,349.4ZM505.2,344.9L505.1,344.5L505.0,343.8L504.9,343.1L504.8,342.7L506.1,342.5L506.2,342.9L506.3,343.6L506.4,344.2L506.5,344.6ZM504.3,339.2L504.1,337.8L505.5,337.7L505.6,339.0ZM503.9,334.2L503.8,332.8L505.2,332.8L505.2,334.2ZM503.8,329.2L503.9,327.8L505.2,327.8L505.2,329.2ZM504.1,324.2L504.3,322.8L505.6,323.0L505.5,324.3ZM504.8,319.3L504.9,318.9L505.0,318.2L505.1,317.5L505.2,317.1L506.5,317.4L506.4,317.8L506.3,318.4L506.2,319.1L506.1,319.5ZM505.8,314.4L505.9,314.0L506.1,313.3L506.3,312.6L506.4,312.3L507.7,312.6L507.6,313.0L507.4,313.7L507.2,314.3L507.1,314.7ZM507.2,309.5L507.3,309.2L507.5,308.5L507.8,307.9L507.9,307.5L509.2,308.0L509.0,308.3L508.8,309.0L508.6,309.6L508.5,310.0ZM509.2,304.2L509.8,302.9L511.0,303.4L510.4,304.7ZM511.3,299.6L511.5,299.3L511.8,298.7L512.1,298.1L512.5,297.4L512.6,297.1L513.8,297.8L513.7,298.1L513.3,298.7L513.0,299.3L512.7,299.9L512.5,300.3ZM640.3,315.1L640.7,316.4L639.3,316.7L639.0,315.4ZM641.3,320.0L641.5,321.4L640.2,321.6L640.0,320.2ZM641.9,324.9L642.0,325.3L642.0,326.0L642.1,326.7L642.1,327.1L640.8,327.1L640.7,326.8L640.7,326.1L640.6,325.4L640.6,325.0ZM637.7,332.8L637.6,334.2L636.3,334.2L636.3,332.8ZM637.4,337.8L637.2,339.2L635.8,339.1L636.0,337.7ZM636.6,342.8L636.6,343.1L636.4,343.8L636.3,344.5L636.2,344.9L634.9,344.6L635.0,344.2L635.1,343.6L635.2,342.9L635.3,342.5ZM635.5,347.7L635.4,348.0L635.2,348.7L635.0,349.4L634.9,349.7L633.7,349.3L633.8,349.0L633.9,348.3L634.1,347.7L634.2,347.3ZM633.8,353.1L633.3,354.5L632.0,354.0L632.5,352.7ZM631.9,357.8L631.3,359.1L630.1,358.5L630.7,357.2ZM510.4,347.3L510.3,347.0L510.1,346.3L510.0,345.6L509.9,345.2L511.2,344.9L511.3,345.3L511.4,346.0L511.6,346.6L511.7,347.0ZM509.3,342.4L509.2,342.1L509.1,341.4L509.0,340.6L509.0,340.3L510.3,340.1L510.3,340.4L510.5,341.1L510.6,341.8L510.6,342.2ZM508.5,336.7L508.4,335.3L509.8,335.2L509.9,336.6ZM508.3,331.7L508.3,330.3L509.6,330.3L509.6,331.7ZM508.4,326.7L508.5,325.3L509.9,325.4L509.8,326.8ZM509.0,321.7L509.0,321.4L509.1,320.6L509.2,319.9L509.3,319.6L510.6,319.8L510.6,320.2L510.5,320.9L510.3,321.6L510.3,321.9ZM509.9,316.8L510.0,316.4L510.1,315.7L510.3,315.0L510.4,314.7L511.7,315.0L511.6,315.4L511.4,316.0L511.3,316.7L511.2,317.1ZM511.4,311.2L511.8,309.9L513.1,310.3L512.7,311.7ZM513.1,306.5L513.7,305.2L514.9,305.7L514.3,307.0ZM515.2,302.0L515.8,300.7L517.0,301.3L516.4,302.6ZM634.9,312.3L635.0,312.6L635.2,313.3L635.4,314.0L635.5,314.3L634.2,314.7L634.1,314.3L633.9,313.7L633.8,313.0L633.7,312.7ZM636.2,317.1L636.3,317.5L636.4,318.2L636.6,318.9L636.6,319.2L635.3,319.5L635.2,319.1L635.1,318.4L635.0,317.8L634.9,317.4ZM637.2,322.8L637.4,324.2L636.0,324.3L635.8,322.9ZM637.6,327.8L637.7,329.2L636.3,329.2L636.3,327.8ZM633.2,329.9L633.2,330.3L633.2,331.0L633.2,331.7L633.2,332.1L631.9,332.1L631.9,331.7L631.9,331.0L631.9,330.3L631.9,329.9ZM633.1,334.9L633.1,335.3L633.0,336.0L632.9,336.7L632.9,337.1L631.6,337.0L631.6,336.6L631.7,335.9L631.7,335.2L631.7,334.9ZM632.4,340.6L632.2,342.1L630.9,341.8L631.1,340.4ZM631.4,345.6L631.1,347.0L629.8,346.6L630.1,345.2ZM630.0,350.4L629.5,351.7L628.3,351.3L628.7,350.0ZM628.2,355.1L627.6,356.4L626.4,355.8L627.0,354.5ZM626.0,359.6L625.3,360.8L624.1,360.2L624.8,359.0ZM515.0,347.3L514.9,347.0L514.8,346.3L514.6,345.6L514.5,345.2L515.8,344.9L515.9,345.2L516.1,345.9L516.2,346.6L516.3,346.9ZM513.7,341.7L513.5,340.3L514.8,340.1L515.1,341.5ZM513.1,336.7L512.9,335.3L514.3,335.2L514.4,336.6ZM512.8,331.7L512.8,330.3L514.1,330.3L514.1,331.7ZM512.9,326.7L513.1,325.3L514.4,325.4L514.3,326.8ZM513.5,321.7L513.7,320.3L515.1,320.5L514.8,321.9ZM514.5,316.8L514.6,316.4L514.8,315.7L514.9,315.0L515.0,314.7L516.3,315.1L516.2,315.4L516.1,316.1L515.9,316.8L515.8,317.1ZM515.9,312.0L516.0,311.6L516.2,310.9L516.5,310.3L516.6,309.9L517.9,310.4L517.7,310.7L517.5,311.4L517.3,312.0L517.2,312.4ZM517.7,307.3L517.8,306.9L518.1,306.3L518.4,305.6L518.6,305.3L519.8,305.9L519.6,306.2L519.3,306.8L519.0,307.5L518.9,307.8ZM520.2,302.1L520.9,300.8L522.1,301.5L521.4,302.7ZM631.1,315.0L631.4,316.4L630.1,316.8L629.8,315.4ZM632.2,319.9L632.4,321.4L631.1,321.6L630.9,320.2ZM632.9,324.9L632.9,325.3L633.0,326.0L633.1,326.7L633.1,327.1L631.7,327.1L631.7,326.8L631.7,326.1L631.6,325.4L631.6,325.0ZM628.7,332.8L628.6,334.2L627.3,334.2L627.3,332.8ZM628.3,337.8L628.1,339.3L626.8,339.1L627.0,337.7ZM627.4,342.8L627.4,343.1L627.2,343.8L627.0,344.5L627.0,344.9L625.6,344.6L625.7,344.2L625.9,343.5L626.1,342.9L626.1,342.5ZM626.2,347.7L626.1,348.0L625.8,348.7L625.6,349.4L625.5,349.7L624.2,349.3L624.3,348.9L624.5,348.3L624.8,347.6L624.9,347.3ZM624.4,352.4L624.3,352.7L624.0,353.4L623.7,354.1L623.6,354.4L622.3,353.8L622.5,353.5L622.8,352.9L623.1,352.2L623.2,351.9ZM622.0,357.6L621.2,358.9L620.1,358.2L620.8,357.0ZM520.5,349.7L520.4,349.4L520.2,348.7L519.9,348.0L519.8,347.7L521.1,347.3L521.2,347.6L521.5,348.3L521.7,348.9L521.8,349.3ZM519.0,344.9L519.0,344.5L518.8,343.8L518.6,343.1L518.6,342.8L519.9,342.5L519.9,342.9L520.1,343.5L520.3,344.2L520.4,344.6ZM517.9,339.3L517.7,337.8L519.0,337.7L519.2,339.1ZM517.4,334.2L517.3,332.8L518.7,332.8L518.7,334.2ZM517.3,329.2L517.4,327.8L518.7,327.8L518.7,329.2ZM517.7,324.2L517.9,322.7L519.2,322.9L519.0,324.3ZM518.6,319.2L518.6,318.9L518.8,318.2L519.0,317.5L519.0,317.1L520.4,317.4L520.3,317.8L520.1,318.5L519.9,319.1L519.9,319.5ZM519.8,314.3L519.9,314.0L520.2,313.3L520.4,312.6L520.5,312.3L521.8,312.7L521.7,313.1L521.5,313.7L521.2,314.4L521.1,314.7ZM521.6,309.6L521.7,309.3L522.0,308.6L522.3,307.9L522.4,307.6L523.7,308.2L523.5,308.5L523.2,309.1L522.9,309.8L522.8,310.1ZM524.0,304.4L524.8,303.1L525.9,303.8L525.2,305.0ZM625.5,312.3L625.6,312.6L625.8,313.3L626.1,314.0L626.2,314.3L624.9,314.7L624.8,314.4L624.5,313.7L624.3,313.1L624.2,312.7ZM627.0,317.1L627.0,317.5L627.2,318.2L627.4,318.9L627.4,319.2L626.1,319.5L626.1,319.1L625.9,318.5L625.7,317.8L625.6,317.4ZM628.1,322.7L628.3,324.2L627.0,324.3L626.8,322.9ZM628.6,327.8L628.7,329.2L627.3,329.2L627.3,327.8ZM624.2,329.9L624.2,330.3L624.2,331.0L624.2,331.7L624.2,332.1L622.9,332.1L622.9,331.7L622.9,331.0L622.9,330.3L622.9,329.9ZM624.1,335.0L624.0,335.3L624.0,336.0L623.9,336.8L623.8,337.1L622.5,337.0L622.5,336.6L622.6,335.9L622.7,335.2L622.7,334.9ZM623.4,340.0L623.4,340.3L623.2,341.0L623.1,341.7L623.0,342.1L621.7,341.8L621.8,341.5L621.9,340.8L622.0,340.1L622.1,339.7ZM622.1,345.6L621.7,347.0L620.4,346.5L620.8,345.2ZM620.4,350.3L619.9,351.7L618.6,351.1L619.2,349.8ZM618.3,354.9L617.6,356.2L616.4,355.5L617.1,354.3ZM615.7,359.3L614.9,360.5L613.8,359.7L614.6,358.5ZM525.1,349.0L524.6,347.6L525.8,347.2L526.3,348.5ZM523.5,344.2L523.2,342.8L524.5,342.5L524.8,343.8ZM522.5,339.3L522.2,337.8L523.6,337.7L523.8,339.0ZM521.9,334.2L521.8,332.8L523.2,332.8L523.2,334.2ZM521.8,329.2L521.9,327.8L523.2,327.8L523.2,329.2ZM522.2,324.2L522.5,322.7L523.8,323.0L523.6,324.3ZM523.2,319.2L523.5,317.8L524.8,318.2L524.5,319.5ZM524.6,314.4L525.1,313.0L526.3,313.5L525.8,314.8ZM526.4,309.7L526.6,309.3L526.9,308.7L527.2,308.0L527.4,307.7L528.6,308.3L528.4,308.6L528.1,309.3L527.8,309.9L527.7,310.2ZM528.8,305.2L529.0,304.9L529.3,304.3L529.7,303.6L529.9,303.3L531.0,304.1L530.8,304.4L530.5,305.0L530.1,305.6L529.9,305.9ZM621.7,315.0L622.1,316.4L620.8,316.8L620.4,315.5ZM623.0,319.9L623.1,320.3L623.2,321.0L623.4,321.7L623.4,322.0L622.1,322.3L622.0,321.9L621.9,321.2L621.8,320.5L621.7,320.2ZM623.8,324.9L623.9,325.2L624.0,326.0L624.0,326.7L624.1,327.0L622.7,327.1L622.7,326.8L622.6,326.1L622.5,325.4L622.5,325.0ZM619.7,332.8L619.6,334.3L618.3,334.2L618.3,332.8ZM619.2,337.8L619.0,339.3L617.6,339.0L617.9,337.6ZM618.2,342.8L617.8,344.2L616.5,343.8L616.9,342.5ZM616.7,347.6L616.5,348.0L616.3,348.6L616.0,349.3L615.8,349.6L614.6,349.1L614.7,348.8L615.0,348.1L615.3,347.5L615.4,347.1ZM614.6,352.2L614.4,352.6L614.1,353.2L613.8,353.8L613.6,354.1L612.4,353.5L612.6,353.2L612.9,352.6L613.2,351.9L613.4,351.6ZM612.1,356.6L611.9,356.9L611.5,357.5L611.0,358.1L610.8,358.4L609.7,357.6L609.9,357.3L610.3,356.7L610.7,356.2L610.9,355.9ZM529.1,346.9L528.6,345.6L529.9,345.2L530.4,346.5ZM527.6,342.1L527.3,340.7L528.6,340.4L528.9,341.8ZM526.7,337.1L526.6,336.8L526.6,336.1L526.5,335.3L526.5,335.0L527.8,334.9L527.8,335.2L527.9,335.9L528.0,336.6L528.0,336.9ZM526.3,332.1L526.3,331.7L526.3,331.0L526.3,330.3L526.3,329.9L527.6,329.9L527.6,330.3L527.6,331.0L527.6,331.7L527.6,332.1ZM526.5,327.0L526.5,326.7L526.6,325.9L526.6,325.2L526.7,324.9L528.0,325.1L528.0,325.4L527.9,326.1L527.8,326.8L527.8,327.1ZM527.3,321.3L527.6,319.9L528.9,320.2L528.6,321.6ZM528.6,316.4L529.1,315.1L530.4,315.5L529.9,316.8ZM530.5,311.7L531.1,310.4L532.3,311.0L531.7,312.3ZM532.8,307.2L533.5,306.0L534.7,306.7L534.0,307.9ZM535.6,303.0L536.5,301.9L537.5,302.7L536.7,303.8ZM615.8,312.4L616.0,312.7L616.3,313.4L616.5,314.0L616.7,314.4L615.4,314.9L615.3,314.5L615.0,313.9L614.7,313.2L614.6,312.9ZM617.8,317.8L618.2,319.2L616.9,319.5L616.5,318.2ZM619.0,322.7L619.2,324.2L617.9,324.4L617.6,323.0ZM619.6,327.7L619.7,329.2L618.3,329.2L618.3,327.8ZM615.2,329.9L615.2,330.3L615.2,331.0L615.2,331.7L615.2,332.1L613.8,332.1L613.9,331.7L613.9,331.0L613.9,330.3L613.8,329.9ZM615.0,335.0L615.0,335.4L614.9,336.1L614.8,336.8L614.8,337.2L613.4,337.0L613.5,336.6L613.6,335.9L613.6,335.2L613.7,334.9ZM614.1,340.7L613.7,342.1L612.4,341.8L612.8,340.4ZM612.6,345.6L612.1,346.9L610.8,346.4L611.3,345.1ZM610.6,350.2L609.9,351.5L608.7,350.9L609.4,349.6ZM608.0,354.6L607.2,355.8L606.1,355.0L606.9,353.9ZM604.9,358.7L604.7,358.9L604.2,359.5L603.7,360.0L603.4,360.3L602.4,359.3L602.7,359.1L603.2,358.6L603.6,358.0L603.9,357.8ZM534.9,349.3L534.3,347.9L535.6,347.4L536.2,348.7ZM533.0,344.6L532.6,343.2L533.9,342.8L534.3,344.1ZM531.7,339.7L531.4,338.2L532.7,338.0L533.0,339.4ZM530.9,334.6L530.9,334.3L530.9,333.5L530.8,332.8L530.8,332.5L532.2,332.4L532.2,332.8L532.2,333.5L532.3,334.2L532.3,334.5ZM530.8,329.5L530.8,329.2L530.9,328.5L530.9,327.7L530.9,327.4L532.3,327.5L532.3,327.8L532.2,328.5L532.2,329.2L532.2,329.6ZM531.4,323.8L531.7,322.3L533.0,322.6L532.7,324.0ZM532.6,318.8L533.0,317.4L534.3,317.9L533.9,319.2ZM534.3,314.1L534.9,312.7L536.2,313.3L535.6,314.6ZM536.7,309.5L537.4,308.3L538.6,309.0L537.8,310.2ZM539.5,305.3L539.7,305.0L540.2,304.5L540.6,303.9L540.9,303.6L541.9,304.5L541.7,304.8L541.2,305.3L540.8,305.9L540.6,306.1ZM612.1,315.1L612.6,316.4L611.3,316.9L610.8,315.6ZM613.7,319.9L614.1,321.3L612.8,321.6L612.4,320.2ZM614.8,324.8L614.8,325.2L614.9,325.9L615.0,326.6L615.0,327.0L613.7,327.1L613.6,326.8L613.6,326.1L613.5,325.4L613.4,325.0ZM610.7,332.8L610.6,334.3L609.2,334.2L609.3,332.8ZM610.1,337.9L609.8,339.3L608.5,339.0L608.8,337.6ZM608.8,342.8L608.3,344.2L607.1,343.7L607.5,342.4ZM606.9,347.6L606.2,348.8L605.0,348.2L605.7,347.0ZM604.3,352.0L603.5,353.2L602.4,352.4L603.2,351.2ZM601.2,356.0L601.0,356.3L600.5,356.8L600.0,357.3L599.7,357.6L598.8,356.6L599.0,356.4L599.5,355.9L600.0,355.4L600.2,355.1ZM540.0,349.2L539.3,347.9L540.5,347.3L541.1,348.5ZM537.8,344.5L537.7,344.2L537.4,343.5L537.2,342.8L537.1,342.5L538.4,342.1L538.5,342.4L538.7,343.1L538.9,343.7L539.1,344.1ZM536.3,339.7L536.2,339.3L536.1,338.6L535.9,337.9L535.9,337.5L537.2,337.3L537.2,337.6L537.4,338.3L537.5,339.0L537.6,339.4ZM535.5,334.6L535.4,334.3L535.4,333.5L535.3,332.8L535.3,332.5L536.7,332.4L536.7,332.8L536.7,333.5L536.8,334.2L536.8,334.5ZM535.3,329.5L535.3,329.2L535.4,328.5L535.4,327.7L535.5,327.4L536.8,327.5L536.8,327.8L536.7,328.5L536.7,329.2L536.7,329.6ZM535.9,324.5L535.9,324.1L536.1,323.4L536.2,322.7L536.3,322.3L537.6,322.6L537.5,323.0L537.4,323.7L537.2,324.4L537.2,324.7ZM537.1,319.5L537.2,319.2L537.4,318.5L537.7,317.8L537.8,317.5L539.1,317.9L538.9,318.3L538.7,318.9L538.5,319.6L538.4,319.9ZM539.3,314.1L540.0,312.8L541.1,313.5L540.5,314.7ZM541.9,309.7L542.7,308.5L543.8,309.3L543.0,310.5ZM545.0,305.7L546.0,304.7L547.0,305.6L546.0,306.6ZM606.2,313.2L606.9,314.4L605.7,315.0L605.0,313.8ZM608.3,317.8L608.8,319.2L607.5,319.6L607.1,318.3ZM609.8,322.7L610.1,324.1L608.8,324.4L608.5,323.0ZM610.6,327.7L610.7,329.2L609.3,329.2L609.2,327.8ZM606.2,329.9L606.2,330.3L606.2,331.0L606.2,331.7L606.2,332.1L604.8,332.1L604.9,331.7L604.9,331.0L604.9,330.3L604.8,329.9ZM606.0,335.0L605.9,335.4L605.8,336.1L605.7,336.8L605.6,337.2L604.3,337.0L604.4,336.6L604.5,335.9L604.6,335.2L604.6,334.9ZM604.7,340.8L604.3,342.2L603.0,341.7L603.5,340.4ZM602.9,345.6L602.2,346.9L601.0,346.2L601.6,345.0ZM600.3,350.0L599.4,351.2L598.3,350.4L599.1,349.2ZM597.0,354.0L596.0,355.0L595.0,354.0L596.0,353.0ZM593.2,357.4L592.0,358.3L591.2,357.1L592.4,356.3ZM543.8,346.9L543.1,345.6L544.4,345.0L545.0,346.2ZM541.7,342.2L541.3,340.8L542.5,340.4L543.0,341.7ZM540.4,337.2L540.3,336.8L540.2,336.1L540.1,335.4L540.0,335.0L541.4,334.9L541.4,335.2L541.5,335.9L541.6,336.6L541.7,337.0ZM539.8,332.1L539.8,331.7L539.8,331.0L539.8,330.3L539.8,329.9L541.2,329.9L541.1,330.3L541.1,331.0L541.1,331.7L541.2,332.1ZM540.0,327.0L540.1,326.6L540.2,325.9L540.3,325.2L540.4,324.8L541.7,325.0L541.6,325.4L541.5,326.1L541.4,326.8L541.4,327.1ZM541.3,321.2L541.7,319.8L543.0,320.3L542.5,321.6ZM543.1,316.4L543.8,315.1L545.0,315.8L544.4,317.0ZM545.7,312.0L546.6,310.8L547.7,311.6L546.9,312.8ZM549.0,308.0L550.0,307.0L551.0,308.0L550.0,309.0ZM552.8,304.6L554.0,303.7L554.8,304.9L553.6,305.7ZM602.2,315.1L602.9,316.4L601.6,317.0L601.0,315.8ZM604.3,319.8L604.7,321.2L603.5,321.6L603.0,320.3ZM605.6,324.8L605.7,325.2L605.8,325.9L605.9,326.6L606.0,327.0L604.6,327.1L604.6,326.8L604.5,326.1L604.4,325.4L604.3,325.0ZM601.7,332.8L601.5,334.3L600.2,334.2L600.3,332.8ZM600.9,338.0L600.5,339.4L599.2,339.0L599.5,337.6ZM599.2,342.8L599.0,343.2L598.7,343.8L598.3,344.5L598.2,344.8L597.0,344.2L597.2,343.9L597.5,343.2L597.8,342.6L597.9,342.3ZM596.6,347.3L596.4,347.6L596.0,348.2L595.5,348.8L595.3,349.1L594.2,348.3L594.5,348.0L594.9,347.4L595.3,346.9L595.5,346.6ZM592.8,351.8L591.7,352.8L590.8,351.8L591.8,350.8ZM588.7,355.0L587.5,355.8L586.8,354.6L588.0,353.9ZM584.2,357.5L582.8,358.0L582.3,356.7L583.6,356.2ZM550.7,349.1L550.5,348.8L550.0,348.2L549.6,347.6L549.4,347.3L550.5,346.6L550.7,346.9L551.1,347.4L551.5,348.0L551.8,348.3ZM547.8,344.8L547.7,344.5L547.3,343.8L547.0,343.2L546.8,342.8L548.1,342.3L548.2,342.6L548.5,343.2L548.8,343.9L549.0,344.2ZM545.5,339.4L545.1,338.0L546.5,337.6L546.8,339.0ZM544.5,334.3L544.3,332.8L545.7,332.8L545.8,334.2ZM544.3,329.2L544.5,327.7L545.8,327.8L545.7,329.2ZM545.1,324.0L545.5,322.6L546.8,323.0L546.5,324.4ZM546.8,319.2L547.0,318.8L547.3,318.2L547.7,317.5L547.8,317.2L549.0,317.8L548.8,318.1L548.5,318.8L548.2,319.4L548.1,319.7ZM549.4,314.7L549.6,314.4L550.0,313.8L550.5,313.2L550.7,312.9L551.8,313.7L551.5,314.0L551.1,314.6L550.7,315.1L550.5,315.4ZM553.2,310.2L554.3,309.2L555.2,310.2L554.2,311.2ZM557.3,307.0L558.5,306.2L559.2,307.4L558.0,308.1ZM561.8,304.5L563.2,304.0L563.7,305.3L562.4,305.8ZM595.3,312.9L595.5,313.2L596.0,313.8L596.4,314.4L596.6,314.7L595.5,315.4L595.3,315.1L594.9,314.6L594.5,314.0L594.2,313.7ZM598.2,317.2L598.3,317.5L598.7,318.2L599.0,318.8L599.2,319.2L597.9,319.7L597.8,319.4L597.5,318.8L597.2,318.1L597.0,317.8ZM600.5,322.6L600.9,324.0L599.5,324.4L599.2,323.0ZM601.5,327.7L601.7,329.2L600.3,329.2L600.2,327.8ZM597.2,329.9L597.2,330.3L597.2,331.0L597.2,331.7L597.2,332.1L595.8,332.1L595.9,331.7L595.9,331.0L595.9,330.3L595.8,329.9ZM596.9,335.1L596.8,335.4L596.7,336.2L596.5,336.9L596.4,337.3L595.1,336.9L595.2,336.6L595.3,335.9L595.5,335.2L595.5,334.9ZM595.4,340.1L595.3,340.4L595.0,341.1L594.7,341.8L594.5,342.1L593.3,341.5L593.5,341.2L593.8,340.6L594.1,339.9L594.2,339.6ZM593.0,344.7L592.8,345.0L592.3,345.6L591.9,346.2L591.6,346.5L590.6,345.6L590.8,345.3L591.2,344.8L591.7,344.2L591.9,343.9ZM589.6,348.6L589.3,348.9L588.8,349.4L588.2,349.9L587.9,350.1L587.1,349.0L587.3,348.8L587.9,348.4L588.4,347.9L588.7,347.7ZM585.4,351.8L585.1,352.0L584.5,352.3L583.8,352.7L583.5,352.8L582.9,351.6L583.2,351.5L583.8,351.1L584.4,350.8L584.7,350.6ZM580.0,354.2L578.5,354.6L578.2,353.3L579.6,352.9ZM574.9,355.1L573.4,355.2L573.4,353.9L574.8,353.8ZM569.7,355.0L568.2,354.7L568.5,353.4L569.8,353.6ZM564.6,353.7L563.2,353.1L563.8,351.9L565.1,352.4ZM559.9,351.4L558.7,350.5L559.5,349.5L560.7,350.3ZM555.9,348.1L554.9,347.0L555.9,346.1L556.8,347.2ZM552.6,344.1L551.8,342.8L553.0,342.1L553.7,343.3ZM550.3,339.4L549.8,338.0L551.1,337.6L551.6,338.9ZM549.0,334.3L548.9,332.9L550.2,332.8L550.4,334.2ZM548.9,329.1L549.0,327.7L550.4,327.8L550.2,329.2ZM549.8,324.0L550.3,322.6L551.6,323.1L551.1,324.4ZM551.8,319.2L552.6,317.9L553.7,318.7L553.0,319.9ZM554.9,315.0L555.9,313.9L556.8,314.8L555.9,315.9ZM558.7,311.5L559.9,310.6L560.7,311.7L559.5,312.5ZM563.2,308.9L564.6,308.3L565.1,309.6L563.8,310.1ZM568.2,307.3L569.7,307.0L569.8,308.4L568.5,308.6ZM573.4,306.8L574.9,306.9L574.8,308.2L573.4,308.1ZM578.5,307.4L580.0,307.8L579.6,309.1L578.2,308.7ZM587.9,311.9L588.2,312.1L588.8,312.6L589.3,313.1L589.6,313.4L588.7,314.3L588.4,314.1L587.9,313.6L587.3,313.2L587.1,313.0ZM591.6,315.5L591.9,315.8L592.3,316.4L592.8,317.0L593.0,317.3L591.9,318.1L591.7,317.8L591.2,317.2L590.8,316.7L590.6,316.4ZM594.5,319.9L594.7,320.2L595.0,320.9L595.3,321.6L595.4,321.9L594.2,322.4L594.1,322.1L593.8,321.4L593.5,320.8L593.3,320.5ZM596.4,324.7L596.5,325.1L596.7,325.8L596.8,326.6L596.9,326.9L595.5,327.1L595.5,326.8L595.3,326.1L595.2,325.4L595.1,325.1ZM592.6,332.9L592.4,334.4L591.1,334.2L591.3,332.8ZM591.4,338.1L590.8,339.5L589.6,338.9L590.1,337.6ZM588.9,342.7L587.9,343.9L586.9,343.0L587.8,341.9ZM585.2,346.5L583.9,347.4L583.2,346.3L584.3,345.5ZM580.6,349.2L580.2,349.3L579.5,349.6L578.8,349.8L578.4,349.9L578.1,348.7L578.4,348.5L579.1,348.3L579.7,348.1L580.1,347.9ZM575.5,350.6L575.1,350.6L574.3,350.7L573.6,350.7L573.2,350.7L573.2,349.4L573.5,349.4L574.2,349.3L574.9,349.3L575.3,349.2ZM570.2,350.5L569.8,350.4L569.0,350.3L568.3,350.1L567.9,350.0L568.3,348.7L568.6,348.8L569.3,349.0L570.0,349.1L570.4,349.2ZM565.1,349.0L564.7,348.9L564.0,348.6L563.4,348.2L563.0,348.0L563.7,346.8L564.0,347.0L564.6,347.4L565.3,347.7L565.6,347.8ZM560.0,345.8L558.9,344.7L559.8,343.8L560.9,344.8ZM556.5,341.8L555.7,340.5L556.9,339.8L557.6,341.0ZM554.2,337.0L553.8,335.5L555.1,335.2L555.5,336.6ZM553.3,331.8L553.3,330.2L554.7,330.3L554.7,331.7ZM553.8,326.5L554.2,325.0L555.5,325.4L555.1,326.8ZM555.7,321.5L556.5,320.2L557.6,321.0L556.9,322.2ZM558.9,317.3L560.0,316.2L560.9,317.2L559.8,318.2ZM563.0,314.0L563.4,313.8L564.0,313.4L564.7,313.1L565.1,313.0L565.6,314.2L565.3,314.3L564.6,314.6L564.0,315.0L563.7,315.2ZM567.9,312.0L568.3,311.9L569.0,311.7L569.8,311.6L570.2,311.5L570.4,312.8L570.0,312.9L569.3,313.0L568.6,313.2L568.3,313.3ZM573.2,311.3L573.6,311.3L574.3,311.3L575.1,311.4L575.5,311.4L575.3,312.8L574.9,312.7L574.2,312.7L573.5,312.6L573.2,312.6ZM578.4,312.1L578.8,312.2L579.5,312.4L580.2,312.7L580.6,312.8L580.1,314.1L579.7,313.9L579.1,313.7L578.4,313.5L578.1,313.3ZM583.9,314.6L585.2,315.5L584.3,316.5L583.2,315.7ZM587.9,318.1L588.9,319.3L587.8,320.1L586.9,319.0ZM590.8,322.5L591.4,323.9L590.1,324.4L589.6,323.1ZM592.4,327.6L592.6,329.1L591.3,329.2L591.1,327.8ZM588.2,329.8L588.2,330.2L588.2,331.0L588.2,331.8L588.2,332.2L586.8,332.1L586.8,331.7L586.9,331.0L586.8,330.3L586.8,329.9ZM587.4,336.0L586.8,337.4L585.6,336.8L586.1,335.5ZM584.7,340.7L583.7,341.8L582.7,340.9L583.7,339.8ZM580.6,344.2L579.2,344.9L578.7,343.6L579.9,343.0ZM575.5,346.0L575.1,346.1L574.4,346.2L573.6,346.2L573.2,346.2L573.2,344.9L573.5,344.9L574.2,344.8L574.9,344.7L575.3,344.7ZM570.1,345.9L569.7,345.9L569.0,345.7L568.2,345.4L567.9,345.3L568.3,344.0L568.6,344.2L569.3,344.4L570.0,344.5L570.4,344.6ZM564.4,343.6L563.2,342.6L564.0,341.6L565.2,342.4ZM560.6,339.8L559.7,338.4L560.9,337.8L561.7,339.0ZM558.3,334.8L558.2,334.5L558.0,333.7L557.9,332.9L557.9,332.6L559.2,332.4L559.3,332.8L559.4,333.5L559.5,334.2L559.6,334.5ZM557.9,329.4L557.9,329.1L558.0,328.3L558.2,327.5L558.3,327.2L559.6,327.5L559.5,327.8L559.4,328.5L559.3,329.2L559.2,329.6ZM559.7,323.6L560.6,322.2L561.7,323.0L560.9,324.2ZM563.2,319.4L564.4,318.4L565.2,319.6L564.0,320.4ZM567.9,316.7L568.2,316.6L569.0,316.3L569.7,316.1L570.1,316.1L570.4,317.4L570.0,317.5L569.3,317.6L568.6,317.8L568.3,318.0ZM573.2,315.8L573.6,315.8L574.4,315.8L575.1,315.9L575.5,316.0L575.3,317.3L574.9,317.3L574.2,317.2L573.5,317.1L573.2,317.1ZM579.2,317.1L580.6,317.8L579.9,319.0L578.7,318.4ZM583.7,320.2L584.7,321.3L583.7,322.2L582.7,321.1ZM586.8,324.6L587.4,326.0L586.1,326.5L585.6,325.2ZM583.5,333.0L583.1,334.6L581.8,334.1L582.2,332.8ZM581.1,338.1L579.9,339.2L579.0,338.2L580.0,337.2ZM576.4,341.2L574.8,341.6L574.6,340.2L576.0,339.9ZM570.8,341.5L569.2,341.0L569.7,339.8L571.1,340.2ZM566.4,339.4L566.1,339.2L565.5,338.6L564.9,338.1L564.7,337.7L565.7,336.9L566.0,337.2L566.4,337.7L567.0,338.2L567.2,338.4ZM563.0,335.0L562.9,334.6L562.7,333.8L562.5,333.0L562.4,332.6L563.7,332.4L563.8,332.8L564.0,333.5L564.2,334.1L564.3,334.5ZM562.4,329.4L562.5,329.0L562.7,328.2L562.9,327.4L563.0,327.0L564.3,327.5L564.2,327.9L564.0,328.5L563.8,329.2L563.7,329.6ZM564.7,324.3L564.9,323.9L565.5,323.4L566.1,322.8L566.4,322.6L567.2,323.6L567.0,323.8L566.4,324.3L566.0,324.8L565.7,325.1ZM569.2,321.0L570.8,320.5L571.1,321.8L569.7,322.2ZM574.8,320.4L576.4,320.8L576.0,322.1L574.6,321.8ZM579.9,322.8L581.1,323.9L580.0,324.8L579.0,323.8ZM583.1,327.4L583.5,329.0L582.2,329.2L581.8,327.9ZM579.1,329.6L579.1,330.1L579.2,331.0L579.1,331.9L579.1,332.4L577.7,332.1L577.8,331.7L577.9,331.0L577.8,330.3L577.7,329.9ZM577.2,335.6L576.9,335.9L576.1,336.4L575.3,336.8L574.8,336.9L574.4,335.6L574.8,335.5L575.4,335.2L576.0,334.8L576.3,334.6ZM571.2,336.9L570.7,336.8L569.9,336.4L569.1,335.9L568.8,335.6L569.7,334.6L570.0,334.8L570.6,335.2L571.2,335.5L571.6,335.6ZM566.9,332.4L566.9,331.9L566.8,331.0L566.9,330.1L566.9,329.6L568.3,329.9L568.2,330.3L568.1,331.0L568.2,331.7L568.3,332.1ZM568.8,326.4L569.1,326.1L569.9,325.6L570.7,325.2L571.2,325.1L571.6,326.4L571.2,326.5L570.6,326.8L570.0,327.2L569.7,327.4ZM574.8,325.1L575.3,325.2L576.1,325.6L576.9,326.1L577.2,326.4L576.3,327.4L576.0,327.2L575.4,326.8L574.8,326.5L574.4,326.4ZM574.4,332.0L573.3,332.7L573.1,331.4L573.3,331.2ZM571.3,331.3L571.3,330.7L572.6,330.9L572.6,331.1ZM573.3,329.3L574.4,330.0L573.3,330.8L573.1,330.6Z"/><rect x="583" y="304" width="80" height="7.5" fill="#fff"/><rect x="483" y="350.5" width="80" height="7.5" fill="#fff"/>
<text transform="translate(478.33,474.30) scale(0.9909,1)" font-family="Liberation Sans" font-weight="normal" font-size="43.82" xml:space="preserve" stroke="#000" stroke-width="0.9">S</text>
<text transform="translate(508.78,474.30) scale(1.0179,1)" font-family="Liberation Sans" font-weight="normal" font-size="44.48" xml:space="preserve" stroke="#000" stroke-width="0.9">T</text>
<text transform="translate(548.41,474.30) scale(0.9841,1)" font-family="Liberation Sans" font-weight="normal" font-size="44.48" xml:space="preserve" stroke="#000" stroke-width="0.9">L</text>
<text transform="translate(575.42,474.30) scale(0.9858,1)" font-family="Liberation Sans" font-weight="normal" font-size="44.48" xml:space="preserve" stroke="#000" stroke-width="0.9">U</text>
<text transform="translate(610.26,474.30) scale(0.9152,1)" font-family="Liberation Sans" font-weight="normal" font-size="43.82" xml:space="preserve" stroke="#000" stroke-width="0.9">C</text>
<text transform="translate(643.26,474.30) scale(0.8338,1)" font-family="Liberation Sans" font-weight="normal" font-size="44.48" xml:space="preserve" stroke="#000" stroke-width="0.9">E</text>
<text transform="translate(759.78,177.40) scale(0.7951,1)" font-family="Liberation Serif" font-weight="bold" font-size="52.41" xml:space="preserve" >SL</text>
<text transform="translate(833.95,177.40) scale(0.9177,1)" font-family="Liberation Serif" font-weight="bold" font-size="52.41" xml:space="preserve" >116.</text>
<text transform="translate(930.05,177.40) scale(0.9318,1)" font-family="Liberation Serif" font-weight="bold" font-size="52.18" xml:space="preserve" >502.</text>
<text transform="translate(1026.20,177.40) scale(0.9055,1)" font-family="Liberation Serif" font-weight="bold" font-size="52.18" xml:space="preserve" >01</text>
<text transform="translate(1000.91,463.60) scale(0.9241,1)" font-family="Liberation Serif" font-weight="bold" font-size="48.42" xml:space="preserve" stroke="#000" stroke-width="0.7">8</text>
<text transform="translate(1022.62,463.60) scale(0.7059,1)" font-family="Liberation Serif" font-weight="bold" font-size="48.63" xml:space="preserve" stroke="#000" stroke-width="0.7">C</text>
<text transform="translate(1045.16,463.60) scale(0.5254,1)" font-family="Liberation Serif" font-weight="bold" font-size="49.18" xml:space="preserve" stroke="#000" stroke-width="0.7">M</text>
<line x1="974.0" y1="446.5" x2="1004.0" y2="446.5" stroke="#000" stroke-width="2.00" />
<line x1="1066.0" y1="446.5" x2="1097.0" y2="446.5" stroke="#000" stroke-width="2.00" />
<path d="M975.0,446.5 L987.0,443.5 L987.0,449.5 Z" fill="#000" />
<path d="M1096.0,446.5 L1084.0,449.5 L1084.0,443.5 Z" fill="#000" />
<line x1="974.4" y1="444.0" x2="974.4" y2="465.0" stroke="#000" stroke-width="2.00" />
<line x1="1097.0" y1="444.0" x2="1097.0" y2="465.0" stroke="#000" stroke-width="2.00" />
<path d="M968.2,506 L968.2,485.5 Q970.6,483.5 968.2,481.5 Q970.6,479.5 968.2,477.5 Q970.6,475.5 968.2,473.5 Q970.6,471.5 968.2,469.5 L968.5,470 Q969.7,464.3 974.5,464.3 Q979.3,464.3 980.5,470 L980.8,469.5 Q978.4,471.5 980.8,473.5 Q978.4,475.5 980.8,477.5 Q978.4,479.5 980.8,481.5 Q978.4,483.5 980.8,485.5 L980.8,506 Q979.8,511.5 974.5,511.5 Q969.2,511.5 968.2,506 Z" stroke="#000" stroke-width="2.00" fill="#fff" stroke-linejoin="round" stroke-linecap="round" /><line x1="974.5" y1="455.0" x2="974.5" y2="489.5" stroke="#000" stroke-width="2.80" stroke-linecap="butt"/>
<path d="M1091.0,506 L1091.0,485.5 Q1093.4,483.5 1091.0,481.5 Q1093.4,479.5 1091.0,477.5 Q1093.4,475.5 1091.0,473.5 Q1093.4,471.5 1091.0,469.5 L1091.3,470 Q1092.5,464.3 1097.3,464.3 Q1102.1,464.3 1103.3,470 L1103.6,469.5 Q1101.2,471.5 1103.6,473.5 Q1101.2,475.5 1103.6,477.5 Q1101.2,479.5 1103.6,481.5 Q1101.2,483.5 1103.6,485.5 L1103.6,506 Q1102.6,511.5 1097.3,511.5 Q1092.0,511.5 1091.0,506 Z" stroke="#000" stroke-width="2.00" fill="#fff" stroke-linejoin="round" stroke-linecap="round" /><line x1="1097.3" y1="455.0" x2="1097.3" y2="489.5" stroke="#000" stroke-width="2.80" stroke-linecap="butt"/>
<text transform="translate(962.78,551.20) scale(0.7813,1)" font-family="Liberation Serif" font-weight="bold" font-size="48.32" xml:space="preserve" stroke="#000" stroke-width="0.7">1</text>
<text transform="translate(985.20,551.20) scale(0.7757,1)" font-family="Liberation Serif" font-weight="bold" font-size="48.32" xml:space="preserve" stroke="#000" stroke-width="0.7">1</text>
<text transform="translate(1006.33,551.20) scale(0.9541,1)" font-family="Liberation Serif" font-weight="bold" font-size="44.61" xml:space="preserve" stroke="#000" stroke-width="0.7">.</text>
<text transform="translate(1028.94,551.20) scale(0.8485,1)" font-family="Liberation Serif" font-weight="bold" font-size="48.72" xml:space="preserve" stroke="#000" stroke-width="0.7">5</text>
<text transform="translate(1049.83,551.20) scale(0.7090,1)" font-family="Liberation Serif" font-weight="bold" font-size="48.18" xml:space="preserve" stroke="#000" stroke-width="0.7">C</text>
<text transform="translate(1072.08,551.20) scale(0.5075,1)" font-family="Liberation Serif" font-weight="bold" font-size="48.72" xml:space="preserve" stroke="#000" stroke-width="0.7">M</text>
<line x1="949.6" y1="534.0" x2="949.6" y2="569.0" stroke="#000" stroke-width="2.00" />
<line x1="1120.2" y1="535.0" x2="1120.2" y2="568.0" stroke="#000" stroke-width="2.00" />
<line x1="950.0" y1="545.3" x2="972.0" y2="545.3" stroke="#000" stroke-width="2.00" />
<line x1="1090.0" y1="545.3" x2="1120.0" y2="545.3" stroke="#000" stroke-width="2.00" />
<path d="M950.5,545.3 L962.5,542.3 L962.5,548.3 Z" fill="#000" />
<path d="M1119.5,545.3 L1107.5,548.3 L1107.5,542.3 Z" fill="#000" />
<path d="M950.8,616 L950.8,578 Q950.8,573.8 955,573.8 L1116,573.8 Q1120.4,573.8 1120.4,578 L1120.4,616 L1118,616 L1118,590 Q1118,586.4 1114.5,586.4 L956.5,586.4 Q953.4,586.4 953.4,590 L953.4,616 Z" stroke="#000" stroke-width="1.80" fill="none" stroke-linejoin="round" stroke-linecap="round" />
<line x1="951.0" y1="583.2" x2="1120.0" y2="583.2" stroke="#000" stroke-width="1.80" />
<ellipse cx="974.4" cy="579.2" rx="8.2" ry="3.2" fill="#111" stroke="#000" stroke-width="1.0"/>
<rect x="969.4" y="578" width="10" height="2.4" rx="1" fill="#fff"/>
<ellipse cx="1098.3" cy="579.2" rx="8.2" ry="3.2" fill="#111" stroke="#000" stroke-width="1.0"/>
<rect x="1093.3" y="578" width="10" height="2.4" rx="1" fill="#fff"/>
<ellipse cx="1036.2" cy="578.8" rx="11" ry="3.6" fill="#fff" stroke="#000" stroke-width="1.9"/>
<path d="M1028,580.5 Q1036,582.5 1044,580.5" fill="none" stroke="#000" stroke-width="1.2"/>
<path d="M974.2,632.5 L978.7,641 L978.7,680 L969.7,680 L969.7,641 Z" fill="#000" /><line x1="968.7" y1="642.0" x2="979.7" y2="643.2" stroke="#000" stroke-width="1.00" /><line x1="968.7" y1="644.8" x2="979.7" y2="646.0" stroke="#000" stroke-width="1.00" /><line x1="968.7" y1="647.6" x2="979.7" y2="648.8" stroke="#000" stroke-width="1.00" /><line x1="968.7" y1="650.4" x2="979.7" y2="651.6" stroke="#000" stroke-width="1.00" /><line x1="968.7" y1="653.2" x2="979.7" y2="654.4" stroke="#000" stroke-width="1.00" /><line x1="968.7" y1="656.0" x2="979.7" y2="657.2" stroke="#000" stroke-width="1.00" /><line x1="968.7" y1="658.8" x2="979.7" y2="660.0" stroke="#000" stroke-width="1.00" /><line x1="968.7" y1="661.6" x2="979.7" y2="662.8" stroke="#000" stroke-width="1.00" /><line x1="968.7" y1="664.4" x2="979.7" y2="665.6" stroke="#000" stroke-width="1.00" /><line x1="968.7" y1="667.2" x2="979.7" y2="668.4" stroke="#000" stroke-width="1.00" /><line x1="968.7" y1="670.0" x2="979.7" y2="671.2" stroke="#000" stroke-width="1.00" /><line x1="968.7" y1="672.8" x2="979.7" y2="674.0" stroke="#000" stroke-width="1.00" /><line x1="968.7" y1="675.6" x2="979.7" y2="676.8" stroke="#000" stroke-width="1.00" /><line x1="968.7" y1="678.4" x2="979.7" y2="679.6" stroke="#000" stroke-width="1.00" /><path d="M966.7,683 Q967.2,679 974.2,679.5 Q981.2,679 981.7,683 Q981.2,687 974.2,687 Q967.2,687 966.7,683 Z" stroke="#000" stroke-width="1.80" fill="#fff" stroke-linejoin="round" stroke-linecap="round" />
<path d="M1097.5,632.5 L1102.0,641 L1102.0,680 L1093.0,680 L1093.0,641 Z" fill="#000" /><line x1="1092.0" y1="642.0" x2="1103.0" y2="643.2" stroke="#000" stroke-width="1.00" /><line x1="1092.0" y1="644.8" x2="1103.0" y2="646.0" stroke="#000" stroke-width="1.00" /><line x1="1092.0" y1="647.6" x2="1103.0" y2="648.8" stroke="#000" stroke-width="1.00" /><line x1="1092.0" y1="650.4" x2="1103.0" y2="651.6" stroke="#000" stroke-width="1.00" /><line x1="1092.0" y1="653.2" x2="1103.0" y2="654.4" stroke="#000" stroke-width="1.00" /><line x1="1092.0" y1="656.0" x2="1103.0" y2="657.2" stroke="#000" stroke-width="1.00" /><line x1="1092.0" y1="658.8" x2="1103.0" y2="660.0" stroke="#000" stroke-width="1.00" /><line x1="1092.0" y1="661.6" x2="1103.0" y2="662.8" stroke="#000" stroke-width="1.00" /><line x1="1092.0" y1="664.4" x2="1103.0" y2="665.6" stroke="#000" stroke-width="1.00" /><line x1="1092.0" y1="667.2" x2="1103.0" y2="668.4" stroke="#000" stroke-width="1.00" /><line x1="1092.0" y1="670.0" x2="1103.0" y2="671.2" stroke="#000" stroke-width="1.00" /><line x1="1092.0" y1="672.8" x2="1103.0" y2="674.0" stroke="#000" stroke-width="1.00" /><line x1="1092.0" y1="675.6" x2="1103.0" y2="676.8" stroke="#000" stroke-width="1.00" /><line x1="1092.0" y1="678.4" x2="1103.0" y2="679.6" stroke="#000" stroke-width="1.00" /><path d="M1090.0,683 Q1090.5,679 1097.5,679.5 Q1104.5,679 1105.0,683 Q1104.5,687 1097.5,687 Q1090.5,687 1090.0,683 Z" stroke="#000" stroke-width="1.80" fill="#fff" stroke-linejoin="round" stroke-linecap="round" />
<path d="M983.9,746.7 L985.2,746.4 L986.4,746.0 L987.6,745.6 L988.8,745.2 L989.9,744.7 L991.0,744.2 L992.1,743.7 L993.1,743.1 L994.0,742.5 L994.9,741.9 L995.7,741.3 L996.5,740.6 L997.2,739.9 L997.8,739.2 L998.4,738.5 L998.9,737.7 L999.3,737.0 L999.7,736.2 L1000.0,735.4 L1000.2,734.6 L1000.4,733.8 L1000.5,733.0 L1000.5,732.2 L1000.4,731.4 L1000.3,730.6 L1000.1,729.8 L999.8,729.1 L999.5,728.3 L999.1,727.5 L998.6,726.8 L998.0,726.0 L997.4,725.3 L996.7,724.6 L996.0,723.9 L995.2,723.3 L994.3,722.7 L993.4,722.1 L992.4,721.5 L991.4,721.0 L990.3,720.4 L989.2,720.0 L988.0,719.5 L986.8,719.1 L985.6,718.7 L984.4,718.4 L983.1,718.1 L981.7,717.9 L980.4,717.7 L979.1,717.5 L977.7,717.3 L976.3,717.3 L974.9,717.2 L973.5,717.2 L972.2,717.2 L970.8,717.3 L969.4,717.4 L968.0,717.6 L966.7,717.8 L965.4,718.0 L964.1,718.3 L962.8,718.6 L961.6,719.0 L960.4,719.4 L959.2,719.8 L958.1,720.3 L957.0,720.8 L955.9,721.3 L954.9,721.9 L954.0,722.5 L953.1,723.1 L952.3,723.7 L951.5,724.4 L950.8,725.1 L950.2,725.8 L949.6,726.5 L949.1,727.3 L948.7,728.0 L948.3,728.8 L948.0,729.6 L947.8,730.4 L947.6,731.2 L947.5,732.0 L947.5,732.8 L947.6,733.6 L947.7,734.4 L947.9,735.2 L948.2,735.9 L948.5,736.7 L948.9,737.5 L949.4,738.2 L950.0,739.0 L950.6,739.7 L951.3,740.4" stroke="#000" stroke-width="2.70" fill="none" stroke-linejoin="round" stroke-linecap="round" /><path d="M967.4,749.6 L950.4,744.4 L954.4,738.0 Z" fill="#000" /><line x1="974.0" y1="722.0" x2="974.0" y2="751.5" stroke="#000" stroke-width="4.00" stroke-linecap="butt"/><line x1="974.0" y1="717.2" x2="974.0" y2="713.0" stroke="#000" stroke-width="3.40" stroke-linecap="butt"/><path d="M974.0,695.4 L978.6,714.0 L969.4,714.0 Z" fill="#000" />
<path d="M1107.3,746.7 L1108.6,746.4 L1109.8,746.0 L1111.0,745.6 L1112.2,745.2 L1113.3,744.7 L1114.4,744.2 L1115.5,743.7 L1116.5,743.1 L1117.4,742.5 L1118.3,741.9 L1119.1,741.3 L1119.9,740.6 L1120.6,739.9 L1121.2,739.2 L1121.8,738.5 L1122.3,737.7 L1122.7,737.0 L1123.1,736.2 L1123.4,735.4 L1123.6,734.6 L1123.8,733.8 L1123.9,733.0 L1123.9,732.2 L1123.8,731.4 L1123.7,730.6 L1123.5,729.8 L1123.2,729.1 L1122.9,728.3 L1122.5,727.5 L1122.0,726.8 L1121.4,726.0 L1120.8,725.3 L1120.1,724.6 L1119.4,723.9 L1118.6,723.3 L1117.7,722.7 L1116.8,722.1 L1115.8,721.5 L1114.8,721.0 L1113.7,720.4 L1112.6,720.0 L1111.4,719.5 L1110.2,719.1 L1109.0,718.7 L1107.8,718.4 L1106.5,718.1 L1105.1,717.9 L1103.8,717.7 L1102.5,717.5 L1101.1,717.3 L1099.7,717.3 L1098.3,717.2 L1096.9,717.2 L1095.6,717.2 L1094.2,717.3 L1092.8,717.4 L1091.4,717.6 L1090.1,717.8 L1088.8,718.0 L1087.5,718.3 L1086.2,718.6 L1085.0,719.0 L1083.8,719.4 L1082.6,719.8 L1081.5,720.3 L1080.4,720.8 L1079.3,721.3 L1078.3,721.9 L1077.4,722.5 L1076.5,723.1 L1075.7,723.7 L1074.9,724.4 L1074.2,725.1 L1073.6,725.8 L1073.0,726.5 L1072.5,727.3 L1072.1,728.0 L1071.7,728.8 L1071.4,729.6 L1071.2,730.4 L1071.0,731.2 L1070.9,732.0 L1070.9,732.8 L1071.0,733.6 L1071.1,734.4 L1071.3,735.2 L1071.6,735.9 L1071.9,736.7 L1072.3,737.5 L1072.8,738.2 L1073.4,739.0 L1074.0,739.7 L1074.7,740.4" stroke="#000" stroke-width="2.70" fill="none" stroke-linejoin="round" stroke-linecap="round" /><path d="M1090.8,749.6 L1073.8,744.4 L1077.8,738.0 Z" fill="#000" /><line x1="1097.4" y1="722.0" x2="1097.4" y2="751.5" stroke="#000" stroke-width="4.00" stroke-linecap="butt"/><line x1="1097.4" y1="717.2" x2="1097.4" y2="713.0" stroke="#000" stroke-width="3.40" stroke-linecap="butt"/><path d="M1097.4,695.4 L1102.0,714.0 L1092.8,714.0 Z" fill="#000" />
<circle cx="934.7" cy="673" r="23" fill="none" stroke="#000" stroke-width="2.2"/>
<text transform="translate(921.01,689.50) scale(1.0228,1)" font-family="Liberation Serif" font-weight="normal" font-size="49.99" xml:space="preserve" stroke="#000" stroke-width="1.0">1</text>
<path d="M950.5,788 L950.5,825 Q951,829.5 1036,830.5 Q1121,829.5 1121.6,825 L1121.6,788" fill="#fff" stroke="#000" stroke-width="2.2"/>
<ellipse cx="1036" cy="787.6" rx="85.5" ry="8.3" fill="#fff" stroke="#000" stroke-width="2.2"/>
<path d="M993.8,830 L993.8,852 Q995,855.5 1036,855.8 Q1077,855.5 1078.2,852 L1078.2,830" fill="#fff" stroke="#000" stroke-width="2.0"/>
<path d="M1007.5,876 Q1009,857 1037,856.5 Q1064,857 1065.5,876" fill="none" stroke="#000" stroke-width="2.0"/>
<path d="M1007.2,877 L1007.2,941 Q1008,947.5 1036.5,948 Q1065,947.5 1065.8,941 L1065.8,877 Z" fill="#111" stroke="#000" stroke-width="2"/>
<path d="M1008.5,876.0 Q1036.5,881.0 1064.5,876.0" stroke="#4a4a4a" stroke-width="1.00" fill="none" stroke-linejoin="round" stroke-linecap="round" />
<path d="M1008.5,879.4 Q1036.5,884.4 1064.5,879.4" stroke="#4a4a4a" stroke-width="1.00" fill="none" stroke-linejoin="round" stroke-linecap="round" />
<path d="M1008.5,882.8 Q1036.5,887.8 1064.5,882.8" stroke="#4a4a4a" stroke-width="1.00" fill="none" stroke-linejoin="round" stroke-linecap="round" />
<path d="M1008.5,886.2 Q1036.5,891.2 1064.5,886.2" stroke="#4a4a4a" stroke-width="1.00" fill="none" stroke-linejoin="round" stroke-linecap="round" />
<path d="M1008.5,889.6 Q1036.5,894.6 1064.5,889.6" stroke="#4a4a4a" stroke-width="1.00" fill="none" stroke-linejoin="round" stroke-linecap="round" />
<path d="M1008.5,893.0 Q1036.5,898.0 1064.5,893.0" stroke="#4a4a4a" stroke-width="1.00" fill="none" stroke-linejoin="round" stroke-linecap="round" />
<path d="M1008.5,896.4 Q1036.5,901.4 1064.5,896.4" stroke="#4a4a4a" stroke-width="1.00" fill="none" stroke-linejoin="round" stroke-linecap="round" />
<path d="M1008.5,899.8 Q1036.5,904.8 1064.5,899.8" stroke="#4a4a4a" stroke-width="1.00" fill="none" stroke-linejoin="round" stroke-linecap="round" />
<path d="M1008.5,903.2 Q1036.5,908.2 1064.5,903.2" stroke="#4a4a4a" stroke-width="1.00" fill="none" stroke-linejoin="round" stroke-linecap="round" />
<path d="M1008.5,906.6 Q1036.5,911.6 1064.5,906.6" stroke="#4a4a4a" stroke-width="1.00" fill="none" stroke-linejoin="round" stroke-linecap="round" />
<path d="M1008.5,910.0 Q1036.5,915.0 1064.5,910.0" stroke="#4a4a4a" stroke-width="1.00" fill="none" stroke-linejoin="round" stroke-linecap="round" />
<path d="M1008.5,913.4 Q1036.5,918.4 1064.5,913.4" stroke="#4a4a4a" stroke-width="1.00" fill="none" stroke-linejoin="round" stroke-linecap="round" />
<path d="M1008.5,916.8 Q1036.5,921.8 1064.5,916.8" stroke="#4a4a4a" stroke-width="1.00" fill="none" stroke-linejoin="round" stroke-linecap="round" />
<path d="M1008.5,920.2 Q1036.5,925.2 1064.5,920.2" stroke="#4a4a4a" stroke-width="1.00" fill="none" stroke-linejoin="round" stroke-linecap="round" />
<path d="M1008.5,923.6 Q1036.5,928.6 1064.5,923.6" stroke="#4a4a4a" stroke-width="1.00" fill="none" stroke-linejoin="round" stroke-linecap="round" />
<path d="M1008.5,927.0 Q1036.5,932.0 1064.5,927.0" stroke="#4a4a4a" stroke-width="1.00" fill="none" stroke-linejoin="round" stroke-linecap="round" />
<path d="M1008.5,930.4 Q1036.5,935.4 1064.5,930.4" stroke="#4a4a4a" stroke-width="1.00" fill="none" stroke-linejoin="round" stroke-linecap="round" />
<path d="M1008.5,933.8 Q1036.5,938.8 1064.5,933.8" stroke="#4a4a4a" stroke-width="1.00" fill="none" stroke-linejoin="round" stroke-linecap="round" />
<path d="M1008.5,937.2 Q1036.5,942.2 1064.5,937.2" stroke="#4a4a4a" stroke-width="1.00" fill="none" stroke-linejoin="round" stroke-linecap="round" />
<ellipse cx="1036.5" cy="941.5" rx="26" ry="5.5" fill="#fff" stroke="#000" stroke-width="2"/>
<line x1="933.0" y1="799.0" x2="944.5" y2="796.8" stroke="#000" stroke-width="3.00" stroke-linecap="butt"/>
<ellipse cx="932" cy="799.3" rx="2.2" ry="3.2" fill="#fff" stroke="#000" stroke-width="1.8" transform="rotate(-10 932 799.3)"/>
<line x1="1128.5" y1="797.8" x2="1140.0" y2="798.5" stroke="#000" stroke-width="3.20" />
<ellipse cx="1140.3" cy="800" rx="6.3" ry="11.8" fill="none" stroke="#000" stroke-width="2"/>
<path d="M1146.8,790.0 L1149.0,797.0 L1144.6,797.0 Z" fill="#000" />
<ellipse cx="1139.5" cy="798.5" rx="2.2" ry="3.8" fill="none" stroke="#000" stroke-width="2"/>
<circle cx="1208.0" cy="786.0" r="14.7" fill="none" stroke="#000" stroke-width="1.90"/><text transform="translate(1201.44,795.90) scale(0.9806,1)" font-family="Liberation Serif" font-weight="bold" font-size="32.93" xml:space="preserve" >2</text>
<path d="M1190.2,807.5 L1200.0,801.7 L1200.0,805.0 L1217.4,805.0 L1217.4,810.0 L1200.0,810.0 L1200.0,813.3Z" stroke="#000" stroke-width="1.90" fill="#fff" stroke-linejoin="round" stroke-linecap="round" stroke-linejoin="miter"/>
<circle cx="1155.1" cy="852.8" r="14.7" fill="none" stroke="#000" stroke-width="1.90"/><text transform="translate(1149.02,862.90) scale(0.9866,1)" font-family="Liberation Serif" font-weight="bold" font-size="31.72" xml:space="preserve" >3</text>
<path d="M1138.6,862.2 L1144.9,873.0 L1141.2,873.0 L1141.2,889.7 L1136.0,889.7 L1136.0,873.0 L1132.3,873.0Z" stroke="#000" stroke-width="1.90" fill="#fff" stroke-linejoin="round" stroke-linecap="round" stroke-linejoin="miter"/>
<path d="M873.0,701.8 A107.2,107.2 0 1 1 882.3,684.5 Q883.5,706 899.3,718.6 Q886,712 873.0,701.8" stroke="#000" stroke-width="2.30" fill="none" stroke-linejoin="round" stroke-linecap="round" />
<clipPath id="bub"><circle cx="783.6" cy="642.6" r="106.2"/></clipPath>
<g clip-path="url(#bub)"><g transform="translate(782.9,664.4) rotate(-11)"><path d="M-39.5,-28.5 L-20.0,-28.5 L-20.0,-9.0 L-10.5,-9.0 L-10.5,-29.5 L9.5,-29.5 L9.5,-10.0 L18.5,-10.0 L18.5,-30.0 L39.5,-30.0 L39.5,28.0 L20.0,28.0 L20.0,10.0 L12.0,10.0 L12.0,28.5 L-10.5,28.5 L-10.5,11.0 L-18.0,11.0 L-18.0,30.0 L-39.5,30.0Z" stroke="#000" stroke-width="2.30" fill="#fff" stroke-linejoin="round" stroke-linecap="round" stroke-linejoin="miter"/><circle cx="-29.8" cy="-15.4" r="3.2" fill="none" stroke="#000" stroke-width="1.9"/><circle cx="0.8" cy="-16.7" r="3.2" fill="none" stroke="#000" stroke-width="1.9"/><circle cx="29.3" cy="-16.6" r="3.2" fill="none" stroke="#000" stroke-width="1.9"/><circle cx="-14.2" cy="1.0" r="3.2" fill="none" stroke="#000" stroke-width="1.9"/><circle cx="14.9" cy="0.5" r="3.2" fill="none" stroke="#000" stroke-width="1.9"/><circle cx="-29.2" cy="18.7" r="3.2" fill="none" stroke="#000" stroke-width="1.9"/><circle cx="0.8" cy="17.3" r="3.2" fill="none" stroke="#000" stroke-width="1.9"/><circle cx="30.3" cy="15.6" r="3.2" fill="none" stroke="#000" stroke-width="1.9"/><line x1="-32.0" y1="30.0" x2="-32.0" y2="130.0" stroke="#000" stroke-width="2.30" /><line x1="-21.0" y1="30.0" x2="-21.0" y2="130.0" stroke="#000" stroke-width="2.30" /><line x1="-1.5" y1="28.5" x2="-1.5" y2="130.0" stroke="#000" stroke-width="2.30" /><line x1="8.0" y1="28.5" x2="8.0" y2="130.0" stroke="#000" stroke-width="2.30" /><line x1="26.0" y1="28.5" x2="26.0" y2="130.0" stroke="#000" stroke-width="2.30" /><line x1="34.5" y1="28.5" x2="34.5" y2="130.0" stroke="#000" stroke-width="2.30" /><path d="M-38.4,-130 L-38.4,-69.5 L-27.3,-69.5 L-27.3,-130" stroke="#000" stroke-width="2.30" fill="none" stroke-linejoin="round" stroke-linecap="round" stroke-linejoin="miter"/><path d="M-36.5,-69.5 L-36.5,-59.5 L-29.2,-59.5 L-29.2,-69.5" stroke="#000" stroke-width="2.00" fill="none" stroke-linejoin="round" stroke-linecap="round" stroke-linejoin="miter"/><path d="M-11.5,-130 L-11.5,-69.5 L-2.7,-69.5 L-2.7,-130" stroke="#000" stroke-width="2.30" fill="none" stroke-linejoin="round" stroke-linecap="round" stroke-linejoin="miter"/><path d="M-10.7,-69.5 L-10.7,-59.5 L-3.5,-59.5 L-3.5,-69.5" stroke="#000" stroke-width="2.00" fill="none" stroke-linejoin="round" stroke-linecap="round" stroke-linejoin="miter"/><path d="M16.6,-130 L16.6,-69.5 L29.5,-69.5 L29.5,-130" stroke="#000" stroke-width="2.30" fill="none" stroke-linejoin="round" stroke-linecap="round" stroke-linejoin="miter"/><path d="M19.4,-69.5 L19.4,-59.5 L26.7,-59.5 L26.7,-69.5" stroke="#000" stroke-width="2.00" fill="none" stroke-linejoin="round" stroke-linecap="round" stroke-linejoin="miter"/><path d="M-19.2,-68.0 L-24.2,-80.0 L-21.4,-80.0 L-21.4,-95.0 L-17.0,-95.0 L-17.0,-80.0 L-14.2,-80.0Z" stroke="#000" stroke-width="1.80" fill="none" stroke-linejoin="round" stroke-linecap="round" stroke-linejoin="miter"/><path d="M7.0,-68.0 L2.0,-80.0 L4.8,-80.0 L4.8,-95.0 L9.2,-95.0 L9.2,-80.0 L12.0,-80.0Z" stroke="#000" stroke-width="1.80" fill="none" stroke-linejoin="round" stroke-linecap="round" stroke-linejoin="miter"/><text x="-35.5" y="-33.5" font-family="Liberation Serif" font-weight="bold" font-size="30" text-anchor="middle" stroke="#000" stroke-width="0.6" transform="scale(0.85,1)">N</text><text x="33.2" y="-34.5" font-family="Liberation Serif" font-weight="bold" font-size="29" text-anchor="middle" stroke="#000" stroke-width="0.6" transform="scale(0.85,1)">L</text><circle cx="1.1" cy="-43.3" r="9.6" fill="none" stroke="#000" stroke-width="2.3"/><line x1="1.1" y1="-52.0" x2="1.1" y2="-41.0" stroke="#000" stroke-width="1.80" /><path d="M-6,-41 L8,-41 L1.1,-35.5 Z" fill="#000" /></g></g>
<path d="M905.5,698.7 Q897.5,709 901,717 Q903.5,723 907.5,726" stroke="#000" stroke-width="2.00" fill="none" stroke-linejoin="round" stroke-linecap="round" />
<path d="M913.5,697 Q905.5,707 907.5,712.5 Q909.5,718 915,721.5" stroke="#000" stroke-width="2.00" fill="none" stroke-linejoin="round" stroke-linecap="round" />
<path d="M941,767.6 Q947.5,772 950.8,787.5" stroke="#000" stroke-width="2.00" fill="none" stroke-linejoin="round" stroke-linecap="round" />
<path d="M947,761.4 Q956,769 959,787.5" stroke="#000" stroke-width="2.00" fill="none" stroke-linejoin="round" stroke-linecap="round" />
<g transform="translate(930,742) rotate(49)"><path d="M-26,-6 Q-26,-10.5 -21,-10.5 L-14,-10.5 Q-12,-12 -9,-10.5 L21,-10.5 Q26,-10.5 26,-6 L26,6 Q26,10.5 21,10.5 L9,10.5 Q12,12 14,10.5 L-21,10.5 Q-26,10.5 -26,6 Z" fill="#fff" stroke="#000" stroke-width="2.3"/><rect x="-17" y="-6.5" width="34" height="13" fill="none" stroke="#000" stroke-width="2.0"/><rect x="-13.5" y="-4.2" width="8.5" height="8.4" fill="#222"/><rect x="5" y="-4.2" width="8.5" height="8.4" fill="#222"/><line x1="-5.0" y1="-1.2" x2="5.0" y2="-1.2" stroke="#000" stroke-width="1.20" /><line x1="-5.0" y1="1.8" x2="5.0" y2="1.8" stroke="#000" stroke-width="1.20" /><circle cx="-21" cy="-7" r="2.8" fill="#222"/><circle cx="21" cy="-7" r="2.8" fill="#222"/><circle cx="-21" cy="7" r="2.8" fill="#222"/><circle cx="21" cy="7" r="2.8" fill="#222"/></g>
<line x1="664.7" y1="798.3" x2="794.7" y2="798.3" stroke="#000" stroke-width="2.00" />
<line x1="664.7" y1="1192.4" x2="794.7" y2="1192.4" stroke="#000" stroke-width="2.00" />
<line x1="717.5" y1="800.0" x2="717.5" y2="867.4" stroke="#000" stroke-width="2.00" />
<line x1="717.5" y1="1082.7" x2="717.5" y2="1190.5" stroke="#000" stroke-width="2.00" />
<path d="M717.5,798.8 L720.8,811.8 L714.2,811.8 Z" fill="#000" />
<path d="M717.5,1191.9 L714.2,1178.9 L720.8,1178.9 Z" fill="#000" />
<text transform="translate(734.20,1057.17) rotate(-90) scale(0.9793,1)" font-family="Liberation Serif" font-weight="normal" font-size="85.33" stroke="#000" stroke-width="1.2">2</text>
<text transform="translate(734.20,1013.57) rotate(-90) scale(0.8738,1)" font-family="Liberation Serif" font-weight="normal" font-size="85.33" stroke="#000" stroke-width="1.2">3</text>
<text transform="translate(734.20,974.97) rotate(-90) scale(0.7350,1)" font-family="Liberation Serif" font-weight="normal" font-size="85.33" stroke="#000" stroke-width="1.2">C</text>
<text transform="translate(734.20,935.80) rotate(-90) scale(0.5634,1)" font-family="Liberation Serif" font-weight="normal" font-size="86.29" stroke="#000" stroke-width="1.2">M</text>
<line x1="831.0" y1="1012.4" x2="864.8" y2="1012.4" stroke="#000" stroke-width="2.00" />
<line x1="833.3" y1="1013.0" x2="833.3" y2="1042.9" stroke="#000" stroke-width="2.00" />
<path d="M833.3,1012.6 L835.9,1022.6 L830.7,1022.6 Z" fill="#000" />
<line x1="831.0" y1="1279.3" x2="865.0" y2="1279.3" stroke="#000" stroke-width="2.00" />
<line x1="833.3" y1="1249.3" x2="833.3" y2="1279.0" stroke="#000" stroke-width="2.00" />
<path d="M833.3,1279.1 L830.7,1269.1 L835.9,1269.1 Z" fill="#000" />
<text transform="translate(850.80,1188.79) rotate(-90) scale(0.7883,1)" font-family="Liberation Serif" font-weight="bold" font-size="48.93" stroke="#000" stroke-width="0.5">1</text>
<text transform="translate(850.80,1167.33) rotate(-90) scale(0.9204,1)" font-family="Liberation Serif" font-weight="bold" font-size="48.78" stroke="#000" stroke-width="0.5">9</text>
<text transform="translate(850.80,1145.98) rotate(-90) scale(0.7071,1)" font-family="Liberation Serif" font-weight="bold" font-size="48.78" stroke="#000" stroke-width="0.5">C</text>
<text transform="translate(850.80,1123.03) rotate(-90) scale(0.5147,1)" font-family="Liberation Serif" font-weight="bold" font-size="49.33" stroke="#000" stroke-width="0.5">M</text>
<text transform="translate(970.54,1213.50) scale(0.9152,1)" font-family="Liberation Serif" font-weight="normal" font-size="71.14" xml:space="preserve" stroke="#000" stroke-width="1.3">2</text>
<text transform="translate(1003.56,1213.50) scale(0.9062,1)" font-family="Liberation Serif" font-weight="normal" font-size="70.82" xml:space="preserve" stroke="#000" stroke-width="1.3">0</text>
<text transform="translate(1036.56,1213.50) scale(0.7339,1)" font-family="Liberation Serif" font-weight="normal" font-size="71.14" xml:space="preserve" stroke="#000" stroke-width="1.3">C</text>
<text transform="translate(1069.05,1213.50) scale(0.5570,1)" font-family="Liberation Serif" font-weight="normal" font-size="71.93" xml:space="preserve" stroke="#000" stroke-width="1.3">M</text>
<line x1="864.6" y1="1198.0" x2="905.0" y2="1198.0" stroke="#000" stroke-width="2.00" />
<path d="M914.5,1198.0 L904.5,1200.6 L904.5,1195.4 Z" fill="#000" />
<line x1="1203.0" y1="1198.4" x2="1236.6" y2="1198.4" stroke="#000" stroke-width="2.00" />
<path d="M1193.8,1198.4 L1203.8,1195.8 L1203.8,1201.0 Z" fill="#000" />
<line x1="915.4" y1="1271.7" x2="915.4" y2="1020.0" stroke="#000" stroke-width="2.20" />
<path d="M915.4,1020.0 C916.2,1019.0 917.2,1015.6 920.0,1014.0 C922.8,1012.4 926.2,1011.6 932.0,1010.6 C937.8,1009.6 945.6,1008.7 955.0,1008.0 C964.4,1007.3 983.0,1006.8 988.6,1006.5" stroke="#000" stroke-width="2.20" fill="none" stroke-linejoin="round" stroke-linecap="round" />
<line x1="994.5" y1="992.0" x2="994.5" y2="1244.0" stroke="#000" stroke-width="2.20" />
<line x1="1193.2" y1="1004.0" x2="1193.2" y2="1257.5" stroke="#000" stroke-width="2.20" />
<path d="M994.5,992.0 C995.5,990.9 996.1,987.2 1000.7,985.5 C1005.3,983.8 1015.1,982.4 1022.3,981.8 C1029.5,981.2 1037.1,981.3 1043.8,981.8 C1050.5,982.3 1055.0,983.6 1062.6,985.0 C1070.2,986.4 1080.6,988.6 1089.6,990.4 C1098.6,992.2 1108.4,995.0 1116.5,995.8 C1124.6,996.6 1130.4,995.7 1138.0,995.4 C1145.6,995.1 1154.6,993.6 1162.2,993.9 C1169.8,994.2 1178.6,995.4 1183.8,997.1 C1189.0,998.8 1191.6,1002.9 1193.2,1004.0" stroke="#000" stroke-width="2.20" fill="none" stroke-linejoin="round" stroke-linecap="round" />
<path d="M1059.9,984.2 C1064.9,984.4 1080.2,983.7 1089.6,985.4 C1099.0,987.1 1112.0,993.1 1116.5,994.6" stroke="#000" stroke-width="1.60" fill="none" stroke-linejoin="round" stroke-linecap="round" />
<path d="M994.5,1243.4 C996.0,1242.4 997.9,1239.0 1003.4,1237.5 C1008.9,1236.0 1020.0,1234.8 1027.6,1234.5 C1035.2,1234.2 1041.1,1234.6 1049.2,1235.9 C1057.3,1237.2 1067.1,1240.0 1076.1,1242.1 C1085.1,1244.1 1094.0,1247.0 1103.0,1248.2 C1112.0,1249.4 1121.4,1249.3 1129.9,1249.4 C1138.4,1249.5 1146.1,1248.5 1154.2,1248.8 C1162.3,1249.0 1172.6,1250.0 1178.4,1250.9 C1184.2,1251.8 1186.7,1253.1 1189.2,1254.2 C1191.7,1255.3 1192.5,1256.9 1193.2,1257.4" stroke="#000" stroke-width="2.20" fill="none" stroke-linejoin="round" stroke-linecap="round" />
<path d="M1003.4,1240.1 C1007.4,1239.6 1020.0,1237.4 1027.6,1237.1 C1035.2,1236.8 1041.1,1237.2 1049.2,1238.5 C1057.3,1239.8 1067.1,1242.6 1076.1,1244.7 C1085.1,1246.7 1094.0,1249.6 1103.0,1250.8 C1112.0,1252.0 1121.4,1251.9 1129.9,1252.0 C1138.4,1252.1 1146.1,1251.1 1154.2,1251.4 C1162.3,1251.6 1172.6,1252.6 1178.4,1253.5 C1184.2,1254.4 1187.4,1256.2 1189.2,1256.8" stroke="#000" stroke-width="1.40" fill="none" stroke-linejoin="round" stroke-linecap="round" />
<path d="M1193.2,1257.4 C1192.5,1258.4 1191.7,1261.7 1189.2,1263.6 C1186.7,1265.5 1182.9,1267.1 1178.4,1268.9 C1173.9,1270.7 1165.8,1272.3 1162.2,1274.3 C1158.6,1276.3 1157.3,1278.6 1156.9,1281.1 C1156.5,1283.6 1158.5,1286.9 1159.6,1289.1 C1160.7,1291.3 1164.9,1293.2 1163.6,1294.5 C1162.2,1295.8 1157.1,1296.3 1151.5,1297.2 C1145.9,1298.1 1138.0,1298.8 1129.9,1299.9 C1121.8,1301.0 1112.0,1302.8 1103.0,1303.9 C1094.0,1305.0 1085.1,1306.8 1076.1,1306.6 C1067.1,1306.4 1056.8,1304.8 1049.2,1302.6 C1041.6,1300.4 1036.1,1295.9 1030.3,1293.2 C1024.5,1290.5 1022.3,1288.1 1014.2,1286.5 C1006.1,1284.9 994.0,1284.5 981.9,1283.8 C969.8,1283.1 951.4,1283.1 941.5,1282.4 C931.6,1281.7 927.0,1281.4 922.7,1279.8 C918.4,1278.2 917.0,1274.1 915.9,1273.0" stroke="#000" stroke-width="2.30" fill="none" stroke-linejoin="round" stroke-linecap="round" />
<path d="M1188.2,1261.0 C1186.4,1261.9 1181.9,1264.5 1177.4,1266.3 C1172.9,1268.1 1164.8,1269.7 1161.2,1271.7 C1157.6,1273.7 1156.3,1276.0 1155.9,1278.5 C1155.5,1281.0 1157.5,1284.3 1158.6,1286.5 C1159.7,1288.7 1163.9,1290.6 1162.6,1291.9 C1161.2,1293.2 1156.1,1293.7 1150.5,1294.6 C1144.9,1295.5 1137.0,1296.2 1128.9,1297.3 C1120.8,1298.4 1111.0,1300.2 1102.0,1301.3 C1093.0,1302.4 1084.1,1304.2 1075.1,1304.0 C1066.1,1303.8 1055.8,1302.2 1048.2,1300.0 C1040.6,1297.8 1035.1,1293.3 1029.3,1290.6 C1023.5,1287.9 1021.3,1285.5 1013.2,1283.9 C1005.1,1282.3 993.0,1281.9 980.9,1281.2 C968.8,1280.5 950.4,1280.5 940.5,1279.8 C930.6,1279.1 924.8,1277.6 921.7,1277.2" stroke="#000" stroke-width="1.40" fill="none" stroke-linejoin="round" stroke-linecap="round" />
<path d="M915.4,1271.7 C916.4,1270.8 916.9,1267.8 921.3,1266.3 C925.6,1264.8 933.6,1263.7 941.5,1262.8 C949.4,1261.9 959.4,1261.5 968.4,1260.9 C977.4,1260.3 989.0,1259.8 995.3,1259.1 C1001.6,1258.4 1003.9,1258.2 1006.1,1256.9 C1008.4,1255.6 1009.2,1253.3 1008.8,1251.5 C1008.3,1249.7 1005.4,1247.4 1003.4,1246.1 C1001.4,1244.8 998.1,1243.9 997.0,1243.4" stroke="#000" stroke-width="2.20" fill="none" stroke-linejoin="round" stroke-linecap="round" />
<path d="M916.9,1274.3 C917.9,1273.4 918.4,1270.4 922.8,1268.9 C927.1,1267.4 935.1,1266.3 943.0,1265.4 C950.9,1264.5 960.9,1264.1 969.9,1263.5 C978.9,1262.9 990.5,1262.4 996.8,1261.7 C1003.1,1261.0 1005.8,1259.9 1007.6,1259.5" stroke="#000" stroke-width="1.40" fill="none" stroke-linejoin="round" stroke-linecap="round" />
<line x1="1009.5" y1="1239.4" x2="1009.5" y2="1253.0" stroke="#000" stroke-width="1.80" />
<line x1="1154.2" y1="1249.0" x2="1154.2" y2="1276.0" stroke="#000" stroke-width="1.60" />
<line x1="1165.0" y1="1276.0" x2="1165.0" y2="1294.6" stroke="#000" stroke-width="1.60" />
<path d="M1227.8,1076.2 L1243.8,1091.0 L1233.5,1091.0 L1233.5,1125.4 L1222.1,1125.4 L1222.1,1091.0 L1211.8,1091.0Z" stroke="#000" stroke-width="2.20" fill="#fff" stroke-linejoin="round" stroke-linecap="round" stroke-linejoin="miter"/>
<circle cx="1273.9" cy="1103.1" r="23.5" fill="none" stroke="#000" stroke-width="2.20"/><text transform="translate(1261.75,1120.20) scale(0.9609,1)" font-family="Liberation Serif" font-weight="bold" font-size="53.16" xml:space="preserve" >6</text>
<g fill="none"><path d="M1054,1362.5 Q1046,1361 1046,1356 Q1047,1351.6 1062,1351.3 L1094,1351.3 Q1109.5,1351.6 1110.3,1356 Q1110,1361 1102.5,1362.5" stroke="#555" stroke-width="1.3"/><path d="M1054,1356.8 L1102.5,1356.8" stroke="#444" stroke-width="1.6"/><path d="M1054,1357 L1054,1365 M1102.5,1357 L1102.5,1365" stroke="#555" stroke-width="1.4"/><path d="M1053.5,1366.5 Q1056,1364.5 1066,1364.4 L1091,1364.4 Q1101,1364.5 1103,1366.5 Q1098,1369.8 1078,1369.8 Q1058,1369.8 1053.5,1366.5 Z" stroke="#333" stroke-width="1.5"/><path d="M1067,1368 Q1078,1366 1089,1368" stroke="#555" stroke-width="1.0"/></g>
<line x1="1057.5" y1="1358.3" x2="1057.5" y2="1363.0" stroke="#8a8a8a" stroke-width="1.60" />
<line x1="1062.1" y1="1358.3" x2="1062.1" y2="1363.0" stroke="#8a8a8a" stroke-width="1.60" />
<line x1="1066.7" y1="1358.3" x2="1066.7" y2="1363.0" stroke="#8a8a8a" stroke-width="1.60" />
<line x1="1071.3" y1="1358.3" x2="1071.3" y2="1363.0" stroke="#8a8a8a" stroke-width="1.60" />
<line x1="1075.9" y1="1358.3" x2="1075.9" y2="1363.0" stroke="#8a8a8a" stroke-width="1.60" />
<line x1="1080.5" y1="1358.3" x2="1080.5" y2="1363.0" stroke="#8a8a8a" stroke-width="1.60" />
<line x1="1085.1" y1="1358.3" x2="1085.1" y2="1363.0" stroke="#8a8a8a" stroke-width="1.60" />
<line x1="1089.7" y1="1358.3" x2="1089.7" y2="1363.0" stroke="#8a8a8a" stroke-width="1.60" />
<line x1="1094.3" y1="1358.3" x2="1094.3" y2="1363.0" stroke="#8a8a8a" stroke-width="1.60" />
<line x1="1098.9" y1="1358.3" x2="1098.9" y2="1363.0" stroke="#8a8a8a" stroke-width="1.60" />
<path d="M1175.5,1384.6 L1177.2,1384.2 L1178.8,1383.8 L1180.3,1383.3 L1181.8,1382.8 L1183.3,1382.2 L1184.7,1381.6 L1186.0,1380.9 L1187.3,1380.2 L1188.5,1379.5 L1189.6,1378.7 L1190.7,1377.9 L1191.7,1377.1 L1192.6,1376.2 L1193.4,1375.3 L1194.2,1374.4 L1194.8,1373.5 L1195.4,1372.6 L1195.9,1371.6 L1196.3,1370.6 L1196.6,1369.6 L1196.8,1368.7 L1196.9,1367.7 L1196.9,1366.7 L1196.8,1365.7 L1196.6,1364.7 L1196.4,1363.7 L1196.0,1362.7 L1195.6,1361.8 L1195.0,1360.8 L1194.4,1359.9 L1193.7,1359.0 L1192.9,1358.1 L1192.0,1357.2 L1191.1,1356.4 L1190.0,1355.6 L1188.9,1354.8 L1187.7,1354.0 L1186.5,1353.3 L1185.1,1352.7 L1183.8,1352.0 L1182.3,1351.4 L1180.8,1350.9 L1179.3,1350.4 L1177.7,1349.9 L1176.1,1349.5 L1174.4,1349.1 L1172.7,1348.8 L1171.0,1348.6 L1169.2,1348.3 L1167.5,1348.2 L1165.7,1348.1 L1163.9,1348.0 L1162.1,1348.0 L1160.3,1348.0 L1158.5,1348.1 L1156.8,1348.3 L1155.0,1348.5 L1153.3,1348.7 L1151.6,1349.0 L1149.9,1349.4 L1148.2,1349.8 L1146.6,1350.2 L1145.1,1350.7 L1143.6,1351.2 L1142.1,1351.8 L1140.7,1352.4 L1139.4,1353.1 L1138.1,1353.8 L1136.9,1354.5 L1135.8,1355.3 L1134.7,1356.1 L1133.7,1356.9 L1132.8,1357.8 L1132.0,1358.7 L1131.2,1359.6 L1130.6,1360.5 L1130.0,1361.4 L1129.5,1362.4 L1129.1,1363.4 L1128.8,1364.4 L1128.6,1365.3 L1128.5,1366.3 L1128.5,1367.3 L1128.6,1368.3 L1128.8,1369.3 L1129.0,1370.3 L1129.4,1371.3 L1129.8,1372.2 L1130.4,1373.2 L1131.0,1374.1 L1131.7,1375.0 L1132.5,1375.9 L1133.4,1376.8" stroke="#000" stroke-width="2.70" fill="none" stroke-linejoin="round" stroke-linecap="round" /><path d="M1154.2,1388.3 L1132.3,1381.8 L1137.4,1373.8 Z" fill="#000" /><line x1="1162.7" y1="1353.9" x2="1162.7" y2="1391.5" stroke="#000" stroke-width="4.00" stroke-linecap="butt"/><line x1="1162.7" y1="1348.0" x2="1162.7" y2="1340.8" stroke="#000" stroke-width="3.40" stroke-linecap="butt"/><path d="M1162.7,1318.5 L1167.6,1341.8 L1157.8,1341.8 Z" fill="#000" />
<circle cx="1237.2" cy="1365.3" r="23.7" fill="none" stroke="#000" stroke-width="2.20"/><text transform="translate(1224.34,1382.60) scale(0.9031,1)" font-family="Liberation Serif" font-weight="bold" font-size="53.45" xml:space="preserve" >7</text>
<path d="M1068.5,1421.5 Q1076,1413.5 1077.5,1414 Q1079,1413.5 1086.5,1421.5" stroke="#000" stroke-width="2.10" fill="#fff" stroke-linejoin="round" stroke-linecap="round" />
<path d="M1059.6,1454.2 L1059.6,1428 L1068.5,1421.5 L1086.5,1421.5 L1096.1,1428 L1096.1,1454.2" stroke="#000" stroke-width="2.20" fill="none" stroke-linejoin="round" stroke-linecap="round" />
<path d="M1061,1428 Q1078,1426 1095,1429" stroke="#000" stroke-width="1.80" fill="none" stroke-linejoin="round" stroke-linecap="round" />
<line x1="1060.0" y1="1430.5" x2="1095.5" y2="1434.1" stroke="#000" stroke-width="1.90" />
<line x1="1060.0" y1="1434.5" x2="1095.5" y2="1438.1" stroke="#000" stroke-width="1.90" />
<line x1="1060.0" y1="1438.5" x2="1095.5" y2="1442.1" stroke="#000" stroke-width="1.90" />
<line x1="1060.0" y1="1442.5" x2="1095.5" y2="1446.1" stroke="#000" stroke-width="1.90" />
<line x1="1060.0" y1="1446.5" x2="1095.5" y2="1450.1" stroke="#000" stroke-width="1.90" />
<path d="M1060.5,1447.5 Q1078,1445.5 1095.5,1448" stroke="#000" stroke-width="1.60" fill="none" stroke-linejoin="round" stroke-linecap="round" />
<line x1="1059.6" y1="1449.6" x2="1096.1" y2="1449.6" stroke="#000" stroke-width="2.00" />
<line x1="1059.6" y1="1454.2" x2="1096.1" y2="1454.2" stroke="#000" stroke-width="2.20" />
<path d="M1059.6,1454.2 L1057.5,1463.9 L1098,1463.9 L1096.1,1454.2" stroke="#000" stroke-width="2.20" fill="none" stroke-linejoin="round" stroke-linecap="round" />
<path d="M1057.5,1464 A31.9,31.9 0 1 0 1098,1464" stroke="#000" stroke-width="2.20" fill="none" stroke-linejoin="round" stroke-linecap="round" />
<path d="M1071.8,1465 L1072.8,1478.5 M1083.2,1465 L1082.5,1478.5 M1074.5,1465 L1074.8,1476 M1080.5,1465 L1080.2,1476 M1074.8,1476 L1080.2,1476 L1080.2,1480 L1074.8,1480 Z" stroke="#000" stroke-width="1.60" fill="none" stroke-linejoin="round" stroke-linecap="round" />
<path d="M1075.5,1481 L1064.8,1496.8 L1069.5,1495.8 L1073.2,1502 L1077.5,1497 L1081.8,1502 L1085.5,1495.8 L1091,1496.8 L1080.5,1481 M1076.8,1481 L1073.2,1501 M1078.8,1481 L1081.8,1501" stroke="#000" stroke-width="1.60" fill="none" stroke-linejoin="round" stroke-linecap="round" />
<path d="M1166.7,1499.3 L1168.4,1498.9 L1170.0,1498.5 L1171.5,1498.0 L1173.0,1497.4 L1174.5,1496.8 L1175.9,1496.2 L1177.2,1495.5 L1178.5,1494.8 L1179.7,1494.1 L1180.8,1493.3 L1181.9,1492.5 L1182.8,1491.7 L1183.7,1490.8 L1184.6,1489.9 L1185.3,1489.0 L1185.9,1488.1 L1186.5,1487.1 L1187.0,1486.1 L1187.4,1485.2 L1187.7,1484.2 L1187.9,1483.2 L1188.0,1482.2 L1188.0,1481.2 L1187.9,1480.2 L1187.7,1479.2 L1187.5,1478.2 L1187.1,1477.2 L1186.7,1476.2 L1186.1,1475.2 L1185.5,1474.3 L1184.8,1473.4 L1184.0,1472.5 L1183.1,1471.6 L1182.2,1470.8 L1181.2,1469.9 L1180.0,1469.2 L1178.9,1468.4 L1177.6,1467.7 L1176.3,1467.0 L1174.9,1466.4 L1173.5,1465.8 L1172.0,1465.2 L1170.5,1464.7 L1168.9,1464.2 L1167.3,1463.8 L1165.6,1463.5 L1163.9,1463.1 L1162.2,1462.9 L1160.5,1462.7 L1158.7,1462.5 L1157.0,1462.4 L1155.2,1462.3 L1153.4,1462.3 L1151.6,1462.3 L1149.9,1462.4 L1148.1,1462.6 L1146.4,1462.8 L1144.6,1463.0 L1142.9,1463.3 L1141.3,1463.7 L1139.6,1464.1 L1138.0,1464.5 L1136.5,1465.0 L1135.0,1465.6 L1133.5,1466.2 L1132.1,1466.8 L1130.8,1467.5 L1129.5,1468.2 L1128.3,1468.9 L1127.2,1469.7 L1126.1,1470.5 L1125.2,1471.3 L1124.3,1472.2 L1123.4,1473.1 L1122.7,1474.0 L1122.1,1474.9 L1121.5,1475.9 L1121.0,1476.9 L1120.6,1477.8 L1120.3,1478.8 L1120.1,1479.8 L1120.0,1480.8 L1120.0,1481.8 L1120.1,1482.8 L1120.3,1483.8 L1120.5,1484.8 L1120.9,1485.8 L1121.3,1486.8 L1121.9,1487.8 L1122.5,1488.7 L1123.2,1489.6 L1124.0,1490.5 L1124.9,1491.4" stroke="#000" stroke-width="2.70" fill="none" stroke-linejoin="round" stroke-linecap="round" /><path d="M1145.5,1503.0 L1123.7,1496.5 L1128.8,1488.4 Z" fill="#000" /><line x1="1154.0" y1="1468.1" x2="1154.0" y2="1505.8" stroke="#000" stroke-width="4.00" stroke-linecap="butt"/><line x1="1154.0" y1="1462.3" x2="1154.0" y2="1454.8" stroke="#000" stroke-width="3.40" stroke-linecap="butt"/><path d="M1154.0,1433.3 L1158.9,1455.8 L1149.1,1455.8 Z" fill="#000" />
<circle cx="1224.3" cy="1478.2" r="23.9" fill="none" stroke="#000" stroke-width="2.20"/><text transform="translate(1213.28,1494.90) scale(0.9678,1)" font-family="Liberation Serif" font-weight="bold" font-size="53.38" xml:space="preserve" >8</text>
<path d="M1010.2,1519.6 C1015.5,1519.4 1016.6,1520.5 1021.6,1521.9 C1026.7,1523.3 1034.0,1525.3 1040.5,1527.9 C1047.0,1530.5 1054.8,1534.8 1060.8,1537.3 C1066.8,1539.8 1070.4,1542.7 1076.7,1542.7 C1083.0,1542.7 1090.0,1540.4 1098.5,1537.3 C1107.0,1534.2 1120.3,1526.3 1127.5,1524.3 C1134.7,1522.2 1137.3,1523.2 1141.9,1525.0 C1146.5,1526.8 1151.4,1530.8 1155.0,1535.1 C1158.6,1539.4 1160.6,1546.0 1163.7,1551.1 C1166.8,1556.2 1169.0,1561.2 1173.8,1565.6 C1178.6,1569.9 1187.4,1572.8 1192.7,1577.2 C1198.0,1581.6 1202.9,1586.4 1205.7,1591.7 C1208.5,1597.0 1209.5,1603.5 1209.3,1609.1 C1209.1,1614.6 1207.1,1620.2 1204.3,1625.0 C1201.5,1629.8 1201.9,1631.5 1192.7,1638.0 C1183.5,1644.5 1158.4,1657.6 1149.2,1664.1 C1140.0,1670.6 1139.9,1672.4 1137.6,1677.2 C1135.3,1682.0 1134.7,1684.6 1135.4,1693.1 C1136.1,1701.5 1140.8,1719.2 1141.9,1727.9 C1143.0,1736.6 1143.1,1739.3 1141.9,1745.3 C1140.7,1751.3 1139.0,1758.3 1134.7,1764.1 C1130.4,1769.9 1122.4,1776.7 1115.9,1780.1 C1109.4,1783.5 1101.9,1784.7 1095.6,1784.4 C1089.3,1784.2 1083.3,1782.0 1078.2,1778.6 C1073.1,1775.2 1069.0,1771.1 1065.1,1764.1 C1061.2,1757.1 1058.1,1744.7 1055.0,1736.6 C1051.9,1728.5 1049.2,1720.5 1046.5,1715.5 C1043.8,1710.5 1042.3,1708.3 1038.7,1706.4 C1035.1,1704.5 1029.8,1703.3 1025.0,1704.1 C1020.2,1704.9 1015.3,1708.2 1010.2,1711.0 C1005.1,1713.8 1000.0,1718.7 994.3,1721.2 C988.6,1723.7 982.9,1726.2 976.1,1725.8 C969.3,1725.4 958.8,1722.1 953.3,1718.9 C947.8,1715.7 945.3,1711.1 943.0,1706.4 C940.7,1701.7 939.4,1695.8 939.6,1690.5 C939.8,1685.2 938.5,1684.4 944.2,1674.5 C949.9,1664.6 967.7,1640.3 973.8,1631.2 C979.9,1622.1 979.1,1623.8 980.6,1619.8 C982.1,1615.8 983.3,1611.5 982.9,1607.3 C982.5,1603.1 980.8,1599.7 978.3,1594.8 C975.8,1589.9 970.4,1583.2 968.1,1577.7 C965.8,1572.2 964.9,1566.9 964.7,1561.8 C964.5,1556.7 965.0,1551.9 966.9,1546.9 C968.8,1542.0 972.3,1536.1 976.1,1532.1 C979.9,1528.1 984.0,1525.1 989.7,1523.0 C995.4,1520.9 1004.9,1519.8 1010.2,1519.6Z" stroke="#000" stroke-width="2.10" fill="none" stroke-linejoin="round" stroke-linecap="round" />
<path d="M1010.3,1523.9 C1015.2,1523.7 1015.7,1524.7 1020.5,1526.0 C1025.2,1527.4 1032.5,1529.4 1038.9,1531.9 C1045.4,1534.4 1052.9,1538.8 1059.2,1541.3 C1065.5,1543.8 1069.9,1547.0 1076.7,1547.0 C1083.5,1547.0 1091.3,1544.4 1100.0,1541.3 C1108.6,1538.2 1121.9,1530.5 1128.7,1528.4 C1135.4,1526.4 1136.5,1527.4 1140.3,1529.0 C1144.2,1530.6 1148.4,1533.8 1151.7,1537.9 C1155.0,1541.9 1156.8,1548.2 1160.0,1553.4 C1163.2,1558.5 1165.9,1564.3 1170.9,1568.8 C1175.9,1573.3 1184.8,1576.4 1190.0,1580.5 C1195.1,1584.7 1199.4,1589.0 1201.9,1593.7 C1204.4,1598.4 1205.2,1604.1 1205.0,1608.9 C1204.8,1613.8 1203.0,1618.6 1200.6,1622.9 C1198.1,1627.1 1199.2,1628.2 1190.2,1634.5 C1181.2,1640.8 1156.1,1653.8 1146.7,1660.6 C1137.3,1667.4 1136.3,1669.9 1133.7,1675.4 C1131.1,1680.8 1130.5,1684.6 1131.1,1693.5 C1131.8,1702.3 1136.5,1719.9 1137.6,1728.4 C1138.7,1736.9 1138.7,1738.9 1137.7,1744.5 C1136.6,1750.0 1135.2,1756.2 1131.3,1761.5 C1127.3,1766.8 1119.8,1773.2 1113.9,1776.3 C1108.0,1779.4 1101.3,1780.3 1095.8,1780.1 C1090.2,1779.9 1085.1,1778.0 1080.6,1775.0 C1076.1,1772.0 1072.5,1768.7 1068.9,1762.0 C1065.3,1755.4 1062.1,1743.2 1059.0,1735.1 C1055.9,1727.0 1053.3,1718.9 1050.3,1713.5 C1047.2,1708.0 1045.0,1704.9 1040.7,1702.6 C1036.4,1700.3 1029.7,1699.1 1024.3,1699.9 C1018.9,1700.6 1013.4,1704.3 1008.1,1707.2 C1002.8,1710.1 997.9,1714.9 992.6,1717.3 C987.3,1719.6 982.5,1721.9 976.3,1721.5 C970.2,1721.2 960.4,1718.0 955.5,1715.2 C950.6,1712.4 948.8,1708.6 946.9,1704.5 C944.9,1700.4 943.7,1695.3 943.9,1690.7 C944.1,1686.0 942.3,1686.2 947.9,1676.6 C953.5,1667.1 971.3,1642.8 977.4,1633.6 C983.5,1624.4 983.0,1625.8 984.6,1621.3 C986.3,1616.9 987.6,1611.6 987.2,1606.9 C986.8,1602.2 984.7,1598.0 982.1,1592.9 C979.6,1587.7 974.3,1581.3 972.1,1576.1 C969.9,1570.9 969.2,1566.2 969.0,1561.6 C968.8,1557.0 969.2,1552.9 970.9,1548.4 C972.6,1544.0 975.8,1538.6 979.2,1535.1 C982.6,1531.5 986.0,1528.9 991.2,1527.0 C996.4,1525.2 1005.5,1524.1 1010.3,1523.9Z" stroke="#000" stroke-width="2.10" fill="none" stroke-linejoin="round" stroke-linecap="round" />
<circle cx="1063.6" cy="1629" r="29" fill="none" stroke="#000" stroke-width="2.1"/>
<line x1="1036.2" y1="1620.3" x2="1092.4" y2="1639.2" stroke="#000" stroke-width="2.10" />
<line x1="1073.3" y1="1601.3" x2="1054.5" y2="1656.5" stroke="#000" stroke-width="2.10" />
</svg>
</body></html>
